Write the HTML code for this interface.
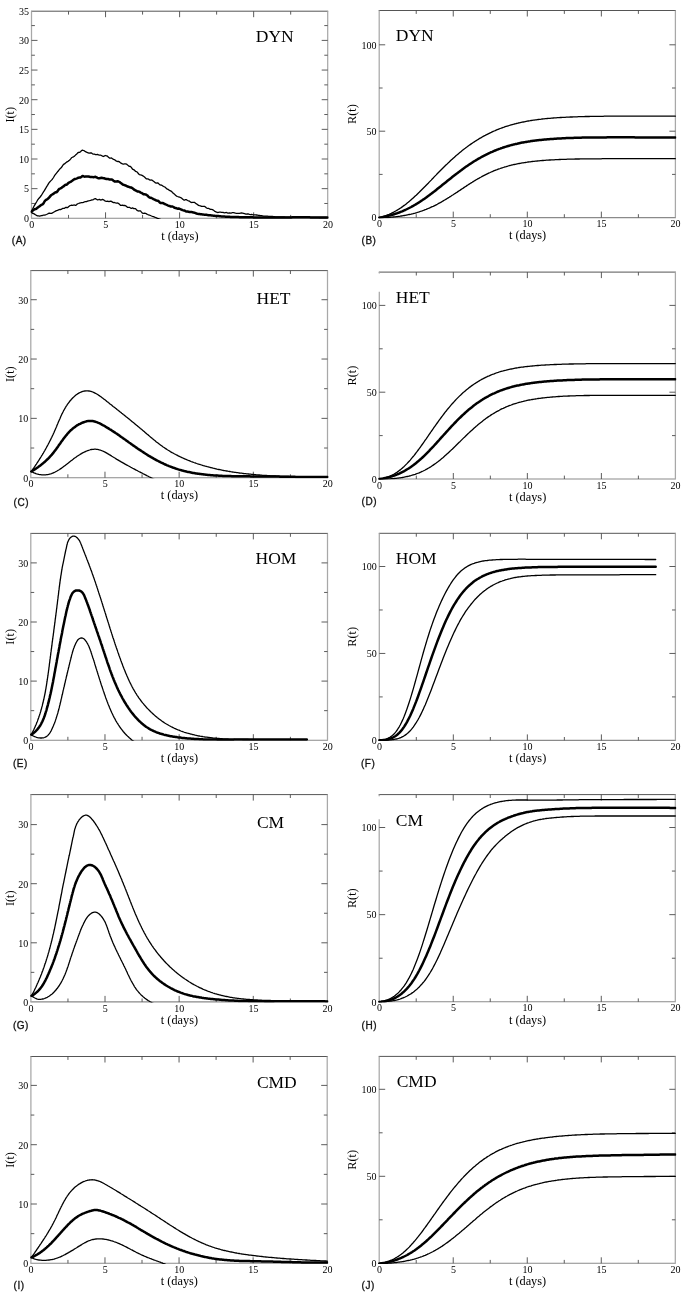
<!DOCTYPE html>
<html><head><meta charset="utf-8"><style>
html,body{margin:0;padding:0;background:#fff;}
body{width:685px;height:1302px;overflow:hidden;}
svg{display:block;will-change:transform;}
.fh{fill:none;stroke:#555;stroke-width:1;}
.fb{fill:none;stroke:#8a8a8a;stroke-width:1.1;}
.fv{fill:none;stroke:#a8a8a8;stroke-width:1.25;}
.t{fill:none;stroke:#4a4a4a;stroke-width:0.9;}
.th{fill:none;stroke:#000;stroke-width:1.3;stroke-linejoin:round;stroke-linecap:round;}
.tk{fill:none;stroke:#000;stroke-width:2.5;stroke-linejoin:round;stroke-linecap:round;}
text{font-family:"Liberation Serif",serif;fill:#000;}
.n{font-size:10px;}
.a{font-size:12.3px;}
.ti{font-size:17.5px;}
.pl{font-family:"Liberation Sans",sans-serif;font-size:10px;fill:#111;stroke:#111;stroke-width:0.3px;letter-spacing:0.5px;}
</style></head><body>
<svg width="685" height="1302" viewBox="0 0 685 1302">
<defs><clipPath id="cA"><rect x="30.50" y="10.20" width="298.20" height="208.70"/></clipPath><clipPath id="cC"><rect x="29.80" y="269.60" width="298.70" height="208.70"/></clipPath><clipPath id="cE"><rect x="29.80" y="532.40" width="298.70" height="208.40"/></clipPath><clipPath id="cG"><rect x="29.90" y="793.60" width="298.50" height="208.90"/></clipPath><clipPath id="cI"><rect x="29.90" y="1055.50" width="298.30" height="208.40"/></clipPath><clipPath id="cB"><rect x="378.20" y="9.50" width="298.20" height="208.70"/></clipPath><clipPath id="cD"><rect x="378.30" y="271.10" width="298.10" height="208.50"/></clipPath><clipPath id="cF"><rect x="378.30" y="532.30" width="298.10" height="208.70"/></clipPath><clipPath id="cH"><rect x="378.20" y="793.60" width="298.10" height="208.80"/></clipPath><clipPath id="cJ"><rect x="378.20" y="1055.40" width="298.10" height="208.50"/></clipPath></defs>
<rect width="685" height="1302" fill="#fff"/>
<g><path d="M31.00,11.20H328.20" class="fh"/><path d="M31.00,218.30H328.20" class="fb"/><path d="M31.50,11.20V218.30M327.70,11.20V218.30" class="fv"/><path d="M68.53,218.30v-3.4M68.53,11.20v3.4M105.55,218.30v-6.0M105.55,11.20v6.0M142.57,218.30v-3.4M142.57,11.20v3.4M179.60,218.30v-6.0M179.60,11.20v6.0M216.62,218.30v-3.4M216.62,11.20v3.4M253.65,218.30v-6.0M253.65,11.20v6.0M290.68,218.30v-3.4M290.68,11.20v3.4M31.50,203.48h3.4M327.70,203.48h-3.4M31.50,188.65h6.0M327.70,188.65h-6.0M31.50,173.83h3.4M327.70,173.83h-3.4M31.50,159.00h6.0M327.70,159.00h-6.0M31.50,144.18h3.4M327.70,144.18h-3.4M31.50,129.35h6.0M327.70,129.35h-6.0M31.50,114.53h3.4M327.70,114.53h-3.4M31.50,99.70h6.0M327.70,99.70h-6.0M31.50,84.88h3.4M327.70,84.88h-3.4M31.50,70.05h6.0M327.70,70.05h-6.0M31.50,55.23h3.4M327.70,55.23h-3.4M31.50,40.40h6.0M327.70,40.40h-6.0M31.50,25.58h3.4M327.70,25.58h-3.4" class="t"/><text x="31.70" y="227.90" class="n" text-anchor="middle">0</text><text x="105.75" y="227.90" class="n" text-anchor="middle">5</text><text x="179.80" y="227.90" class="n" text-anchor="middle">10</text><text x="253.85" y="227.90" class="n" text-anchor="middle">15</text><text x="327.90" y="227.90" class="n" text-anchor="middle">20</text><text x="28.90" y="222.10" class="n" text-anchor="end">0</text><text x="28.90" y="192.45" class="n" text-anchor="end">5</text><text x="28.90" y="162.80" class="n" text-anchor="end">10</text><text x="28.90" y="133.15" class="n" text-anchor="end">15</text><text x="28.90" y="103.50" class="n" text-anchor="end">20</text><text x="28.90" y="73.85" class="n" text-anchor="end">25</text><text x="28.90" y="44.20" class="n" text-anchor="end">30</text><text x="28.90" y="14.55" class="n" text-anchor="end">35</text><text x="179.90" y="240.00" class="a" text-anchor="middle">t (days)</text><text transform="translate(14.30,114.75) rotate(-90)" class="a" text-anchor="middle">I(t)</text><text x="255.80" y="42.30" class="ti">DYN</text><text x="11.80" y="243.50" class="pl">(A)</text><g clip-path="url(#cA)"><path d="M31.5,211.4 L32.5,209.2 L33.5,207.3 L34.5,205.3 L35.5,203.6 L36.5,202.0 L37.5,200.2 L38.5,198.8 L39.5,197.8 L40.5,196.5 L41.5,195.1 L42.5,193.5 L43.5,191.9 L44.5,190.4 L45.5,188.7 L46.5,186.9 L47.5,185.3 L48.5,183.6 L49.5,182.2 L50.5,181.1 L51.5,180.1 L52.5,179.0 L53.5,177.5 L54.5,175.7 L55.5,174.4 L56.5,173.1 L57.5,171.8 L58.5,170.7 L59.5,169.4 L60.5,168.3 L61.5,167.4 L62.5,165.8 L63.5,164.4 L64.5,163.9 L65.5,163.0 L66.5,162.2 L67.5,161.7 L68.5,160.9 L69.5,160.2 L70.5,159.1 L71.5,157.8 L72.5,157.2 L73.5,156.8 L74.5,156.1 L75.5,155.1 L76.5,154.3 L77.5,153.1 L78.5,152.4 L79.5,152.4 L80.5,151.7 L81.5,150.6 L82.5,150.2 L83.5,150.5 L84.5,150.9 L85.5,151.7 L86.5,152.2 L87.5,152.6 L88.5,153.0 L89.5,153.1 L90.5,152.9 L91.5,153.0 L92.5,153.8 L93.5,154.1 L94.5,154.2 L95.5,154.6 L96.5,154.6 L97.5,154.4 L98.5,154.9 L99.5,155.1 L100.5,155.1 L101.5,155.5 L102.5,156.2 L103.5,156.5 L104.5,155.9 L105.5,155.5 L106.5,155.8 L107.5,156.2 L108.5,157.2 L109.5,158.1 L110.5,158.1 L111.5,158.0 L112.5,158.7 L113.5,159.4 L114.5,159.7 L115.5,160.4 L116.5,161.2 L117.5,161.5 L118.5,161.3 L119.5,161.9 L120.5,162.8 L121.5,163.3 L122.5,163.8 L123.5,164.2 L124.5,163.9 L125.5,163.8 L126.5,164.1 L127.5,164.9 L128.5,165.9 L129.5,166.4 L130.5,166.5 L131.5,167.6 L132.5,169.2 L133.5,169.7 L134.5,170.2 L135.5,171.3 L136.5,171.7 L137.5,172.3 L138.5,173.8 L139.5,174.7 L140.5,174.9 L141.5,175.1 L142.5,175.6 L143.5,176.3 L144.5,177.0 L145.5,178.0 L146.5,178.9 L147.5,178.8 L148.5,179.1 L149.5,179.9 L150.5,180.2 L151.5,180.0 L152.5,180.4 L153.5,181.3 L154.5,182.1 L155.5,182.9 L156.5,183.2 L157.5,182.8 L158.5,183.4 L159.5,184.6 L160.5,185.0 L161.5,185.1 L162.5,185.7 L163.5,186.5 L164.5,186.8 L165.5,187.5 L166.5,188.6 L167.5,189.2 L168.5,189.7 L169.5,190.4 L170.5,190.9 L171.5,191.4 L172.5,192.5 L173.5,193.5 L174.5,194.1 L175.5,195.2 L176.5,196.1 L177.5,196.5 L178.5,196.8 L179.5,197.1 L180.5,197.5 L181.5,198.1 L182.5,198.9 L183.5,199.8 L184.5,200.2 L185.5,199.7 L186.5,199.7 L187.5,200.5 L188.5,200.8 L189.5,201.2 L190.5,202.1 L191.5,202.5 L192.5,202.4 L193.5,202.3 L194.5,202.3 L195.5,203.2 L196.5,203.9 L197.5,204.5 L198.5,205.4 L199.5,205.7 L200.5,205.8 L201.5,206.3 L202.5,206.4 L203.5,206.3 L204.5,206.4 L205.5,207.0 L206.5,208.0 L207.5,208.3 L208.5,208.3 L209.5,208.9 L210.5,209.4 L211.5,209.4 L212.5,209.6 L213.5,210.3 L214.5,211.1 L215.5,211.7 L216.5,212.2 L217.5,212.5 L218.5,212.3 L219.5,212.1 L220.5,212.2 L221.5,212.3 L222.5,212.3 L223.5,212.5 L224.5,212.8 L225.5,212.6 L226.5,212.5 L227.5,213.0 L228.5,213.1 L229.5,212.9 L230.5,213.2 L231.5,213.0 L232.5,212.7 L233.5,212.6 L234.5,212.9 L235.5,213.2 L236.5,213.4 L237.5,213.4 L238.5,213.3 L239.5,213.3 L240.5,213.1 L241.5,213.0 L242.5,213.1 L243.5,213.3 L244.5,213.6 L245.5,214.0 L246.5,214.1 L247.5,213.9 L248.5,214.0 L249.5,214.4 L250.5,214.6 L251.5,214.5 L252.5,214.7 L253.5,214.8 L254.5,214.8 L255.5,214.9 L256.5,215.0 L257.5,215.2 L258.5,215.4 L259.5,215.5 L260.5,215.6 L261.5,215.7 L262.5,215.9 L263.5,216.1 L264.5,216.1 L265.5,216.1 L266.5,216.2 L267.5,216.2 L268.5,216.3 L269.5,216.4 L270.5,216.4 L271.5,216.4 L272.5,216.5 L273.5,216.6 L274.5,216.7 L275.5,216.8 L276.5,216.8 L277.5,216.8 L278.5,216.9 L279.5,216.9 L280.5,217.0 L281.5,217.0 L282.5,217.0 L283.5,217.0 L284.5,217.0 L285.5,217.1 L286.5,217.1 L287.5,217.1 L288.5,217.2 L289.5,217.2 L290.5,217.2 L291.5,217.2 L292.5,217.3 L293.5,217.3 L294.5,217.3 L295.5,217.3 L296.5,217.3 L297.5,217.3 L298.5,217.3 L299.5,217.4 L300.5,217.4 L301.5,217.4 L302.5,217.4 L303.5,217.4 L304.5,217.4 L305.5,217.4 L306.5,217.4 L307.5,217.4 L308.5,217.4 L309.5,217.4 L310.5,217.4 L311.5,217.4 L312.5,217.4 L313.5,217.4 L314.5,217.4 L315.5,217.4 L316.5,217.4 L317.5,217.4 L318.5,217.4 L319.5,217.5 L320.5,217.5 L321.5,217.5 L322.5,217.5 L323.5,217.5 L324.5,217.5 L325.5,217.5 L326.5,217.5" class="th"/><path d="M31.5,212.5 L32.5,213.3 L33.5,213.5 L34.5,214.1 L35.5,214.8 L36.5,215.4 L37.5,215.8 L38.5,215.9 L39.5,216.1 L40.5,215.9 L41.5,215.7 L42.5,215.5 L43.5,215.2 L44.5,215.1 L45.5,214.8 L46.5,214.5 L47.5,214.0 L48.5,213.4 L49.5,213.1 L50.5,213.3 L51.5,213.3 L52.5,212.9 L53.5,212.3 L54.5,211.7 L55.5,211.1 L56.5,210.6 L57.5,210.3 L58.5,209.8 L59.5,209.5 L60.5,209.7 L61.5,209.2 L62.5,208.4 L63.5,208.4 L64.5,208.3 L65.5,207.5 L66.5,207.5 L67.5,207.7 L68.5,206.8 L69.5,205.9 L70.5,205.5 L71.5,205.2 L72.5,205.3 L73.5,205.1 L74.5,205.0 L75.5,205.3 L76.5,204.8 L77.5,203.8 L78.5,203.5 L79.5,203.1 L80.5,202.8 L81.5,202.7 L82.5,202.6 L83.5,202.4 L84.5,201.8 L85.5,201.7 L86.5,201.6 L87.5,201.1 L88.5,200.8 L89.5,200.7 L90.5,200.4 L91.5,200.0 L92.5,199.9 L93.5,199.6 L94.5,198.8 L95.5,198.6 L96.5,199.3 L97.5,199.9 L98.5,199.7 L99.5,199.4 L100.5,200.0 L101.5,199.8 L102.5,199.3 L103.5,199.8 L104.5,200.6 L105.5,201.1 L106.5,201.3 L107.5,201.2 L108.5,201.5 L109.5,201.5 L110.5,201.2 L111.5,201.4 L112.5,202.1 L113.5,202.6 L114.5,202.5 L115.5,202.9 L116.5,203.1 L117.5,203.0 L118.5,203.4 L119.5,204.3 L120.5,205.4 L121.5,205.4 L122.5,205.1 L123.5,205.5 L124.5,205.5 L125.5,205.7 L126.5,206.4 L127.5,207.3 L128.5,207.3 L129.5,207.3 L130.5,208.1 L131.5,208.3 L132.5,207.9 L133.5,208.5 L134.5,208.7 L135.5,208.6 L136.5,209.7 L137.5,210.7 L138.5,211.0 L139.5,210.8 L140.5,210.9 L141.5,212.1 L142.5,213.2 L143.5,213.4 L144.5,213.2 L145.5,213.3 L146.5,213.9 L147.5,214.5 L148.5,214.8 L149.5,215.2 L150.5,215.5 L151.5,216.0 L152.5,216.4 L153.5,216.7 L154.5,217.1 L155.5,217.5 L156.5,217.9 L157.5,218.3 L158.5,218.6 L159.5,219.0 L160.5,219.4 L161.5,219.8" class="th"/><path d="M31.5,211.7 L32.5,210.8 L33.5,210.1 L34.5,209.3 L35.5,209.0 L36.5,208.7 L37.5,207.7 L38.5,206.9 L39.5,206.4 L40.5,205.5 L41.5,204.8 L42.5,204.4 L43.5,203.3 L44.5,201.5 L45.5,200.2 L46.5,199.6 L47.5,199.1 L48.5,198.3 L49.5,197.1 L50.5,195.9 L51.5,194.8 L52.5,194.4 L53.5,193.8 L54.5,192.8 L55.5,192.3 L56.5,192.2 L57.5,191.3 L58.5,189.7 L59.5,188.8 L60.5,188.4 L61.5,187.9 L62.5,187.0 L63.5,186.4 L64.5,185.6 L65.5,184.8 L66.5,184.7 L67.5,183.9 L68.5,182.8 L69.5,182.3 L70.5,181.9 L71.5,181.2 L72.5,180.5 L73.5,179.7 L74.5,179.1 L75.5,178.9 L76.5,178.6 L77.5,178.2 L78.5,177.7 L79.5,177.5 L80.5,177.5 L81.5,176.8 L82.5,176.0 L83.5,176.3 L84.5,176.7 L85.5,176.6 L86.5,176.6 L87.5,176.6 L88.5,176.5 L89.5,176.8 L90.5,177.1 L91.5,176.9 L92.5,177.1 L93.5,177.2 L94.5,176.9 L95.5,176.8 L96.5,177.3 L97.5,177.9 L98.5,178.3 L99.5,178.3 L100.5,178.0 L101.5,177.8 L102.5,178.0 L103.5,178.2 L104.5,178.3 L105.5,178.8 L106.5,179.1 L107.5,179.0 L108.5,179.1 L109.5,179.5 L110.5,179.6 L111.5,179.4 L112.5,179.9 L113.5,180.8 L114.5,181.4 L115.5,181.6 L116.5,181.4 L117.5,181.3 L118.5,181.5 L119.5,182.0 L120.5,182.8 L121.5,183.5 L122.5,184.3 L123.5,184.8 L124.5,185.1 L125.5,185.5 L126.5,185.9 L127.5,186.6 L128.5,186.8 L129.5,187.1 L130.5,187.5 L131.5,187.6 L132.5,188.2 L133.5,189.1 L134.5,189.9 L135.5,190.4 L136.5,190.9 L137.5,191.5 L138.5,191.4 L139.5,191.8 L140.5,192.6 L141.5,192.9 L142.5,193.5 L143.5,194.3 L144.5,194.3 L145.5,194.4 L146.5,194.9 L147.5,195.6 L148.5,196.8 L149.5,197.5 L150.5,197.7 L151.5,198.0 L152.5,198.5 L153.5,199.2 L154.5,199.6 L155.5,200.0 L156.5,200.6 L157.5,200.7 L158.5,201.0 L159.5,202.2 L160.5,203.0 L161.5,202.9 L162.5,203.0 L163.5,203.3 L164.5,203.8 L165.5,204.3 L166.5,204.7 L167.5,205.3 L168.5,205.7 L169.5,205.9 L170.5,206.5 L171.5,206.6 L172.5,206.5 L173.5,207.0 L174.5,207.8 L175.5,208.0 L176.5,208.3 L177.5,208.7 L178.5,208.5 L179.5,208.7 L180.5,209.3 L181.5,209.6 L182.5,210.1 L183.5,210.4 L184.5,210.5 L185.5,211.1 L186.5,211.6 L187.5,211.6 L188.5,211.8 L189.5,212.0 L190.5,211.9 L191.5,211.9 L192.5,212.3 L193.5,212.6 L194.5,212.7 L195.5,213.1 L196.5,213.5 L197.5,213.8 L198.5,213.9 L199.5,214.0 L200.5,214.2 L201.5,214.3 L202.5,214.4 L203.5,214.6 L204.5,214.7 L205.5,214.8 L206.5,214.8 L207.5,215.1 L208.5,215.3 L209.5,215.3 L210.5,215.3 L211.5,215.4 L212.5,215.6 L213.5,215.7 L214.5,215.8 L215.5,215.9 L216.5,216.0 L217.5,216.0 L218.5,216.0 L219.5,216.2 L220.5,216.3 L221.5,216.4 L222.5,216.4 L223.5,216.5 L224.5,216.6 L225.5,216.7 L226.5,216.7 L227.5,216.7 L228.5,216.8 L229.5,216.8 L230.5,216.9 L231.5,216.9 L232.5,216.9 L233.5,217.0 L234.5,217.0 L235.5,217.1 L236.5,217.1 L237.5,217.1 L238.5,217.1 L239.5,217.2 L240.5,217.2 L241.5,217.2 L242.5,217.2 L243.5,217.2 L244.5,217.3 L245.5,217.3 L246.5,217.3 L247.5,217.3 L248.5,217.3 L249.5,217.3 L250.5,217.3 L251.5,217.3 L252.5,217.3 L253.5,217.4 L254.5,217.4 L255.5,217.4 L256.5,217.4 L257.5,217.4 L258.5,217.4 L259.5,217.4 L260.5,217.4 L261.5,217.4 L262.5,217.4 L263.5,217.4 L264.5,217.4 L265.5,217.4 L266.5,217.4 L267.5,217.4 L268.5,217.4 L269.5,217.4 L270.5,217.4 L271.5,217.4 L272.5,217.4 L273.5,217.4 L274.5,217.4 L275.5,217.4 L276.5,217.4 L277.5,217.4 L278.5,217.4 L279.5,217.4 L280.5,217.4 L281.5,217.4 L282.5,217.4 L283.5,217.4 L284.5,217.4 L285.5,217.4 L286.5,217.4 L287.5,217.4 L288.5,217.4 L289.5,217.4 L290.5,217.4 L291.5,217.4 L292.5,217.3 L293.5,217.3 L294.5,217.3 L295.5,217.3 L296.5,217.3 L297.5,217.3 L298.5,217.3 L299.5,217.3 L300.5,217.3 L301.5,217.3 L302.5,217.3 L303.5,217.3 L304.5,217.3 L305.5,217.3 L306.5,217.3 L307.5,217.3 L308.5,217.3 L309.5,217.3 L310.5,217.4 L311.5,217.4 L312.5,217.4 L313.5,217.4 L314.5,217.4 L315.5,217.4 L316.5,217.4 L317.5,217.4 L318.5,217.4 L319.5,217.4 L320.5,217.4 L321.5,217.4 L322.5,217.4 L323.5,217.4 L324.5,217.5 L325.5,217.5 L326.5,217.5 L327.5,217.5" class="tk"/></g></g>
<g><path d="M30.30,270.60H328.00" class="fh"/><path d="M30.30,477.70H328.00" class="fb"/><path d="M30.80,270.60V477.70M327.50,270.60V477.70" class="fv"/><path d="M67.89,477.70v-3.4M67.89,270.60v3.4M104.97,477.70v-6.0M104.97,270.60v6.0M142.06,477.70v-3.4M142.06,270.60v3.4M179.15,477.70v-6.0M179.15,270.60v6.0M216.24,477.70v-3.4M216.24,270.60v3.4M253.33,477.70v-6.0M253.33,270.60v6.0M290.41,477.70v-3.4M290.41,270.60v3.4M30.80,448.03h3.4M327.50,448.03h-3.4M30.80,418.37h6.0M327.50,418.37h-6.0M30.80,388.70h3.4M327.50,388.70h-3.4M30.80,359.04h6.0M327.50,359.04h-6.0M30.80,329.38h3.4M327.50,329.38h-3.4M30.80,299.71h6.0M327.50,299.71h-6.0" class="t"/><text x="31.00" y="487.30" class="n" text-anchor="middle">0</text><text x="105.17" y="487.30" class="n" text-anchor="middle">5</text><text x="179.35" y="487.30" class="n" text-anchor="middle">10</text><text x="253.53" y="487.30" class="n" text-anchor="middle">15</text><text x="327.70" y="487.30" class="n" text-anchor="middle">20</text><text x="28.20" y="481.50" class="n" text-anchor="end">0</text><text x="28.20" y="422.17" class="n" text-anchor="end">10</text><text x="28.20" y="362.84" class="n" text-anchor="end">20</text><text x="28.20" y="303.51" class="n" text-anchor="end">30</text><text x="179.45" y="499.40" class="a" text-anchor="middle">t (days)</text><text transform="translate(14.30,374.15) rotate(-90)" class="a" text-anchor="middle">I(t)</text><text x="256.50" y="303.50" class="ti">HET</text><text x="13.60" y="505.80" class="pl">(C)</text><g clip-path="url(#cC)"><path d="M31.3,471.5 L31.9,470.7 L32.4,469.9 L33.0,469.0 L33.6,468.2 L34.2,467.4 L34.7,466.6 L35.3,465.7 L35.8,464.9 L36.4,464.1 L36.9,463.2 L37.5,462.4 L38.0,461.6 L38.6,460.7 L39.1,459.9 L39.6,459.0 L40.2,458.2 L40.7,457.3 L41.2,456.5 L41.7,455.6 L42.3,454.8 L42.8,453.9 L43.3,453.1 L43.8,452.2 L44.3,451.3 L44.8,450.5 L45.3,449.6 L45.8,448.7 L46.3,447.8 L46.7,447.0 L47.2,446.1 L47.7,445.2 L48.2,444.3 L48.6,443.4 L49.1,442.6 L49.5,441.7 L50.0,440.8 L50.5,439.9 L50.9,439.0 L51.3,438.1 L51.8,437.2 L52.2,436.3 L52.6,435.4 L53.1,434.5 L53.5,433.6 L53.9,432.7 L54.3,431.7 L54.7,430.8 L55.1,429.9 L55.5,429.0 L55.9,428.1 L56.3,427.2 L56.7,426.2 L57.0,425.3 L57.4,424.4 L57.8,423.5 L58.2,422.5 L58.6,421.6 L59.0,420.7 L59.4,419.8 L59.8,418.9 L60.2,417.9 L60.6,417.0 L61.0,416.1 L61.4,415.2 L61.8,414.3 L62.3,413.4 L62.7,412.5 L63.2,411.6 L63.6,410.7 L64.1,409.9 L64.6,409.0 L65.1,408.1 L65.6,407.3 L66.1,406.4 L66.7,405.6 L67.2,404.7 L67.8,403.9 L68.4,403.1 L69.0,402.3 L69.6,401.5 L70.2,400.7 L70.9,400.0 L71.5,399.2 L72.2,398.5 L72.9,397.8 L73.6,397.1 L74.4,396.4 L75.1,395.7 L75.9,395.1 L76.7,394.5 L77.5,393.9 L78.4,393.4 L79.2,392.9 L80.1,392.5 L81.0,392.1 L82.0,391.7 L82.9,391.4 L83.9,391.2 L84.9,391.0 L85.9,390.9 L86.9,390.9 L87.9,390.9 L88.9,391.0 L89.9,391.2 L90.8,391.4 L91.8,391.7 L92.7,392.0 L93.6,392.4 L94.6,392.9 L95.4,393.3 L96.3,393.8 L97.2,394.3 L98.0,394.8 L98.9,395.4 L99.7,395.9 L100.5,396.5 L101.3,397.1 L102.1,397.7 L102.9,398.3 L103.7,398.9 L104.5,399.5 L105.3,400.1 L106.1,400.7 L106.9,401.4 L107.7,402.0 L108.4,402.6 L109.2,403.2 L110.0,403.9 L110.8,404.5 L111.6,405.1 L112.3,405.7 L113.1,406.4 L113.9,407.0 L114.7,407.6 L115.5,408.2 L116.3,408.8 L117.0,409.5 L117.8,410.1 L118.6,410.7 L119.4,411.3 L120.2,412.0 L121.0,412.6 L121.7,413.2 L122.5,413.8 L123.3,414.5 L124.1,415.1 L124.9,415.7 L125.6,416.3 L126.4,417.0 L127.2,417.6 L128.0,418.2 L128.8,418.8 L129.5,419.5 L130.3,420.1 L131.1,420.7 L131.9,421.4 L132.6,422.0 L133.4,422.6 L134.2,423.2 L135.0,423.9 L135.7,424.5 L136.5,425.2 L137.3,425.8 L138.0,426.4 L138.8,427.1 L139.6,427.7 L140.3,428.4 L141.1,429.0 L141.9,429.6 L142.6,430.3 L143.4,430.9 L144.2,431.6 L144.9,432.2 L145.7,432.9 L146.4,433.5 L147.2,434.2 L148.0,434.8 L148.7,435.5 L149.5,436.1 L150.2,436.8 L151.0,437.4 L151.8,438.1 L152.5,438.7 L153.3,439.3 L154.1,440.0 L154.9,440.6 L155.6,441.2 L156.4,441.9 L157.2,442.5 L158.0,443.1 L158.8,443.7 L159.6,444.3 L160.4,444.9 L161.2,445.5 L162.0,446.1 L162.8,446.7 L163.6,447.2 L164.5,447.8 L165.3,448.4 L166.1,448.9 L167.0,449.5 L167.8,450.0 L168.7,450.5 L169.5,451.0 L170.4,451.6 L171.2,452.1 L172.1,452.6 L173.0,453.0 L173.8,453.5 L174.7,454.0 L175.6,454.5 L176.5,454.9 L177.4,455.4 L178.3,455.9 L179.2,456.3 L180.1,456.7 L181.0,457.2 L181.9,457.6 L182.8,458.0 L183.7,458.4 L184.6,458.8 L185.5,459.2 L186.5,459.6 L187.4,460.0 L188.3,460.4 L189.2,460.7 L190.2,461.1 L191.1,461.5 L192.0,461.8 L193.0,462.2 L193.9,462.5 L194.9,462.8 L195.8,463.2 L196.7,463.5 L197.7,463.8 L198.6,464.1 L199.6,464.4 L200.5,464.7 L201.5,465.0 L202.5,465.3 L203.4,465.6 L204.4,465.9 L205.3,466.2 L206.3,466.4 L207.3,466.7 L208.2,466.9 L209.2,467.2 L210.2,467.5 L211.1,467.7 L212.1,467.9 L213.1,468.2 L214.1,468.4 L215.0,468.6 L216.0,468.8 L217.0,469.1 L218.0,469.3 L218.9,469.5 L219.9,469.7 L220.9,469.9 L221.9,470.1 L222.9,470.3 L223.8,470.5 L224.8,470.6 L225.8,470.8 L226.8,471.0 L227.8,471.2 L228.8,471.3 L229.7,471.5 L230.7,471.7 L231.7,471.8 L232.7,472.0 L233.7,472.1 L234.7,472.3 L235.7,472.4 L236.7,472.6 L237.7,472.7 L238.7,472.8 L239.6,473.0 L240.6,473.1 L241.6,473.2 L242.6,473.3 L243.6,473.5 L244.6,473.6 L245.6,473.7 L246.6,473.8 L247.6,473.9 L248.6,474.0 L249.6,474.1 L250.6,474.2 L251.6,474.3 L252.6,474.4 L253.6,474.5 L254.6,474.6 L255.5,474.7 L256.5,474.8 L257.5,474.9 L258.5,475.0 L259.5,475.0 L260.5,475.1 L261.5,475.2 L262.5,475.3 L263.5,475.3 L264.5,475.4 L265.5,475.5 L266.5,475.5 L267.5,475.6 L268.5,475.7 L269.5,475.7 L270.5,475.8 L271.5,475.8 L272.5,475.9 L273.5,475.9 L274.5,476.0 L275.5,476.0 L276.5,476.1 L277.5,476.1 L278.5,476.2 L279.5,476.2 L280.5,476.3 L281.5,476.3 L282.5,476.3 L283.5,476.4 L284.5,476.4 L285.5,476.5 L286.5,476.5 L287.5,476.5 L288.5,476.5 L289.5,476.6 L290.5,476.6 L291.5,476.6 L292.5,476.7 L293.5,476.7 L294.5,476.7 L295.5,476.7 L296.5,476.7 L297.5,476.8 L298.5,476.8 L299.5,476.8 L300.5,476.8 L301.5,476.8 L302.5,476.8 L303.5,476.9 L304.5,476.9 L305.5,476.9 L306.5,476.9 L307.5,476.9 L308.5,476.9 L309.5,476.9 L310.5,476.9 L311.5,476.9 L312.5,476.9 L313.5,476.9 L314.5,477.0 L315.5,477.0 L316.5,477.0 L317.5,477.0 L318.5,477.0 L319.5,477.0 L320.5,477.0 L321.5,477.0 L322.5,477.0 L323.5,477.0 L324.5,477.0 L325.5,477.0 L326.5,477.0 L327.5,477.0 L327.5,477.0" class="th"/><path d="M31.3,471.5 L32.2,472.0 L33.1,472.4 L34.0,472.9 L34.9,473.2 L35.8,473.6 L36.8,473.9 L37.8,474.1 L38.7,474.4 L39.7,474.6 L40.7,474.7 L41.7,474.8 L42.7,474.9 L43.7,474.9 L44.7,474.9 L45.7,474.8 L46.7,474.7 L47.7,474.6 L48.6,474.4 L49.6,474.1 L50.6,473.9 L51.5,473.6 L52.5,473.2 L53.4,472.8 L54.3,472.4 L55.2,472.0 L56.1,471.5 L57.0,471.0 L57.8,470.5 L58.7,470.0 L59.5,469.5 L60.4,468.9 L61.2,468.4 L62.0,467.8 L62.8,467.2 L63.6,466.6 L64.4,466.0 L65.2,465.4 L66.0,464.8 L66.8,464.2 L67.6,463.6 L68.4,463.0 L69.2,462.3 L69.9,461.7 L70.7,461.1 L71.5,460.5 L72.3,459.9 L73.1,459.3 L73.9,458.6 L74.7,458.0 L75.5,457.5 L76.3,456.9 L77.1,456.3 L78.0,455.7 L78.8,455.2 L79.6,454.7 L80.5,454.1 L81.4,453.6 L82.2,453.1 L83.1,452.7 L84.0,452.2 L84.9,451.8 L85.8,451.4 L86.7,451.0 L87.7,450.6 L88.6,450.3 L89.6,450.0 L90.5,449.7 L91.5,449.5 L92.5,449.4 L93.5,449.3 L94.5,449.2 L95.5,449.2 L96.5,449.3 L97.5,449.4 L98.5,449.6 L99.4,449.9 L100.4,450.2 L101.3,450.5 L102.3,450.9 L103.2,451.2 L104.1,451.7 L105.0,452.1 L105.9,452.6 L106.8,453.1 L107.6,453.6 L108.5,454.1 L109.3,454.6 L110.2,455.1 L111.0,455.6 L111.9,456.2 L112.7,456.7 L113.6,457.2 L114.4,457.8 L115.3,458.3 L116.1,458.9 L116.9,459.4 L117.8,459.9 L118.7,460.4 L119.5,460.9 L120.4,461.4 L121.2,461.9 L122.1,462.4 L123.0,462.9 L123.9,463.4 L124.7,463.9 L125.6,464.4 L126.5,464.9 L127.4,465.3 L128.2,465.8 L129.1,466.3 L130.0,466.8 L130.9,467.3 L131.8,467.7 L132.6,468.2 L133.5,468.7 L134.4,469.1 L135.3,469.6 L136.2,470.1 L137.1,470.5 L137.9,471.0 L138.8,471.5 L139.7,471.9 L140.6,472.4 L141.5,472.8 L142.4,473.3 L143.3,473.8 L144.2,474.2 L145.0,474.7 L145.9,475.1 L146.8,475.6 L147.7,476.0 L148.6,476.5 L149.5,477.0 L150.4,477.4 L151.3,477.9 L152.2,478.3 L153.1,478.8 L153.9,479.2 L154.8,479.7 L155.7,480.2 L156.6,480.7 L157.4,481.2 L158.3,481.8 L159.1,482.3 L159.9,482.9 L160.0,483.0" class="th"/><path d="M31.3,471.5 L32.2,471.0 L33.0,470.5 L33.9,469.9 L34.7,469.4 L35.5,468.9 L36.4,468.3 L37.2,467.7 L38.0,467.2 L38.8,466.6 L39.6,466.0 L40.4,465.4 L41.2,464.8 L42.0,464.1 L42.8,463.5 L43.5,462.9 L44.3,462.2 L45.1,461.5 L45.8,460.9 L46.5,460.2 L47.2,459.5 L48.0,458.8 L48.7,458.1 L49.4,457.4 L50.0,456.6 L50.7,455.9 L51.4,455.2 L52.0,454.4 L52.7,453.6 L53.3,452.9 L53.9,452.1 L54.5,451.3 L55.1,450.5 L55.7,449.7 L56.3,448.9 L56.9,448.1 L57.5,447.2 L58.1,446.4 L58.6,445.6 L59.2,444.8 L59.8,444.0 L60.4,443.2 L60.9,442.3 L61.5,441.5 L62.1,440.7 L62.7,439.9 L63.3,439.1 L63.9,438.3 L64.5,437.5 L65.1,436.7 L65.7,435.9 L66.4,435.2 L67.0,434.4 L67.6,433.6 L68.3,432.9 L69.0,432.1 L69.7,431.4 L70.4,430.7 L71.1,430.0 L71.9,429.4 L72.6,428.7 L73.4,428.1 L74.2,427.5 L75.0,426.9 L75.8,426.3 L76.6,425.7 L77.5,425.2 L78.3,424.7 L79.2,424.2 L80.1,423.8 L81.0,423.3 L81.9,422.9 L82.9,422.5 L83.8,422.2 L84.7,421.9 L85.7,421.6 L86.7,421.3 L87.6,421.1 L88.6,421.0 L89.6,420.9 L90.6,420.9 L91.6,421.0 L92.6,421.1 L93.6,421.3 L94.6,421.5 L95.5,421.8 L96.5,422.1 L97.4,422.4 L98.3,422.8 L99.3,423.2 L100.2,423.7 L101.1,424.1 L101.9,424.6 L102.8,425.1 L103.7,425.5 L104.6,426.0 L105.4,426.6 L106.3,427.1 L107.1,427.6 L108.0,428.1 L108.8,428.6 L109.7,429.2 L110.5,429.7 L111.4,430.2 L112.2,430.8 L113.1,431.3 L113.9,431.9 L114.7,432.4 L115.6,433.0 L116.4,433.5 L117.2,434.1 L118.0,434.7 L118.9,435.2 L119.7,435.8 L120.5,436.4 L121.3,437.0 L122.1,437.5 L122.9,438.1 L123.8,438.7 L124.6,439.3 L125.4,439.8 L126.2,440.4 L127.0,441.0 L127.8,441.6 L128.6,442.2 L129.5,442.8 L130.3,443.3 L131.1,443.9 L131.9,444.5 L132.7,445.1 L133.5,445.6 L134.4,446.2 L135.2,446.8 L136.0,447.4 L136.8,447.9 L137.6,448.5 L138.5,449.1 L139.3,449.6 L140.1,450.2 L141.0,450.7 L141.8,451.3 L142.6,451.8 L143.5,452.4 L144.3,452.9 L145.2,453.5 L146.0,454.0 L146.8,454.5 L147.7,455.1 L148.5,455.6 L149.4,456.1 L150.3,456.6 L151.1,457.1 L152.0,457.6 L152.9,458.1 L153.7,458.6 L154.6,459.1 L155.5,459.6 L156.3,460.1 L157.2,460.5 L158.1,461.0 L159.0,461.5 L159.9,461.9 L160.8,462.4 L161.7,462.8 L162.6,463.2 L163.5,463.7 L164.4,464.1 L165.3,464.5 L166.2,464.9 L167.1,465.3 L168.1,465.7 L169.0,466.1 L169.9,466.4 L170.9,466.8 L171.8,467.1 L172.7,467.5 L173.7,467.8 L174.6,468.1 L175.6,468.5 L176.5,468.8 L177.5,469.1 L178.4,469.4 L179.4,469.7 L180.3,469.9 L181.3,470.2 L182.3,470.5 L183.2,470.7 L184.2,471.0 L185.2,471.2 L186.2,471.4 L187.1,471.7 L188.1,471.9 L189.1,472.1 L190.1,472.3 L191.0,472.5 L192.0,472.7 L193.0,472.9 L194.0,473.0 L195.0,473.2 L196.0,473.4 L196.9,473.5 L197.9,473.7 L198.9,473.8 L199.9,474.0 L200.9,474.1 L201.9,474.2 L202.9,474.3 L203.9,474.5 L204.9,474.6 L205.9,474.7 L206.9,474.8 L207.9,474.9 L208.9,475.0 L209.9,475.1 L210.8,475.2 L211.8,475.2 L212.8,475.3 L213.8,475.4 L214.8,475.5 L215.8,475.5 L216.8,475.6 L217.8,475.6 L218.8,475.7 L219.8,475.8 L220.8,475.8 L221.8,475.8 L222.8,475.9 L223.8,475.9 L224.8,476.0 L225.8,476.0 L226.8,476.0 L227.8,476.1 L228.8,476.1 L229.8,476.1 L230.8,476.1 L231.8,476.2 L232.8,476.2 L233.8,476.2 L234.8,476.2 L235.8,476.2 L236.8,476.2 L237.8,476.3 L238.8,476.3 L239.8,476.3 L240.8,476.3 L241.8,476.3 L242.8,476.3 L243.8,476.3 L244.8,476.3 L245.8,476.3 L246.8,476.3 L247.8,476.3 L248.8,476.3 L249.8,476.3 L250.8,476.4 L251.8,476.4 L252.8,476.4 L253.8,476.4 L254.8,476.4 L255.8,476.4 L256.8,476.4 L257.8,476.4 L258.8,476.4 L259.8,476.4 L260.8,476.4 L261.8,476.4 L262.8,476.5 L263.8,476.5 L264.8,476.5 L265.8,476.5 L266.8,476.5 L267.8,476.5 L268.8,476.5 L269.8,476.5 L270.8,476.5 L271.8,476.6 L272.8,476.6 L273.8,476.6 L274.8,476.6 L275.8,476.6 L276.8,476.6 L277.8,476.6 L278.8,476.6 L279.8,476.7 L280.8,476.7 L281.8,476.7 L282.8,476.7 L283.8,476.7 L284.8,476.7 L285.8,476.7 L286.8,476.7 L287.8,476.8 L288.8,476.8 L289.8,476.8 L290.8,476.8 L291.8,476.8 L292.8,476.8 L293.8,476.8 L294.8,476.8 L295.8,476.9 L296.8,476.9 L297.8,476.9 L298.8,476.9 L299.8,476.9 L300.8,476.9 L301.8,476.9 L302.8,476.9 L303.8,476.9 L304.8,476.9 L305.8,476.9 L306.8,477.0 L307.8,477.0 L308.8,477.0 L309.8,477.0 L310.8,477.0 L311.8,477.0 L312.8,477.0 L313.8,477.0 L314.8,477.0 L315.8,477.0 L316.8,477.0 L317.8,477.0 L318.8,477.0 L319.8,477.0 L320.8,477.0 L321.8,477.0 L322.8,477.0 L323.8,477.0 L324.8,477.0 L325.8,477.0 L326.8,477.0 L327.5,477.0" class="tk"/></g></g>
<g><path d="M30.30,533.40H328.00" class="fh"/><path d="M30.30,740.20H328.00" class="fb"/><path d="M30.80,533.40V740.20M327.50,533.40V740.20" class="fv"/><path d="M67.89,740.20v-3.4M67.89,533.40v3.4M104.97,740.20v-6.0M104.97,533.40v6.0M142.06,740.20v-3.4M142.06,533.40v3.4M179.15,740.20v-6.0M179.15,533.40v6.0M216.24,740.20v-3.4M216.24,533.40v3.4M253.33,740.20v-6.0M253.33,533.40v6.0M290.41,740.20v-3.4M290.41,533.40v3.4M30.80,710.65h3.4M327.50,710.65h-3.4M30.80,681.10h6.0M327.50,681.10h-6.0M30.80,651.55h3.4M327.50,651.55h-3.4M30.80,622.00h6.0M327.50,622.00h-6.0M30.80,592.45h3.4M327.50,592.45h-3.4M30.80,562.90h6.0M327.50,562.90h-6.0" class="t"/><text x="31.00" y="749.80" class="n" text-anchor="middle">0</text><text x="105.17" y="749.80" class="n" text-anchor="middle">5</text><text x="179.35" y="749.80" class="n" text-anchor="middle">10</text><text x="253.53" y="749.80" class="n" text-anchor="middle">15</text><text x="327.70" y="749.80" class="n" text-anchor="middle">20</text><text x="28.20" y="744.00" class="n" text-anchor="end">0</text><text x="28.20" y="684.90" class="n" text-anchor="end">10</text><text x="28.20" y="625.80" class="n" text-anchor="end">20</text><text x="28.20" y="566.70" class="n" text-anchor="end">30</text><text x="179.45" y="761.90" class="a" text-anchor="middle">t (days)</text><text transform="translate(14.30,636.80) rotate(-90)" class="a" text-anchor="middle">I(t)</text><text x="255.60" y="564.40" class="ti">HOM</text><text x="13.00" y="766.70" class="pl">(E)</text><g clip-path="url(#cE)"><path d="M31.3,734.6 L31.8,733.7 L32.2,732.8 L32.7,731.9 L33.1,731.0 L33.6,730.1 L34.0,729.2 L34.4,728.3 L34.8,727.4 L35.2,726.5 L35.6,725.6 L36.0,724.7 L36.4,723.7 L36.7,722.8 L37.1,721.9 L37.5,720.9 L37.8,720.0 L38.2,719.1 L38.5,718.1 L38.8,717.2 L39.1,716.2 L39.5,715.3 L39.8,714.3 L40.1,713.4 L40.4,712.4 L40.7,711.5 L40.9,710.5 L41.2,709.5 L41.5,708.6 L41.7,707.6 L42.0,706.6 L42.3,705.7 L42.5,704.7 L42.7,703.7 L43.0,702.8 L43.2,701.8 L43.4,700.8 L43.7,699.8 L43.9,698.9 L44.1,697.9 L44.3,696.9 L44.5,695.9 L44.7,695.0 L44.9,694.0 L45.1,693.0 L45.3,692.0 L45.5,691.0 L45.6,690.0 L45.8,689.1 L46.0,688.1 L46.1,687.1 L46.3,686.1 L46.5,685.1 L46.6,684.1 L46.8,683.1 L46.9,682.2 L47.1,681.2 L47.2,680.2 L47.4,679.2 L47.5,678.2 L47.7,677.2 L47.8,676.2 L48.0,675.2 L48.1,674.2 L48.2,673.2 L48.4,672.3 L48.5,671.3 L48.6,670.3 L48.8,669.3 L48.9,668.3 L49.0,667.3 L49.2,666.3 L49.3,665.3 L49.4,664.3 L49.5,663.3 L49.7,662.3 L49.8,661.3 L49.9,660.4 L50.0,659.4 L50.2,658.4 L50.3,657.4 L50.4,656.4 L50.6,655.4 L50.7,654.4 L50.8,653.4 L50.9,652.4 L51.1,651.4 L51.2,650.4 L51.3,649.4 L51.5,648.5 L51.6,647.5 L51.7,646.5 L51.9,645.5 L52.0,644.5 L52.1,643.5 L52.2,642.5 L52.4,641.5 L52.5,640.5 L52.6,639.5 L52.8,638.5 L52.9,637.5 L53.0,636.6 L53.2,635.6 L53.3,634.6 L53.4,633.6 L53.6,632.6 L53.7,631.6 L53.8,630.6 L53.9,629.6 L54.1,628.6 L54.2,627.6 L54.3,626.6 L54.5,625.7 L54.6,624.7 L54.7,623.7 L54.9,622.7 L55.0,621.7 L55.1,620.7 L55.2,619.7 L55.4,618.7 L55.5,617.7 L55.6,616.7 L55.8,615.7 L55.9,614.7 L56.0,613.8 L56.1,612.8 L56.3,611.8 L56.4,610.8 L56.5,609.8 L56.6,608.8 L56.8,607.8 L56.9,606.8 L57.0,605.8 L57.1,604.8 L57.3,603.8 L57.4,602.8 L57.5,601.8 L57.6,600.9 L57.7,599.9 L57.9,598.9 L58.0,597.9 L58.1,596.9 L58.2,595.9 L58.4,594.9 L58.5,593.9 L58.6,592.9 L58.7,591.9 L58.8,590.9 L59.0,589.9 L59.1,588.9 L59.2,588.0 L59.3,587.0 L59.5,586.0 L59.6,585.0 L59.7,584.0 L59.9,583.0 L60.0,582.0 L60.1,581.0 L60.3,580.0 L60.4,579.0 L60.6,578.0 L60.7,577.1 L60.8,576.1 L61.0,575.1 L61.2,574.1 L61.3,573.1 L61.5,572.1 L61.6,571.1 L61.8,570.1 L62.0,569.2 L62.1,568.2 L62.3,567.2 L62.5,566.2 L62.7,565.2 L62.9,564.2 L63.1,563.3 L63.3,562.3 L63.5,561.3 L63.7,560.3 L63.9,559.3 L64.1,558.4 L64.3,557.4 L64.5,556.4 L64.7,555.4 L64.9,554.4 L65.1,553.5 L65.3,552.5 L65.5,551.5 L65.7,550.5 L65.9,549.6 L66.2,548.6 L66.4,547.6 L66.6,546.6 L66.8,545.6 L67.0,544.7 L67.3,543.7 L67.5,542.7 L67.9,541.8 L68.3,540.9 L68.7,540.0 L69.2,539.1 L69.8,538.3 L70.5,537.6 L71.3,537.0 L72.1,536.4 L73.1,536.1 L74.1,536.1 L75.0,536.3 L75.9,536.8 L76.7,537.4 L77.5,538.1 L78.1,538.8 L78.7,539.6 L79.3,540.4 L79.8,541.3 L80.2,542.2 L80.7,543.1 L81.0,544.0 L81.4,544.9 L81.8,545.9 L82.1,546.8 L82.5,547.8 L82.8,548.7 L83.2,549.6 L83.5,550.6 L83.9,551.5 L84.3,552.4 L84.6,553.3 L85.0,554.3 L85.4,555.2 L85.7,556.1 L86.1,557.1 L86.5,558.0 L86.8,558.9 L87.2,559.9 L87.6,560.8 L87.9,561.7 L88.3,562.7 L88.6,563.6 L89.0,564.5 L89.3,565.5 L89.7,566.4 L90.0,567.3 L90.4,568.3 L90.7,569.2 L91.1,570.2 L91.4,571.1 L91.8,572.0 L92.1,573.0 L92.4,573.9 L92.8,574.9 L93.1,575.8 L93.4,576.7 L93.8,577.7 L94.1,578.6 L94.4,579.6 L94.7,580.5 L95.1,581.5 L95.4,582.4 L95.7,583.4 L96.0,584.3 L96.3,585.3 L96.7,586.2 L97.0,587.2 L97.3,588.1 L97.6,589.1 L97.9,590.0 L98.2,591.0 L98.5,591.9 L98.8,592.9 L99.1,593.8 L99.4,594.8 L99.8,595.7 L100.1,596.7 L100.4,597.6 L100.7,598.6 L101.0,599.5 L101.3,600.5 L101.6,601.4 L101.9,602.4 L102.2,603.3 L102.5,604.3 L102.8,605.3 L103.1,606.2 L103.4,607.2 L103.7,608.1 L104.0,609.1 L104.3,610.0 L104.6,611.0 L104.9,611.9 L105.2,612.9 L105.5,613.8 L105.8,614.8 L106.1,615.8 L106.4,616.7 L106.7,617.7 L107.0,618.6 L107.3,619.6 L107.6,620.5 L107.9,621.5 L108.2,622.4 L108.5,623.4 L108.8,624.3 L109.1,625.3 L109.4,626.2 L109.7,627.2 L110.0,628.2 L110.3,629.1 L110.6,630.1 L110.9,631.0 L111.2,632.0 L111.5,632.9 L111.8,633.9 L112.1,634.8 L112.4,635.8 L112.7,636.7 L113.0,637.7 L113.3,638.6 L113.7,639.6 L114.0,640.5 L114.3,641.5 L114.6,642.4 L114.9,643.4 L115.2,644.3 L115.5,645.3 L115.9,646.2 L116.2,647.2 L116.5,648.1 L116.8,649.1 L117.2,650.0 L117.5,650.9 L117.8,651.9 L118.1,652.8 L118.5,653.8 L118.8,654.7 L119.1,655.7 L119.5,656.6 L119.8,657.5 L120.2,658.5 L120.5,659.4 L120.8,660.4 L121.2,661.3 L121.5,662.2 L121.9,663.2 L122.2,664.1 L122.6,665.0 L122.9,666.0 L123.3,666.9 L123.7,667.9 L124.0,668.8 L124.4,669.7 L124.8,670.6 L125.1,671.6 L125.5,672.5 L125.9,673.4 L126.3,674.3 L126.7,675.3 L127.1,676.2 L127.5,677.1 L127.9,678.0 L128.3,678.9 L128.7,679.8 L129.1,680.7 L129.5,681.6 L130.0,682.5 L130.4,683.4 L130.9,684.3 L131.3,685.2 L131.8,686.1 L132.2,687.0 L132.7,687.9 L133.2,688.8 L133.7,689.6 L134.2,690.5 L134.7,691.4 L135.2,692.2 L135.7,693.1 L136.3,693.9 L136.8,694.8 L137.3,695.6 L137.9,696.4 L138.5,697.3 L139.0,698.1 L139.6,698.9 L140.2,699.7 L140.8,700.5 L141.4,701.3 L142.0,702.1 L142.6,702.9 L143.3,703.6 L143.9,704.4 L144.6,705.2 L145.2,705.9 L145.9,706.7 L146.5,707.4 L147.2,708.2 L147.9,708.9 L148.6,709.6 L149.3,710.3 L150.0,711.0 L150.7,711.7 L151.4,712.4 L152.2,713.1 L152.9,713.8 L153.6,714.5 L154.4,715.1 L155.1,715.8 L155.9,716.4 L156.7,717.1 L157.4,717.7 L158.2,718.3 L159.0,718.9 L159.8,719.5 L160.6,720.1 L161.4,720.7 L162.2,721.3 L163.1,721.9 L163.9,722.4 L164.7,723.0 L165.6,723.5 L166.4,724.0 L167.3,724.5 L168.2,725.0 L169.0,725.5 L169.9,726.0 L170.8,726.5 L171.7,726.9 L172.6,727.4 L173.5,727.8 L174.4,728.3 L175.3,728.7 L176.2,729.1 L177.1,729.5 L178.0,729.9 L179.0,730.2 L179.9,730.6 L180.8,731.0 L181.8,731.3 L182.7,731.6 L183.7,732.0 L184.6,732.3 L185.6,732.6 L186.5,732.9 L187.5,733.2 L188.4,733.4 L189.4,733.7 L190.4,734.0 L191.3,734.2 L192.3,734.5 L193.3,734.7 L194.2,734.9 L195.2,735.2 L196.2,735.4 L197.2,735.6 L198.2,735.8 L199.1,736.0 L200.1,736.2 L201.1,736.3 L202.1,736.5 L203.1,736.7 L204.1,736.8 L205.1,737.0 L206.0,737.1 L207.0,737.2 L208.0,737.4 L209.0,737.5 L210.0,737.6 L211.0,737.7 L212.0,737.8 L213.0,738.0 L214.0,738.1 L215.0,738.1 L216.0,738.2 L217.0,738.3 L218.0,738.4 L219.0,738.5 L220.0,738.6 L221.0,738.6 L222.0,738.7 L223.0,738.8 L224.0,738.8 L225.0,738.9 L226.0,738.9 L227.0,739.0 L228.0,739.0 L229.0,739.1 L230.0,739.1 L231.0,739.1 L232.0,739.2 L232.9,739.2 L233.9,739.2 L234.9,739.3 L235.9,739.3 L236.9,739.3 L237.9,739.4 L238.9,739.4 L239.9,739.4 L240.9,739.4 L241.9,739.4 L242.9,739.5 L243.9,739.5 L244.9,739.5 L245.9,739.5 L246.9,739.5 L247.9,739.5 L248.9,739.6 L249.9,739.6 L250.9,739.6 L251.9,739.6 L252.9,739.6 L253.9,739.6 L254.9,739.6 L255.9,739.6 L256.9,739.6 L257.9,739.6 L258.9,739.6 L259.9,739.6 L260.9,739.6 L261.9,739.6 L262.9,739.6 L263.9,739.6 L264.9,739.6 L265.9,739.6 L266.9,739.6 L267.9,739.6 L268.9,739.6 L269.9,739.6 L270.9,739.6 L271.9,739.6 L272.9,739.6 L273.9,739.6 L274.9,739.6 L275.9,739.6 L276.9,739.6 L277.9,739.6 L278.9,739.6 L279.9,739.6 L280.9,739.6 L281.9,739.6 L282.9,739.6 L283.9,739.6 L284.9,739.6 L285.9,739.6 L286.9,739.6 L287.9,739.6 L288.9,739.6 L289.9,739.6 L290.9,739.6 L291.9,739.6 L292.9,739.6 L293.9,739.6 L294.9,739.6 L295.9,739.6 L296.9,739.6 L297.9,739.6 L298.9,739.6 L299.9,739.6 L300.9,739.6 L301.9,739.6 L302.9,739.6 L303.9,739.6 L304.9,739.6 L305.9,739.6 L306.8,739.6" class="th"/><path d="M31.3,734.6 L32.1,735.2 L32.9,735.8 L33.8,736.2 L34.7,736.7 L35.7,737.0 L36.6,737.3 L37.6,737.6 L38.6,737.8 L39.5,737.9 L40.5,738.0 L41.5,738.0 L42.5,737.9 L43.5,737.8 L44.5,737.5 L45.4,737.1 L46.3,736.7 L47.1,736.1 L47.9,735.4 L48.5,734.7 L49.2,733.9 L49.7,733.1 L50.3,732.3 L50.8,731.4 L51.3,730.5 L51.7,729.6 L52.1,728.7 L52.5,727.8 L52.9,726.9 L53.3,726.0 L53.7,725.0 L54.1,724.1 L54.5,723.2 L54.8,722.2 L55.2,721.3 L55.5,720.4 L55.8,719.4 L56.1,718.5 L56.4,717.5 L56.7,716.6 L57.0,715.6 L57.3,714.6 L57.6,713.7 L57.9,712.7 L58.1,711.8 L58.4,710.8 L58.7,709.8 L58.9,708.9 L59.2,707.9 L59.4,706.9 L59.6,705.9 L59.9,705.0 L60.1,704.0 L60.3,703.0 L60.6,702.1 L60.8,701.1 L61.0,700.1 L61.2,699.1 L61.5,698.2 L61.7,697.2 L61.9,696.2 L62.1,695.2 L62.4,694.3 L62.6,693.3 L62.8,692.3 L63.0,691.3 L63.2,690.4 L63.5,689.4 L63.7,688.4 L63.9,687.4 L64.2,686.5 L64.4,685.5 L64.6,684.5 L64.8,683.5 L65.1,682.6 L65.3,681.6 L65.5,680.6 L65.7,679.6 L66.0,678.7 L66.2,677.7 L66.4,676.7 L66.7,675.8 L66.9,674.8 L67.1,673.8 L67.4,672.8 L67.6,671.9 L67.8,670.9 L68.1,669.9 L68.3,668.9 L68.5,668.0 L68.8,667.0 L69.0,666.0 L69.2,665.1 L69.5,664.1 L69.7,663.1 L69.9,662.1 L70.2,661.2 L70.4,660.2 L70.7,659.2 L70.9,658.3 L71.2,657.3 L71.4,656.3 L71.6,655.4 L71.9,654.4 L72.2,653.4 L72.4,652.5 L72.7,651.5 L73.0,650.5 L73.3,649.6 L73.6,648.6 L74.0,647.7 L74.3,646.8 L74.7,645.8 L75.1,644.9 L75.5,644.0 L75.9,643.1 L76.4,642.2 L76.9,641.3 L77.4,640.5 L78.0,639.7 L78.8,639.0 L79.6,638.5 L80.5,638.1 L81.5,637.9 L82.5,638.1 L83.4,638.5 L84.2,639.1 L84.9,639.8 L85.5,640.6 L86.1,641.4 L86.7,642.2 L87.2,643.1 L87.7,643.9 L88.1,644.8 L88.6,645.7 L89.0,646.6 L89.3,647.6 L89.7,648.5 L90.1,649.4 L90.4,650.4 L90.8,651.3 L91.1,652.3 L91.4,653.2 L91.7,654.2 L92.0,655.1 L92.3,656.1 L92.6,657.0 L92.9,658.0 L93.3,658.9 L93.6,659.9 L93.9,660.8 L94.2,661.8 L94.5,662.7 L94.7,663.7 L95.0,664.6 L95.3,665.6 L95.6,666.5 L95.9,667.5 L96.2,668.5 L96.5,669.4 L96.8,670.4 L97.1,671.3 L97.4,672.3 L97.7,673.2 L98.0,674.2 L98.3,675.1 L98.6,676.1 L98.9,677.1 L99.2,678.0 L99.5,679.0 L99.8,679.9 L100.1,680.9 L100.4,681.8 L100.7,682.8 L101.0,683.7 L101.3,684.7 L101.6,685.6 L101.9,686.6 L102.3,687.5 L102.6,688.5 L102.9,689.4 L103.2,690.4 L103.5,691.3 L103.9,692.3 L104.2,693.2 L104.5,694.2 L104.8,695.1 L105.2,696.0 L105.5,697.0 L105.8,697.9 L106.2,698.9 L106.5,699.8 L106.9,700.7 L107.2,701.7 L107.6,702.6 L107.9,703.5 L108.3,704.5 L108.7,705.4 L109.1,706.3 L109.4,707.3 L109.8,708.2 L110.2,709.1 L110.6,710.0 L111.0,710.9 L111.4,711.8 L111.8,712.8 L112.3,713.7 L112.7,714.6 L113.1,715.5 L113.6,716.4 L114.0,717.3 L114.5,718.1 L115.0,719.0 L115.4,719.9 L115.9,720.8 L116.4,721.6 L116.9,722.5 L117.5,723.4 L118.0,724.2 L118.5,725.0 L119.1,725.9 L119.6,726.7 L120.2,727.5 L120.8,728.3 L121.4,729.1 L122.0,729.9 L122.6,730.7 L123.2,731.5 L123.9,732.3 L124.5,733.0 L125.2,733.8 L125.9,734.5 L126.6,735.2 L127.3,735.9 L128.0,736.6 L128.8,737.3 L129.5,738.0 L130.3,738.6 L131.0,739.2 L131.8,739.9 L132.6,740.5 L133.4,741.1 L134.2,741.6 L135.1,742.2 L135.9,742.7 L136.8,743.2 L137.6,743.7 L138.5,744.2 L139.4,744.7 L140.0,745.0" class="th"/><path d="M31.3,734.6 L32.1,734.1 L33.0,733.5 L33.8,732.9 L34.5,732.3 L35.3,731.6 L36.0,730.9 L36.7,730.2 L37.4,729.4 L38.0,728.6 L38.6,727.9 L39.2,727.0 L39.7,726.2 L40.3,725.4 L40.8,724.5 L41.3,723.6 L41.7,722.7 L42.2,721.8 L42.6,720.9 L43.0,720.0 L43.4,719.1 L43.8,718.2 L44.1,717.2 L44.5,716.3 L44.8,715.4 L45.1,714.4 L45.4,713.5 L45.7,712.5 L46.0,711.5 L46.3,710.6 L46.6,709.6 L46.8,708.7 L47.1,707.7 L47.4,706.7 L47.6,705.8 L47.9,704.8 L48.1,703.8 L48.4,702.9 L48.6,701.9 L48.9,700.9 L49.1,700.0 L49.3,699.0 L49.6,698.0 L49.8,697.0 L50.0,696.1 L50.2,695.1 L50.5,694.1 L50.7,693.1 L50.9,692.2 L51.1,691.2 L51.3,690.2 L51.5,689.2 L51.7,688.2 L51.9,687.3 L52.1,686.3 L52.3,685.3 L52.5,684.3 L52.7,683.3 L52.9,682.4 L53.1,681.4 L53.2,680.4 L53.4,679.4 L53.6,678.4 L53.8,677.4 L54.0,676.5 L54.2,675.5 L54.3,674.5 L54.5,673.5 L54.7,672.5 L54.9,671.5 L55.1,670.6 L55.2,669.6 L55.4,668.6 L55.6,667.6 L55.8,666.6 L56.0,665.6 L56.1,664.7 L56.3,663.7 L56.5,662.7 L56.7,661.7 L56.8,660.7 L57.0,659.7 L57.2,658.8 L57.4,657.8 L57.6,656.8 L57.7,655.8 L57.9,654.8 L58.1,653.8 L58.3,652.8 L58.5,651.9 L58.6,650.9 L58.8,649.9 L59.0,648.9 L59.2,647.9 L59.4,646.9 L59.5,646.0 L59.7,645.0 L59.9,644.0 L60.1,643.0 L60.3,642.0 L60.5,641.0 L60.6,640.1 L60.8,639.1 L61.0,638.1 L61.2,637.1 L61.4,636.1 L61.6,635.2 L61.8,634.2 L62.0,633.2 L62.2,632.2 L62.3,631.2 L62.5,630.2 L62.7,629.3 L62.9,628.3 L63.1,627.3 L63.3,626.3 L63.5,625.3 L63.7,624.4 L63.9,623.4 L64.1,622.4 L64.3,621.4 L64.5,620.4 L64.7,619.5 L64.9,618.5 L65.1,617.5 L65.3,616.5 L65.6,615.6 L65.8,614.6 L66.0,613.6 L66.2,612.6 L66.4,611.6 L66.6,610.7 L66.9,609.7 L67.1,608.7 L67.3,607.8 L67.6,606.8 L67.8,605.8 L68.1,604.9 L68.4,603.9 L68.6,602.9 L68.9,602.0 L69.2,601.0 L69.5,600.1 L69.9,599.1 L70.2,598.2 L70.5,597.2 L70.9,596.3 L71.3,595.4 L71.7,594.5 L72.2,593.6 L72.8,592.8 L73.5,592.0 L74.2,591.4 L75.1,590.9 L76.0,590.5 L77.0,590.4 L78.0,590.4 L79.0,590.5 L79.9,590.8 L80.8,591.2 L81.6,591.8 L82.3,592.5 L83.0,593.3 L83.5,594.2 L84.0,595.0 L84.4,595.9 L84.8,596.9 L85.1,597.8 L85.5,598.7 L85.9,599.6 L86.3,600.6 L86.6,601.5 L87.0,602.4 L87.3,603.4 L87.7,604.3 L88.0,605.3 L88.4,606.2 L88.7,607.1 L89.0,608.1 L89.4,609.0 L89.7,610.0 L90.0,610.9 L90.3,611.9 L90.7,612.8 L91.0,613.8 L91.3,614.7 L91.6,615.6 L92.0,616.6 L92.3,617.5 L92.6,618.5 L92.9,619.4 L93.2,620.4 L93.6,621.3 L93.9,622.3 L94.2,623.2 L94.5,624.2 L94.9,625.1 L95.2,626.1 L95.5,627.0 L95.8,628.0 L96.2,628.9 L96.5,629.8 L96.8,630.8 L97.1,631.7 L97.5,632.7 L97.8,633.6 L98.1,634.6 L98.4,635.5 L98.8,636.5 L99.1,637.4 L99.4,638.4 L99.7,639.3 L100.1,640.2 L100.4,641.2 L100.7,642.1 L101.0,643.1 L101.3,644.0 L101.7,645.0 L102.0,645.9 L102.3,646.9 L102.6,647.8 L102.9,648.8 L103.2,649.7 L103.5,650.7 L103.9,651.6 L104.2,652.6 L104.5,653.5 L104.8,654.5 L105.1,655.4 L105.4,656.4 L105.7,657.3 L106.1,658.3 L106.4,659.2 L106.7,660.2 L107.0,661.1 L107.3,662.1 L107.6,663.0 L108.0,664.0 L108.3,664.9 L108.6,665.8 L109.0,666.8 L109.3,667.7 L109.6,668.7 L109.9,669.6 L110.3,670.6 L110.6,671.5 L111.0,672.4 L111.3,673.4 L111.7,674.3 L112.0,675.3 L112.4,676.2 L112.7,677.1 L113.1,678.1 L113.5,679.0 L113.8,679.9 L114.2,680.8 L114.6,681.8 L115.0,682.7 L115.4,683.6 L115.8,684.5 L116.2,685.4 L116.6,686.4 L117.0,687.3 L117.4,688.2 L117.8,689.1 L118.2,690.0 L118.7,690.9 L119.1,691.8 L119.6,692.7 L120.0,693.6 L120.5,694.5 L120.9,695.4 L121.4,696.2 L121.9,697.1 L122.3,698.0 L122.8,698.9 L123.3,699.7 L123.8,700.6 L124.3,701.5 L124.8,702.3 L125.4,703.2 L125.9,704.0 L126.4,704.9 L127.0,705.7 L127.5,706.6 L128.1,707.4 L128.6,708.2 L129.2,709.0 L129.8,709.9 L130.4,710.7 L130.9,711.5 L131.5,712.3 L132.2,713.1 L132.8,713.9 L133.4,714.6 L134.0,715.4 L134.7,716.2 L135.3,716.9 L136.0,717.7 L136.7,718.4 L137.4,719.1 L138.1,719.9 L138.8,720.6 L139.5,721.3 L140.2,721.9 L141.0,722.6 L141.7,723.3 L142.5,723.9 L143.2,724.6 L144.0,725.2 L144.8,725.8 L145.6,726.4 L146.4,727.0 L147.3,727.5 L148.1,728.0 L149.0,728.6 L149.8,729.1 L150.7,729.6 L151.6,730.0 L152.5,730.5 L153.4,730.9 L154.3,731.3 L155.2,731.7 L156.1,732.1 L157.1,732.5 L158.0,732.8 L159.0,733.1 L159.9,733.5 L160.9,733.8 L161.8,734.1 L162.8,734.3 L163.7,734.6 L164.7,734.9 L165.7,735.1 L166.6,735.3 L167.6,735.6 L168.6,735.8 L169.6,736.0 L170.6,736.2 L171.5,736.3 L172.5,736.5 L173.5,736.7 L174.5,736.8 L175.5,737.0 L176.5,737.1 L177.5,737.3 L178.5,737.4 L179.4,737.5 L180.4,737.6 L181.4,737.8 L182.4,737.9 L183.4,738.0 L184.4,738.1 L185.4,738.2 L186.4,738.3 L187.4,738.4 L188.4,738.5 L189.4,738.5 L190.4,738.6 L191.4,738.7 L192.4,738.8 L193.4,738.8 L194.4,738.9 L195.4,739.0 L196.4,739.0 L197.4,739.1 L198.4,739.1 L199.4,739.2 L200.4,739.2 L201.4,739.3 L202.4,739.3 L203.4,739.4 L204.4,739.4 L205.4,739.4 L206.4,739.5 L207.4,739.5 L208.4,739.5 L209.4,739.5 L210.4,739.6 L211.4,739.6 L212.4,739.6 L213.4,739.6 L214.4,739.6 L215.4,739.6 L216.4,739.6 L217.4,739.7 L218.4,739.7 L219.4,739.7 L220.4,739.7 L221.4,739.7 L222.4,739.7 L223.4,739.7 L224.4,739.7 L225.4,739.7 L226.4,739.7 L227.4,739.7 L228.4,739.7 L229.4,739.7 L230.4,739.7 L231.4,739.7 L232.4,739.7 L233.4,739.7 L234.4,739.6 L235.4,739.6 L236.4,739.6 L237.4,739.6 L238.4,739.6 L239.4,739.6 L240.4,739.6 L241.4,739.6 L242.4,739.6 L243.4,739.6 L244.4,739.6 L245.4,739.6 L246.4,739.6 L247.4,739.6 L248.4,739.6 L249.4,739.6 L250.4,739.6 L251.4,739.6 L252.4,739.6 L253.4,739.6 L254.4,739.6 L255.4,739.6 L256.4,739.6 L257.4,739.6 L258.4,739.6 L259.4,739.6 L260.4,739.6 L261.4,739.6 L262.4,739.6 L263.4,739.6 L264.4,739.6 L265.4,739.6 L266.4,739.6 L267.4,739.6 L268.4,739.6 L269.4,739.6 L270.4,739.6 L271.4,739.6 L272.4,739.6 L273.4,739.6 L274.4,739.6 L275.4,739.6 L276.4,739.6 L277.4,739.6 L278.4,739.6 L279.4,739.6 L280.4,739.6 L281.4,739.6 L282.4,739.6 L283.4,739.6 L284.4,739.6 L285.4,739.6 L286.4,739.6 L287.4,739.6 L288.4,739.6 L289.4,739.6 L290.4,739.6 L291.4,739.6 L292.4,739.6 L293.4,739.6 L294.4,739.6 L295.4,739.6 L296.4,739.6 L297.4,739.6 L298.4,739.6 L299.4,739.6 L300.4,739.6 L301.4,739.6 L302.4,739.6 L303.4,739.6 L304.4,739.6 L305.4,739.6 L306.4,739.6 L306.8,739.6" class="tk"/></g></g>
<g><path d="M30.40,794.60H327.90" class="fh"/><path d="M30.40,1001.90H327.90" class="fb"/><path d="M30.90,794.60V1001.90M327.40,794.60V1001.90" class="fv"/><path d="M67.96,1001.90v-3.4M67.96,794.60v3.4M105.03,1001.90v-6.0M105.03,794.60v6.0M142.09,1001.90v-3.4M142.09,794.60v3.4M179.15,1001.90v-6.0M179.15,794.60v6.0M216.21,1001.90v-3.4M216.21,794.60v3.4M253.28,1001.90v-6.0M253.28,794.60v6.0M290.34,1001.90v-3.4M290.34,794.60v3.4M30.90,972.35h3.4M327.40,972.35h-3.4M30.90,942.80h6.0M327.40,942.80h-6.0M30.90,913.25h3.4M327.40,913.25h-3.4M30.90,883.70h6.0M327.40,883.70h-6.0M30.90,854.15h3.4M327.40,854.15h-3.4M30.90,824.60h6.0M327.40,824.60h-6.0" class="t"/><text x="31.10" y="1011.50" class="n" text-anchor="middle">0</text><text x="105.23" y="1011.50" class="n" text-anchor="middle">5</text><text x="179.35" y="1011.50" class="n" text-anchor="middle">10</text><text x="253.47" y="1011.50" class="n" text-anchor="middle">15</text><text x="327.60" y="1011.50" class="n" text-anchor="middle">20</text><text x="28.30" y="1005.70" class="n" text-anchor="end">0</text><text x="28.30" y="946.60" class="n" text-anchor="end">10</text><text x="28.30" y="887.50" class="n" text-anchor="end">20</text><text x="28.30" y="828.40" class="n" text-anchor="end">30</text><text x="179.45" y="1023.60" class="a" text-anchor="middle">t (days)</text><text transform="translate(14.30,898.25) rotate(-90)" class="a" text-anchor="middle">I(t)</text><text x="256.90" y="827.90" class="ti">CM</text><text x="13.00" y="1028.50" class="pl">(G)</text><g clip-path="url(#cG)"><path d="M31.5,995.8 L32.0,994.9 L32.4,994.0 L32.9,993.1 L33.4,992.3 L33.8,991.4 L34.3,990.5 L34.7,989.6 L35.1,988.7 L35.6,987.8 L36.0,986.9 L36.4,986.0 L36.8,985.1 L37.2,984.1 L37.6,983.2 L38.1,982.3 L38.4,981.4 L38.8,980.5 L39.2,979.6 L39.6,978.6 L40.0,977.7 L40.4,976.8 L40.7,975.8 L41.1,974.9 L41.5,974.0 L41.8,973.1 L42.2,972.1 L42.5,971.2 L42.9,970.2 L43.2,969.3 L43.5,968.4 L43.9,967.4 L44.2,966.5 L44.5,965.5 L44.8,964.6 L45.2,963.6 L45.5,962.7 L45.8,961.7 L46.1,960.8 L46.4,959.8 L46.7,958.9 L47.0,957.9 L47.3,957.0 L47.6,956.0 L47.9,955.0 L48.1,954.1 L48.4,953.1 L48.7,952.2 L49.0,951.2 L49.2,950.2 L49.5,949.3 L49.8,948.3 L50.0,947.3 L50.3,946.4 L50.5,945.4 L50.8,944.4 L51.0,943.5 L51.3,942.5 L51.5,941.5 L51.8,940.6 L52.0,939.6 L52.2,938.6 L52.5,937.6 L52.7,936.7 L52.9,935.7 L53.1,934.7 L53.4,933.7 L53.6,932.8 L53.8,931.8 L54.0,930.8 L54.3,929.8 L54.5,928.9 L54.7,927.9 L54.9,926.9 L55.1,925.9 L55.3,925.0 L55.5,924.0 L55.7,923.0 L55.9,922.0 L56.1,921.0 L56.3,920.1 L56.5,919.1 L56.7,918.1 L56.9,917.1 L57.1,916.1 L57.3,915.2 L57.5,914.2 L57.7,913.2 L57.9,912.2 L58.1,911.2 L58.3,910.3 L58.5,909.3 L58.7,908.3 L58.9,907.3 L59.0,906.3 L59.2,905.3 L59.4,904.4 L59.6,903.4 L59.8,902.4 L60.0,901.4 L60.2,900.4 L60.4,899.5 L60.5,898.5 L60.7,897.5 L60.9,896.5 L61.1,895.5 L61.3,894.5 L61.5,893.6 L61.7,892.6 L61.9,891.6 L62.0,890.6 L62.2,889.6 L62.4,888.6 L62.6,887.7 L62.8,886.7 L63.0,885.7 L63.2,884.7 L63.4,883.7 L63.6,882.8 L63.8,881.8 L64.0,880.8 L64.2,879.8 L64.4,878.8 L64.6,877.9 L64.8,876.9 L65.0,875.9 L65.2,874.9 L65.4,873.9 L65.6,873.0 L65.8,872.0 L66.0,871.0 L66.2,870.0 L66.4,869.0 L66.6,868.1 L66.8,867.1 L67.0,866.1 L67.2,865.1 L67.4,864.1 L67.6,863.2 L67.8,862.2 L68.0,861.2 L68.2,860.2 L68.4,859.3 L68.6,858.3 L68.8,857.3 L69.0,856.3 L69.3,855.3 L69.5,854.4 L69.7,853.4 L69.9,852.4 L70.1,851.4 L70.3,850.5 L70.5,849.5 L70.7,848.5 L70.9,847.5 L71.1,846.5 L71.3,845.6 L71.5,844.6 L71.7,843.6 L71.9,842.6 L72.1,841.6 L72.3,840.7 L72.5,839.7 L72.7,838.7 L72.9,837.7 L73.2,836.7 L73.4,835.8 L73.6,834.8 L73.8,833.8 L74.0,832.8 L74.2,831.9 L74.4,830.9 L74.6,829.9 L74.9,828.9 L75.2,828.0 L75.5,827.0 L75.8,826.1 L76.2,825.2 L76.6,824.2 L77.0,823.3 L77.5,822.5 L78.0,821.6 L78.6,820.8 L79.1,819.9 L79.8,819.2 L80.4,818.4 L81.1,817.7 L81.8,817.0 L82.6,816.4 L83.5,815.9 L84.4,815.5 L85.4,815.2 L86.4,815.2 L87.3,815.4 L88.2,815.8 L89.1,816.4 L89.9,817.0 L90.6,817.7 L91.3,818.4 L91.9,819.2 L92.6,820.0 L93.2,820.7 L93.8,821.5 L94.4,822.3 L95.0,823.1 L95.5,824.0 L96.1,824.8 L96.6,825.6 L97.2,826.5 L97.7,827.3 L98.2,828.2 L98.7,829.1 L99.2,829.9 L99.7,830.8 L100.2,831.7 L100.6,832.6 L101.1,833.5 L101.5,834.4 L102.0,835.3 L102.4,836.2 L102.8,837.1 L103.3,838.0 L103.7,838.9 L104.1,839.8 L104.5,840.7 L104.9,841.6 L105.3,842.5 L105.8,843.4 L106.2,844.3 L106.6,845.2 L107.0,846.1 L107.4,847.1 L107.8,848.0 L108.2,848.9 L108.6,849.8 L109.1,850.7 L109.5,851.6 L109.9,852.5 L110.3,853.4 L110.7,854.4 L111.1,855.3 L111.5,856.2 L111.9,857.1 L112.3,858.0 L112.7,858.9 L113.1,859.8 L113.5,860.7 L114.0,861.7 L114.4,862.6 L114.8,863.5 L115.2,864.4 L115.6,865.3 L116.0,866.2 L116.4,867.2 L116.8,868.1 L117.2,869.0 L117.6,869.9 L118.0,870.8 L118.4,871.7 L118.8,872.7 L119.1,873.6 L119.5,874.5 L119.9,875.4 L120.3,876.3 L120.7,877.3 L121.1,878.2 L121.5,879.1 L121.9,880.0 L122.2,881.0 L122.6,881.9 L123.0,882.8 L123.4,883.7 L123.7,884.7 L124.1,885.6 L124.5,886.5 L124.9,887.4 L125.2,888.4 L125.6,889.3 L126.0,890.2 L126.3,891.2 L126.7,892.1 L127.1,893.0 L127.4,894.0 L127.8,894.9 L128.2,895.8 L128.5,896.8 L128.9,897.7 L129.2,898.6 L129.6,899.5 L130.0,900.5 L130.3,901.4 L130.7,902.3 L131.1,903.3 L131.4,904.2 L131.8,905.1 L132.2,906.1 L132.6,907.0 L132.9,907.9 L133.3,908.8 L133.7,909.8 L134.1,910.7 L134.4,911.6 L134.8,912.5 L135.2,913.5 L135.6,914.4 L136.0,915.3 L136.4,916.2 L136.8,917.1 L137.2,918.1 L137.6,919.0 L138.0,919.9 L138.4,920.8 L138.8,921.7 L139.2,922.6 L139.7,923.5 L140.1,924.4 L140.5,925.3 L141.0,926.2 L141.4,927.1 L141.8,928.0 L142.3,928.9 L142.7,929.8 L143.2,930.7 L143.7,931.6 L144.1,932.5 L144.6,933.4 L145.1,934.2 L145.6,935.1 L146.0,936.0 L146.5,936.8 L147.0,937.7 L147.5,938.6 L148.1,939.4 L148.6,940.3 L149.1,941.1 L149.6,942.0 L150.2,942.8 L150.7,943.7 L151.3,944.5 L151.8,945.3 L152.4,946.2 L153.0,947.0 L153.5,947.8 L154.1,948.6 L154.7,949.4 L155.3,950.2 L155.9,951.0 L156.5,951.8 L157.1,952.6 L157.7,953.4 L158.4,954.2 L159.0,955.0 L159.6,955.7 L160.3,956.5 L160.9,957.3 L161.6,958.0 L162.2,958.8 L162.9,959.5 L163.6,960.3 L164.2,961.0 L164.9,961.7 L165.6,962.5 L166.3,963.2 L167.0,963.9 L167.7,964.6 L168.4,965.3 L169.1,966.0 L169.8,966.7 L170.6,967.4 L171.3,968.1 L172.0,968.7 L172.8,969.4 L173.5,970.1 L174.3,970.7 L175.0,971.4 L175.8,972.0 L176.6,972.7 L177.3,973.3 L178.1,973.9 L178.9,974.6 L179.7,975.2 L180.5,975.8 L181.3,976.4 L182.1,977.0 L182.9,977.6 L183.7,978.1 L184.5,978.7 L185.4,979.3 L186.2,979.8 L187.0,980.4 L187.9,980.9 L188.7,981.5 L189.5,982.0 L190.4,982.5 L191.3,983.1 L192.1,983.6 L193.0,984.1 L193.9,984.6 L194.7,985.0 L195.6,985.5 L196.5,986.0 L197.4,986.5 L198.3,986.9 L199.2,987.4 L200.1,987.8 L201.0,988.2 L201.9,988.6 L202.8,989.1 L203.7,989.5 L204.6,989.9 L205.5,990.2 L206.5,990.6 L207.4,991.0 L208.3,991.4 L209.3,991.7 L210.2,992.0 L211.1,992.4 L212.1,992.7 L213.0,993.0 L214.0,993.3 L214.9,993.6 L215.9,993.9 L216.9,994.2 L217.8,994.5 L218.8,994.7 L219.8,995.0 L220.7,995.2 L221.7,995.5 L222.7,995.7 L223.6,995.9 L224.6,996.1 L225.6,996.3 L226.6,996.5 L227.6,996.7 L228.5,996.9 L229.5,997.1 L230.5,997.3 L231.5,997.4 L232.5,997.6 L233.5,997.8 L234.5,997.9 L235.4,998.1 L236.4,998.2 L237.4,998.3 L238.4,998.4 L239.4,998.6 L240.4,998.7 L241.4,998.8 L242.4,998.9 L243.4,999.0 L244.4,999.1 L245.4,999.2 L246.4,999.3 L247.4,999.4 L248.4,999.5 L249.4,999.5 L250.4,999.6 L251.4,999.7 L252.4,999.7 L253.4,999.8 L254.4,999.9 L255.4,999.9 L256.3,1000.0 L257.3,1000.0 L258.3,1000.1 L259.3,1000.1 L260.3,1000.2 L261.3,1000.2 L262.3,1000.3 L263.3,1000.3 L264.3,1000.3 L265.3,1000.4 L266.3,1000.4 L267.3,1000.5 L268.3,1000.5 L269.3,1000.5 L270.3,1000.5 L271.3,1000.6 L272.3,1000.6 L273.3,1000.6 L274.3,1000.7 L275.3,1000.7 L276.3,1000.7 L277.3,1000.8 L278.3,1000.8 L279.3,1000.8 L280.3,1000.8 L281.3,1000.9 L282.3,1000.9 L283.3,1000.9 L284.3,1000.9 L285.3,1001.0 L286.3,1001.0 L287.3,1001.0 L288.3,1001.0 L289.3,1001.0 L290.3,1001.1 L291.3,1001.1 L292.3,1001.1 L293.3,1001.1 L294.3,1001.1 L295.3,1001.2 L296.3,1001.2 L297.3,1001.2 L298.3,1001.2 L299.3,1001.2 L300.3,1001.2 L301.3,1001.3 L302.3,1001.3 L303.3,1001.3 L304.3,1001.3 L305.3,1001.3 L306.3,1001.3 L307.3,1001.3 L308.3,1001.3 L309.3,1001.3 L310.3,1001.3 L311.3,1001.3 L312.3,1001.3 L313.3,1001.3 L314.3,1001.3 L315.3,1001.4 L316.3,1001.4 L317.3,1001.4 L318.3,1001.4 L319.3,1001.3 L320.3,1001.3 L321.3,1001.3 L322.3,1001.3 L323.3,1001.3 L324.3,1001.3 L325.3,1001.3 L326.3,1001.3 L327.3,1001.3 L327.5,1001.3" class="th"/><path d="M31.5,995.8 L32.3,996.4 L33.1,996.9 L34.0,997.5 L34.9,998.0 L35.8,998.4 L36.7,998.8 L37.6,999.1 L38.6,999.3 L39.6,999.4 L40.6,999.3 L41.6,999.2 L42.6,999.0 L43.6,998.8 L44.5,998.5 L45.4,998.1 L46.4,997.7 L47.3,997.3 L48.1,996.8 L49.0,996.3 L49.8,995.7 L50.6,995.1 L51.4,994.5 L52.2,993.9 L52.9,993.2 L53.6,992.5 L54.3,991.8 L55.0,991.0 L55.7,990.3 L56.3,989.5 L56.9,988.7 L57.6,988.0 L58.1,987.1 L58.7,986.3 L59.3,985.5 L59.8,984.7 L60.3,983.8 L60.9,982.9 L61.3,982.1 L61.8,981.2 L62.3,980.3 L62.7,979.4 L63.2,978.5 L63.6,977.6 L64.0,976.7 L64.4,975.8 L64.8,974.9 L65.2,973.9 L65.6,973.0 L65.9,972.1 L66.3,971.2 L66.6,970.2 L67.0,969.3 L67.3,968.3 L67.6,967.4 L68.0,966.4 L68.3,965.5 L68.6,964.5 L68.9,963.6 L69.2,962.6 L69.5,961.7 L69.8,960.7 L70.1,959.8 L70.4,958.8 L70.7,957.9 L71.0,956.9 L71.4,956.0 L71.7,955.0 L72.0,954.1 L72.3,953.1 L72.6,952.2 L73.0,951.2 L73.3,950.3 L73.6,949.4 L73.9,948.4 L74.3,947.5 L74.6,946.5 L75.0,945.6 L75.3,944.6 L75.6,943.7 L76.0,942.8 L76.3,941.8 L76.7,940.9 L77.0,939.9 L77.4,939.0 L77.7,938.1 L78.0,937.1 L78.4,936.2 L78.7,935.3 L79.1,934.3 L79.4,933.4 L79.8,932.4 L80.1,931.5 L80.5,930.6 L80.9,929.6 L81.2,928.7 L81.6,927.8 L82.0,926.9 L82.4,926.0 L82.9,925.1 L83.3,924.2 L83.7,923.3 L84.2,922.4 L84.6,921.5 L85.1,920.6 L85.6,919.7 L86.1,918.9 L86.7,918.0 L87.3,917.2 L87.9,916.4 L88.5,915.7 L89.2,915.0 L90.0,914.3 L90.8,913.7 L91.6,913.1 L92.5,912.7 L93.4,912.3 L94.4,912.1 L95.4,912.1 L96.3,912.3 L97.3,912.7 L98.1,913.2 L98.9,913.8 L99.7,914.5 L100.4,915.2 L101.0,915.9 L101.7,916.7 L102.3,917.5 L102.9,918.3 L103.4,919.1 L103.9,920.0 L104.4,920.9 L104.9,921.7 L105.3,922.6 L105.7,923.6 L106.1,924.5 L106.5,925.4 L106.8,926.3 L107.2,927.3 L107.5,928.2 L107.8,929.2 L108.2,930.1 L108.5,931.1 L108.8,932.0 L109.1,933.0 L109.5,933.9 L109.8,934.8 L110.1,935.8 L110.5,936.7 L110.9,937.6 L111.2,938.6 L111.6,939.5 L112.0,940.4 L112.4,941.4 L112.7,942.3 L113.1,943.2 L113.5,944.1 L113.9,945.0 L114.3,945.9 L114.8,946.8 L115.2,947.8 L115.6,948.7 L116.0,949.6 L116.5,950.5 L116.9,951.4 L117.3,952.3 L117.8,953.2 L118.2,954.1 L118.6,955.0 L119.1,955.9 L119.5,956.8 L120.0,957.7 L120.4,958.6 L120.8,959.5 L121.3,960.4 L121.7,961.2 L122.2,962.1 L122.6,963.0 L123.1,963.9 L123.5,964.8 L123.9,965.7 L124.4,966.6 L124.8,967.5 L125.3,968.4 L125.7,969.3 L126.1,970.2 L126.5,971.1 L127.0,972.0 L127.4,972.9 L127.8,973.9 L128.2,974.8 L128.7,975.7 L129.1,976.6 L129.5,977.5 L130.0,978.4 L130.4,979.3 L130.9,980.2 L131.3,981.0 L131.8,981.9 L132.3,982.8 L132.8,983.7 L133.3,984.5 L133.8,985.4 L134.3,986.3 L134.8,987.1 L135.4,987.9 L136.0,988.8 L136.5,989.6 L137.1,990.4 L137.8,991.1 L138.4,991.9 L139.1,992.7 L139.7,993.4 L140.4,994.1 L141.1,994.9 L141.8,995.5 L142.6,996.2 L143.3,996.9 L144.1,997.5 L144.9,998.2 L145.7,998.8 L146.5,999.4 L147.3,999.9 L148.1,1000.5 L149.0,1001.0 L149.8,1001.5 L150.7,1002.0 L151.6,1002.5 L152.4,1003.0 L153.3,1003.4 L154.2,1003.9 L155.2,1004.3 L156.1,1004.6 L157.0,1005.0 L158.0,1005.3 L158.9,1005.7 L159.9,1006.0 L160.0,1006.0" class="th"/><path d="M31.5,995.8 L32.4,995.3 L33.2,994.8 L34.1,994.3 L34.9,993.7 L35.7,993.1 L36.5,992.4 L37.2,991.8 L37.9,991.1 L38.6,990.4 L39.3,989.6 L39.9,988.9 L40.6,988.1 L41.2,987.3 L41.8,986.5 L42.3,985.7 L42.9,984.8 L43.4,984.0 L43.9,983.1 L44.4,982.2 L44.9,981.4 L45.3,980.5 L45.8,979.6 L46.2,978.7 L46.7,977.8 L47.1,976.9 L47.5,976.0 L47.9,975.1 L48.3,974.2 L48.7,973.2 L49.2,972.3 L49.5,971.4 L49.9,970.5 L50.3,969.6 L50.7,968.6 L51.1,967.7 L51.5,966.8 L51.8,965.9 L52.2,964.9 L52.6,964.0 L52.9,963.1 L53.3,962.1 L53.6,961.2 L54.0,960.3 L54.3,959.3 L54.7,958.4 L55.0,957.4 L55.3,956.5 L55.6,955.5 L56.0,954.6 L56.3,953.6 L56.6,952.7 L56.9,951.7 L57.2,950.8 L57.5,949.8 L57.8,948.9 L58.1,947.9 L58.4,947.0 L58.7,946.0 L59.0,945.1 L59.3,944.1 L59.6,943.2 L59.9,942.2 L60.2,941.2 L60.5,940.3 L60.7,939.3 L61.0,938.4 L61.3,937.4 L61.5,936.4 L61.8,935.5 L62.1,934.5 L62.3,933.5 L62.6,932.6 L62.9,931.6 L63.1,930.6 L63.4,929.7 L63.6,928.7 L63.9,927.7 L64.1,926.8 L64.4,925.8 L64.6,924.8 L64.9,923.9 L65.1,922.9 L65.4,921.9 L65.6,921.0 L65.9,920.0 L66.1,919.0 L66.3,918.0 L66.6,917.1 L66.8,916.1 L67.1,915.1 L67.3,914.2 L67.5,913.2 L67.8,912.2 L68.0,911.3 L68.3,910.3 L68.5,909.3 L68.7,908.3 L69.0,907.4 L69.2,906.4 L69.5,905.4 L69.7,904.5 L69.9,903.5 L70.2,902.5 L70.4,901.5 L70.7,900.6 L70.9,899.6 L71.2,898.6 L71.4,897.7 L71.6,896.7 L71.9,895.7 L72.1,894.8 L72.4,893.8 L72.6,892.8 L72.9,891.9 L73.2,890.9 L73.4,889.9 L73.7,889.0 L74.0,888.0 L74.3,887.1 L74.6,886.1 L74.9,885.2 L75.2,884.2 L75.6,883.3 L75.9,882.3 L76.3,881.4 L76.7,880.5 L77.1,879.6 L77.5,878.6 L77.9,877.7 L78.3,876.8 L78.8,875.9 L79.3,875.1 L79.7,874.2 L80.3,873.3 L80.8,872.5 L81.3,871.6 L81.9,870.8 L82.5,870.0 L83.1,869.2 L83.7,868.4 L84.4,867.7 L85.1,867.0 L85.9,866.4 L86.7,865.8 L87.6,865.4 L88.6,865.1 L89.6,865.0 L90.6,865.0 L91.6,865.2 L92.5,865.5 L93.4,866.0 L94.2,866.5 L95.0,867.1 L95.8,867.8 L96.5,868.5 L97.2,869.2 L97.8,870.0 L98.4,870.8 L99.0,871.6 L99.5,872.4 L100.0,873.3 L100.5,874.2 L101.0,875.1 L101.4,876.0 L101.8,876.9 L102.2,877.8 L102.6,878.7 L102.9,879.7 L103.3,880.6 L103.7,881.5 L104.1,882.4 L104.5,883.4 L104.9,884.3 L105.3,885.2 L105.7,886.1 L106.1,887.0 L106.6,887.9 L107.0,888.8 L107.4,889.7 L107.8,890.6 L108.2,891.6 L108.6,892.5 L109.0,893.4 L109.4,894.3 L109.9,895.2 L110.3,896.1 L110.6,897.0 L111.0,898.0 L111.4,898.9 L111.8,899.8 L112.2,900.7 L112.6,901.7 L113.0,902.6 L113.3,903.5 L113.7,904.4 L114.1,905.4 L114.5,906.3 L114.8,907.2 L115.2,908.1 L115.6,909.1 L116.0,910.0 L116.3,910.9 L116.7,911.8 L117.1,912.8 L117.5,913.7 L117.9,914.6 L118.2,915.5 L118.6,916.5 L119.0,917.4 L119.4,918.3 L119.8,919.2 L120.2,920.1 L120.6,921.0 L121.1,922.0 L121.5,922.9 L121.9,923.8 L122.3,924.7 L122.8,925.6 L123.2,926.5 L123.6,927.4 L124.1,928.3 L124.5,929.2 L125.0,930.0 L125.5,930.9 L125.9,931.8 L126.4,932.7 L126.8,933.6 L127.3,934.5 L127.8,935.4 L128.3,936.2 L128.7,937.1 L129.2,938.0 L129.7,938.9 L130.2,939.7 L130.7,940.6 L131.2,941.5 L131.6,942.4 L132.1,943.2 L132.6,944.1 L133.1,945.0 L133.6,945.9 L134.1,946.7 L134.6,947.6 L135.1,948.5 L135.6,949.3 L136.1,950.2 L136.6,951.1 L137.1,951.9 L137.5,952.8 L138.0,953.7 L138.5,954.5 L139.0,955.4 L139.5,956.3 L140.1,957.1 L140.6,958.0 L141.1,958.9 L141.6,959.7 L142.1,960.6 L142.7,961.4 L143.2,962.2 L143.7,963.1 L144.3,963.9 L144.9,964.7 L145.4,965.6 L146.0,966.4 L146.6,967.2 L147.2,968.0 L147.8,968.8 L148.4,969.6 L149.0,970.4 L149.7,971.1 L150.3,971.9 L151.0,972.6 L151.6,973.4 L152.3,974.1 L153.0,974.8 L153.7,975.6 L154.4,976.3 L155.2,977.0 L155.9,977.6 L156.6,978.3 L157.4,979.0 L158.1,979.6 L158.9,980.2 L159.7,980.9 L160.5,981.5 L161.3,982.1 L162.1,982.7 L162.9,983.3 L163.7,983.8 L164.5,984.4 L165.4,984.9 L166.2,985.5 L167.1,986.0 L167.9,986.5 L168.8,987.0 L169.7,987.5 L170.5,988.0 L171.4,988.5 L172.3,988.9 L173.2,989.4 L174.1,989.8 L175.0,990.3 L175.9,990.7 L176.8,991.1 L177.7,991.5 L178.7,991.8 L179.6,992.2 L180.5,992.6 L181.5,992.9 L182.4,993.2 L183.4,993.6 L184.3,993.9 L185.3,994.2 L186.2,994.4 L187.2,994.7 L188.2,995.0 L189.1,995.2 L190.1,995.5 L191.1,995.7 L192.0,995.9 L193.0,996.2 L194.0,996.4 L195.0,996.6 L196.0,996.8 L196.9,997.0 L197.9,997.1 L198.9,997.3 L199.9,997.5 L200.9,997.6 L201.9,997.8 L202.9,997.9 L203.9,998.1 L204.8,998.2 L205.8,998.3 L206.8,998.4 L207.8,998.6 L208.8,998.7 L209.8,998.8 L210.8,998.9 L211.8,999.0 L212.8,999.1 L213.8,999.2 L214.8,999.3 L215.8,999.4 L216.8,999.5 L217.8,999.6 L218.8,999.6 L219.8,999.7 L220.8,999.8 L221.8,999.9 L222.8,1000.0 L223.8,1000.0 L224.7,1000.1 L225.7,1000.2 L226.7,1000.2 L227.7,1000.3 L228.7,1000.4 L229.7,1000.4 L230.7,1000.5 L231.7,1000.5 L232.7,1000.6 L233.7,1000.6 L234.7,1000.7 L235.7,1000.7 L236.7,1000.8 L237.7,1000.8 L238.7,1000.9 L239.7,1000.9 L240.7,1000.9 L241.7,1001.0 L242.7,1001.0 L243.7,1001.0 L244.7,1001.1 L245.7,1001.1 L246.7,1001.1 L247.7,1001.1 L248.7,1001.2 L249.7,1001.2 L250.7,1001.2 L251.7,1001.2 L252.7,1001.2 L253.7,1001.2 L254.7,1001.3 L255.7,1001.3 L256.7,1001.3 L257.7,1001.3 L258.7,1001.3 L259.7,1001.3 L260.7,1001.3 L261.7,1001.3 L262.7,1001.3 L263.7,1001.3 L264.7,1001.4 L265.7,1001.4 L266.7,1001.4 L267.7,1001.4 L268.7,1001.4 L269.7,1001.4 L270.7,1001.4 L271.7,1001.4 L272.7,1001.4 L273.7,1001.4 L274.7,1001.3 L275.7,1001.3 L276.7,1001.3 L277.7,1001.3 L278.7,1001.3 L279.7,1001.3 L280.7,1001.3 L281.7,1001.3 L282.7,1001.3 L283.7,1001.3 L284.7,1001.3 L285.7,1001.3 L286.7,1001.3 L287.7,1001.3 L288.7,1001.3 L289.7,1001.3 L290.7,1001.3 L291.7,1001.3 L292.7,1001.2 L293.7,1001.2 L294.7,1001.2 L295.7,1001.2 L296.7,1001.2 L297.7,1001.2 L298.7,1001.2 L299.7,1001.2 L300.7,1001.2 L301.7,1001.2 L302.7,1001.2 L303.7,1001.2 L304.7,1001.2 L305.7,1001.2 L306.7,1001.2 L307.7,1001.2 L308.7,1001.2 L309.7,1001.2 L310.7,1001.2 L311.7,1001.2 L312.7,1001.2 L313.7,1001.2 L314.7,1001.2 L315.7,1001.2 L316.7,1001.2 L317.7,1001.2 L318.7,1001.3 L319.7,1001.3 L320.7,1001.3 L321.7,1001.3 L322.7,1001.3 L323.7,1001.3 L324.7,1001.3 L325.7,1001.4 L326.7,1001.4 L327.5,1001.4" class="tk"/></g></g>
<g><path d="M30.40,1056.50H327.70" class="fh"/><path d="M30.40,1263.30H327.70" class="fb"/><path d="M30.90,1056.50V1263.30M327.20,1056.50V1263.30" class="fv"/><path d="M67.94,1263.30v-3.4M67.94,1056.50v3.4M104.97,1263.30v-6.0M104.97,1056.50v6.0M142.01,1263.30v-3.4M142.01,1056.50v3.4M179.05,1263.30v-6.0M179.05,1056.50v6.0M216.09,1263.30v-3.4M216.09,1056.50v3.4M253.12,1263.30v-6.0M253.12,1056.50v6.0M290.16,1263.30v-3.4M290.16,1056.50v3.4M30.90,1233.65h3.4M327.20,1233.65h-3.4M30.90,1204.00h6.0M327.20,1204.00h-6.0M30.90,1174.35h3.4M327.20,1174.35h-3.4M30.90,1144.70h6.0M327.20,1144.70h-6.0M30.90,1115.05h3.4M327.20,1115.05h-3.4M30.90,1085.40h6.0M327.20,1085.40h-6.0" class="t"/><text x="31.10" y="1272.90" class="n" text-anchor="middle">0</text><text x="105.17" y="1272.90" class="n" text-anchor="middle">5</text><text x="179.25" y="1272.90" class="n" text-anchor="middle">10</text><text x="253.32" y="1272.90" class="n" text-anchor="middle">15</text><text x="327.40" y="1272.90" class="n" text-anchor="middle">20</text><text x="28.30" y="1267.10" class="n" text-anchor="end">0</text><text x="28.30" y="1207.80" class="n" text-anchor="end">10</text><text x="28.30" y="1148.50" class="n" text-anchor="end">20</text><text x="28.30" y="1089.20" class="n" text-anchor="end">30</text><text x="179.35" y="1285.00" class="a" text-anchor="middle">t (days)</text><text transform="translate(14.30,1159.90) rotate(-90)" class="a" text-anchor="middle">I(t)</text><text x="256.90" y="1087.70" class="ti">CMD</text><text x="13.60" y="1289.20" class="pl">(I)</text><g clip-path="url(#cI)"><path d="M31.5,1257.4 L32.1,1256.6 L32.6,1255.7 L33.2,1254.9 L33.7,1254.1 L34.3,1253.3 L34.9,1252.4 L35.4,1251.6 L36.0,1250.8 L36.6,1250.0 L37.1,1249.1 L37.7,1248.3 L38.3,1247.5 L38.8,1246.7 L39.4,1245.8 L39.9,1245.0 L40.5,1244.2 L41.1,1243.3 L41.6,1242.5 L42.2,1241.7 L42.7,1240.8 L43.3,1240.0 L43.8,1239.2 L44.4,1238.3 L44.9,1237.5 L45.4,1236.6 L46.0,1235.8 L46.5,1235.0 L47.0,1234.1 L47.6,1233.3 L48.1,1232.4 L48.6,1231.5 L49.1,1230.7 L49.6,1229.8 L50.1,1229.0 L50.6,1228.1 L51.1,1227.2 L51.6,1226.3 L52.1,1225.5 L52.5,1224.6 L53.0,1223.7 L53.5,1222.8 L53.9,1221.9 L54.4,1221.0 L54.8,1220.2 L55.3,1219.3 L55.7,1218.4 L56.2,1217.5 L56.6,1216.6 L57.0,1215.6 L57.4,1214.7 L57.9,1213.8 L58.3,1212.9 L58.7,1212.0 L59.1,1211.1 L59.6,1210.2 L60.0,1209.3 L60.4,1208.4 L60.9,1207.5 L61.3,1206.6 L61.8,1205.7 L62.2,1204.8 L62.7,1203.9 L63.1,1203.1 L63.6,1202.2 L64.1,1201.3 L64.6,1200.4 L65.1,1199.6 L65.6,1198.7 L66.1,1197.9 L66.7,1197.0 L67.2,1196.2 L67.8,1195.4 L68.4,1194.5 L69.0,1193.7 L69.6,1192.9 L70.2,1192.2 L70.8,1191.4 L71.5,1190.7 L72.2,1189.9 L72.9,1189.2 L73.6,1188.5 L74.3,1187.8 L75.1,1187.1 L75.8,1186.5 L76.6,1185.9 L77.4,1185.3 L78.2,1184.7 L79.0,1184.1 L79.9,1183.6 L80.7,1183.1 L81.6,1182.6 L82.5,1182.1 L83.4,1181.7 L84.3,1181.3 L85.3,1181.0 L86.2,1180.6 L87.2,1180.4 L88.1,1180.1 L89.1,1180.0 L90.1,1179.8 L91.1,1179.8 L92.1,1179.7 L93.1,1179.8 L94.1,1179.9 L95.1,1180.0 L96.1,1180.3 L97.0,1180.5 L98.0,1180.8 L98.9,1181.1 L99.9,1181.5 L100.8,1181.9 L101.7,1182.3 L102.6,1182.8 L103.5,1183.2 L104.4,1183.7 L105.2,1184.2 L106.1,1184.7 L107.0,1185.2 L107.8,1185.7 L108.7,1186.2 L109.6,1186.7 L110.4,1187.2 L111.3,1187.7 L112.1,1188.2 L113.0,1188.8 L113.8,1189.3 L114.7,1189.8 L115.5,1190.3 L116.4,1190.8 L117.2,1191.4 L118.1,1191.9 L119.0,1192.4 L119.8,1192.9 L120.7,1193.5 L121.5,1194.0 L122.4,1194.5 L123.2,1195.0 L124.1,1195.6 L124.9,1196.1 L125.8,1196.6 L126.6,1197.1 L127.5,1197.7 L128.3,1198.2 L129.2,1198.7 L130.0,1199.2 L130.9,1199.8 L131.7,1200.3 L132.6,1200.8 L133.4,1201.4 L134.3,1201.9 L135.1,1202.4 L135.9,1203.0 L136.8,1203.5 L137.6,1204.0 L138.5,1204.6 L139.3,1205.1 L140.2,1205.6 L141.0,1206.2 L141.9,1206.7 L142.7,1207.2 L143.6,1207.8 L144.4,1208.3 L145.2,1208.8 L146.1,1209.4 L146.9,1209.9 L147.8,1210.5 L148.6,1211.0 L149.5,1211.5 L150.3,1212.1 L151.1,1212.6 L152.0,1213.2 L152.8,1213.7 L153.6,1214.3 L154.5,1214.8 L155.3,1215.3 L156.2,1215.9 L157.0,1216.4 L157.8,1217.0 L158.7,1217.5 L159.5,1218.1 L160.3,1218.6 L161.2,1219.2 L162.0,1219.7 L162.9,1220.3 L163.7,1220.8 L164.5,1221.4 L165.4,1221.9 L166.2,1222.5 L167.0,1223.0 L167.9,1223.6 L168.7,1224.1 L169.5,1224.7 L170.4,1225.2 L171.2,1225.7 L172.1,1226.3 L172.9,1226.8 L173.8,1227.4 L174.6,1227.9 L175.4,1228.4 L176.3,1229.0 L177.1,1229.5 L178.0,1230.0 L178.8,1230.5 L179.7,1231.1 L180.6,1231.6 L181.4,1232.1 L182.3,1232.6 L183.1,1233.1 L184.0,1233.6 L184.9,1234.1 L185.7,1234.6 L186.6,1235.1 L187.5,1235.6 L188.3,1236.1 L189.2,1236.6 L190.1,1237.1 L191.0,1237.5 L191.8,1238.0 L192.7,1238.5 L193.6,1238.9 L194.5,1239.4 L195.4,1239.8 L196.3,1240.3 L197.2,1240.7 L198.1,1241.2 L199.0,1241.6 L199.9,1242.0 L200.8,1242.4 L201.7,1242.8 L202.6,1243.2 L203.6,1243.6 L204.5,1244.0 L205.4,1244.4 L206.3,1244.8 L207.3,1245.1 L208.2,1245.5 L209.1,1245.9 L210.1,1246.2 L211.0,1246.5 L212.0,1246.9 L212.9,1247.2 L213.9,1247.5 L214.8,1247.8 L215.8,1248.1 L216.7,1248.4 L217.7,1248.7 L218.6,1249.0 L219.6,1249.2 L220.6,1249.5 L221.5,1249.8 L222.5,1250.0 L223.5,1250.3 L224.4,1250.5 L225.4,1250.7 L226.4,1251.0 L227.4,1251.2 L228.3,1251.4 L229.3,1251.6 L230.3,1251.8 L231.3,1252.0 L232.2,1252.2 L233.2,1252.4 L234.2,1252.6 L235.2,1252.8 L236.2,1253.0 L237.2,1253.2 L238.1,1253.3 L239.1,1253.5 L240.1,1253.7 L241.1,1253.8 L242.1,1254.0 L243.1,1254.1 L244.1,1254.3 L245.1,1254.4 L246.0,1254.6 L247.0,1254.7 L248.0,1254.8 L249.0,1255.0 L250.0,1255.1 L251.0,1255.2 L252.0,1255.4 L253.0,1255.5 L254.0,1255.6 L255.0,1255.7 L256.0,1255.9 L257.0,1256.0 L257.9,1256.1 L258.9,1256.2 L259.9,1256.3 L260.9,1256.4 L261.9,1256.5 L262.9,1256.6 L263.9,1256.8 L264.9,1256.9 L265.9,1257.0 L266.9,1257.1 L267.9,1257.2 L268.9,1257.3 L269.9,1257.4 L270.9,1257.4 L271.9,1257.5 L272.9,1257.6 L273.9,1257.7 L274.9,1257.8 L275.9,1257.9 L276.9,1258.0 L277.9,1258.1 L278.8,1258.1 L279.8,1258.2 L280.8,1258.3 L281.8,1258.4 L282.8,1258.5 L283.8,1258.5 L284.8,1258.6 L285.8,1258.7 L286.8,1258.8 L287.8,1258.8 L288.8,1258.9 L289.8,1259.0 L290.8,1259.0 L291.8,1259.1 L292.8,1259.2 L293.8,1259.2 L294.8,1259.3 L295.8,1259.4 L296.8,1259.4 L297.8,1259.5 L298.8,1259.6 L299.8,1259.6 L300.8,1259.7 L301.8,1259.7 L302.8,1259.8 L303.8,1259.9 L304.8,1259.9 L305.8,1260.0 L306.8,1260.0 L307.8,1260.1 L308.8,1260.1 L309.8,1260.2 L310.8,1260.3 L311.8,1260.3 L312.8,1260.4 L313.8,1260.4 L314.8,1260.5 L315.8,1260.5 L316.8,1260.6 L317.8,1260.6 L318.8,1260.7 L319.8,1260.7 L320.8,1260.8 L321.8,1260.8 L322.8,1260.9 L323.8,1260.9 L324.8,1261.0 L325.8,1261.0 L326.8,1261.1 L327.3,1261.1" class="th"/><path d="M31.5,1257.4 L32.4,1257.9 L33.3,1258.4 L34.2,1258.8 L35.1,1259.1 L36.1,1259.4 L37.0,1259.6 L38.0,1259.9 L39.0,1260.0 L40.0,1260.1 L41.0,1260.2 L42.0,1260.3 L43.0,1260.3 L44.0,1260.3 L45.0,1260.3 L46.0,1260.3 L47.0,1260.2 L48.0,1260.1 L49.0,1260.0 L50.0,1259.9 L51.0,1259.7 L51.9,1259.6 L52.9,1259.3 L53.9,1259.1 L54.8,1258.8 L55.8,1258.5 L56.8,1258.2 L57.7,1257.9 L58.6,1257.5 L59.6,1257.2 L60.5,1256.8 L61.4,1256.4 L62.3,1255.9 L63.2,1255.5 L64.1,1255.0 L65.0,1254.6 L65.8,1254.1 L66.7,1253.6 L67.6,1253.1 L68.5,1252.6 L69.3,1252.1 L70.2,1251.6 L71.0,1251.1 L71.9,1250.6 L72.8,1250.1 L73.6,1249.6 L74.5,1249.0 L75.3,1248.5 L76.2,1248.0 L77.0,1247.5 L77.9,1246.9 L78.7,1246.4 L79.6,1245.9 L80.4,1245.4 L81.3,1244.9 L82.1,1244.3 L83.0,1243.8 L83.9,1243.3 L84.7,1242.8 L85.6,1242.4 L86.5,1241.9 L87.4,1241.4 L88.3,1241.0 L89.2,1240.6 L90.2,1240.3 L91.1,1240.0 L92.1,1239.7 L93.1,1239.5 L94.0,1239.3 L95.0,1239.1 L96.0,1239.0 L97.0,1238.9 L98.0,1238.9 L99.0,1238.8 L100.0,1238.8 L101.0,1238.9 L102.0,1238.9 L103.0,1239.0 L104.0,1239.1 L105.0,1239.3 L106.0,1239.4 L107.0,1239.6 L107.9,1239.8 L108.9,1240.0 L109.9,1240.3 L110.8,1240.6 L111.8,1240.8 L112.8,1241.1 L113.7,1241.5 L114.6,1241.8 L115.6,1242.1 L116.5,1242.5 L117.4,1242.9 L118.4,1243.3 L119.3,1243.7 L120.2,1244.1 L121.1,1244.5 L122.0,1244.9 L122.9,1245.3 L123.8,1245.8 L124.7,1246.2 L125.6,1246.7 L126.5,1247.1 L127.4,1247.6 L128.3,1248.1 L129.1,1248.5 L130.0,1249.0 L130.9,1249.5 L131.8,1249.9 L132.7,1250.4 L133.6,1250.9 L134.4,1251.3 L135.3,1251.8 L136.2,1252.3 L137.1,1252.7 L138.0,1253.2 L138.9,1253.6 L139.8,1254.0 L140.7,1254.5 L141.6,1254.9 L142.5,1255.3 L143.4,1255.7 L144.3,1256.1 L145.3,1256.5 L146.2,1256.9 L147.1,1257.3 L148.0,1257.7 L149.0,1258.0 L149.9,1258.4 L150.8,1258.7 L151.8,1259.1 L152.7,1259.4 L153.6,1259.8 L154.6,1260.1 L155.5,1260.5 L156.5,1260.8 L157.4,1261.2 L158.3,1261.5 L159.3,1261.9 L160.2,1262.2 L161.2,1262.6 L162.1,1262.9 L163.0,1263.3 L164.0,1263.6 L164.9,1264.0 L165.8,1264.4 L166.7,1264.7 L167.7,1265.1 L168.6,1265.5 L169.5,1265.9 L170.4,1266.3 L171.3,1266.7 L172.0,1267.0" class="th"/><path d="M31.5,1257.4 L32.4,1257.0 L33.3,1256.6 L34.2,1256.1 L35.1,1255.7 L36.0,1255.2 L36.9,1254.7 L37.7,1254.2 L38.6,1253.7 L39.4,1253.1 L40.2,1252.6 L41.0,1252.0 L41.9,1251.4 L42.6,1250.8 L43.4,1250.2 L44.2,1249.5 L45.0,1248.9 L45.7,1248.3 L46.5,1247.6 L47.2,1246.9 L48.0,1246.2 L48.7,1245.6 L49.4,1244.9 L50.1,1244.2 L50.9,1243.5 L51.6,1242.8 L52.2,1242.0 L52.9,1241.3 L53.6,1240.6 L54.3,1239.9 L55.0,1239.1 L55.7,1238.4 L56.3,1237.6 L57.0,1236.9 L57.7,1236.2 L58.3,1235.4 L59.0,1234.7 L59.7,1233.9 L60.3,1233.2 L61.0,1232.4 L61.7,1231.7 L62.3,1230.9 L63.0,1230.2 L63.7,1229.4 L64.3,1228.7 L65.0,1228.0 L65.7,1227.2 L66.4,1226.5 L67.1,1225.8 L67.7,1225.0 L68.4,1224.3 L69.2,1223.6 L69.9,1222.9 L70.6,1222.2 L71.3,1221.5 L72.1,1220.9 L72.8,1220.2 L73.6,1219.6 L74.4,1218.9 L75.1,1218.3 L75.9,1217.7 L76.8,1217.1 L77.6,1216.6 L78.4,1216.0 L79.3,1215.5 L80.2,1215.0 L81.0,1214.6 L81.9,1214.1 L82.8,1213.7 L83.8,1213.3 L84.7,1212.9 L85.6,1212.6 L86.6,1212.2 L87.5,1211.9 L88.4,1211.6 L89.4,1211.3 L90.3,1210.9 L91.3,1210.7 L92.3,1210.4 L93.3,1210.2 L94.2,1210.1 L95.2,1210.0 L96.2,1210.0 L97.2,1210.1 L98.2,1210.2 L99.2,1210.4 L100.2,1210.6 L101.1,1210.9 L102.1,1211.2 L103.1,1211.5 L104.0,1211.8 L105.0,1212.1 L105.9,1212.5 L106.8,1212.8 L107.8,1213.1 L108.7,1213.5 L109.6,1213.9 L110.6,1214.2 L111.5,1214.6 L112.4,1215.0 L113.4,1215.3 L114.3,1215.7 L115.2,1216.1 L116.1,1216.5 L117.0,1216.9 L117.9,1217.3 L118.8,1217.8 L119.8,1218.2 L120.7,1218.6 L121.6,1219.0 L122.5,1219.5 L123.4,1219.9 L124.2,1220.4 L125.1,1220.8 L126.0,1221.3 L126.9,1221.8 L127.8,1222.3 L128.7,1222.7 L129.5,1223.2 L130.4,1223.7 L131.3,1224.2 L132.1,1224.7 L133.0,1225.2 L133.9,1225.7 L134.7,1226.2 L135.6,1226.7 L136.5,1227.2 L137.3,1227.7 L138.2,1228.3 L139.0,1228.8 L139.9,1229.3 L140.7,1229.8 L141.6,1230.3 L142.5,1230.8 L143.3,1231.3 L144.2,1231.8 L145.0,1232.3 L145.9,1232.9 L146.8,1233.4 L147.6,1233.9 L148.5,1234.4 L149.4,1234.9 L150.2,1235.4 L151.1,1235.9 L152.0,1236.4 L152.8,1236.8 L153.7,1237.3 L154.6,1237.8 L155.5,1238.3 L156.3,1238.8 L157.2,1239.2 L158.1,1239.7 L159.0,1240.2 L159.9,1240.6 L160.8,1241.1 L161.7,1241.6 L162.5,1242.0 L163.4,1242.5 L164.3,1242.9 L165.2,1243.3 L166.1,1243.8 L167.0,1244.2 L167.9,1244.6 L168.9,1245.0 L169.8,1245.5 L170.7,1245.9 L171.6,1246.3 L172.5,1246.7 L173.4,1247.1 L174.4,1247.4 L175.3,1247.8 L176.2,1248.2 L177.1,1248.6 L178.1,1248.9 L179.0,1249.3 L179.9,1249.7 L180.9,1250.0 L181.8,1250.3 L182.8,1250.7 L183.7,1251.0 L184.6,1251.3 L185.6,1251.7 L186.5,1252.0 L187.5,1252.3 L188.4,1252.6 L189.4,1252.9 L190.3,1253.2 L191.3,1253.5 L192.3,1253.8 L193.2,1254.0 L194.2,1254.3 L195.2,1254.6 L196.1,1254.8 L197.1,1255.1 L198.1,1255.3 L199.0,1255.6 L200.0,1255.8 L201.0,1256.1 L201.9,1256.3 L202.9,1256.5 L203.9,1256.7 L204.9,1256.9 L205.8,1257.1 L206.8,1257.3 L207.8,1257.5 L208.8,1257.7 L209.8,1257.9 L210.8,1258.1 L211.7,1258.3 L212.7,1258.4 L213.7,1258.6 L214.7,1258.7 L215.7,1258.9 L216.7,1259.0 L217.7,1259.2 L218.7,1259.3 L219.7,1259.4 L220.7,1259.5 L221.6,1259.6 L222.6,1259.7 L223.6,1259.8 L224.6,1259.9 L225.6,1260.0 L226.6,1260.1 L227.6,1260.2 L228.6,1260.3 L229.6,1260.3 L230.6,1260.4 L231.6,1260.5 L232.6,1260.5 L233.6,1260.6 L234.6,1260.7 L235.6,1260.7 L236.6,1260.7 L237.6,1260.8 L238.6,1260.8 L239.6,1260.9 L240.6,1260.9 L241.6,1260.9 L242.6,1261.0 L243.6,1261.0 L244.6,1261.0 L245.6,1261.1 L246.6,1261.1 L247.6,1261.1 L248.6,1261.1 L249.6,1261.1 L250.6,1261.2 L251.6,1261.2 L252.6,1261.2 L253.6,1261.2 L254.6,1261.2 L255.6,1261.3 L256.6,1261.3 L257.6,1261.3 L258.6,1261.3 L259.6,1261.3 L260.6,1261.3 L261.6,1261.4 L262.6,1261.4 L263.6,1261.4 L264.6,1261.4 L265.6,1261.5 L266.6,1261.5 L267.6,1261.5 L268.6,1261.5 L269.6,1261.6 L270.6,1261.6 L271.6,1261.6 L272.6,1261.6 L273.6,1261.7 L274.6,1261.7 L275.6,1261.7 L276.6,1261.7 L277.6,1261.8 L278.6,1261.8 L279.6,1261.8 L280.6,1261.8 L281.6,1261.9 L282.6,1261.9 L283.6,1261.9 L284.6,1262.0 L285.6,1262.0 L286.6,1262.0 L287.6,1262.0 L288.6,1262.1 L289.6,1262.1 L290.6,1262.1 L291.6,1262.1 L292.6,1262.2 L293.6,1262.2 L294.6,1262.2 L295.6,1262.2 L296.6,1262.3 L297.6,1262.3 L298.6,1262.3 L299.6,1262.3 L300.6,1262.3 L301.6,1262.4 L302.6,1262.4 L303.6,1262.4 L304.6,1262.4 L305.6,1262.4 L306.6,1262.4 L307.6,1262.5 L308.6,1262.5 L309.6,1262.5 L310.6,1262.5 L311.6,1262.5 L312.6,1262.5 L313.6,1262.5 L314.6,1262.5 L315.6,1262.5 L316.6,1262.5 L317.6,1262.5 L318.6,1262.5 L319.6,1262.5 L320.6,1262.5 L321.6,1262.5 L322.6,1262.5 L323.6,1262.5 L324.6,1262.4 L325.6,1262.4 L326.6,1262.4 L327.3,1262.4" class="tk"/></g></g>
<g><path d="M378.70,10.50H675.90" class="fh"/><path d="M378.70,217.60H675.90" class="fb"/><path d="M379.20,10.50V217.60M675.40,10.50V217.60" class="fv"/><path d="M416.22,217.60v-3.4M416.22,10.50v3.4M453.25,217.60v-6.0M453.25,10.50v6.0M490.27,217.60v-3.4M490.27,10.50v3.4M527.30,217.60v-6.0M527.30,10.50v6.0M564.33,217.60v-3.4M564.33,10.50v3.4M601.35,217.60v-6.0M601.35,10.50v6.0M638.38,217.60v-3.4M638.38,10.50v3.4M379.20,174.40h3.4M675.40,174.40h-3.4M379.20,131.20h6.0M675.40,131.20h-6.0M379.20,88.00h3.4M675.40,88.00h-3.4M379.20,44.80h6.0M675.40,44.80h-6.0" class="t"/><text x="379.40" y="227.20" class="n" text-anchor="middle">0</text><text x="453.45" y="227.20" class="n" text-anchor="middle">5</text><text x="527.50" y="227.20" class="n" text-anchor="middle">10</text><text x="601.55" y="227.20" class="n" text-anchor="middle">15</text><text x="675.60" y="227.20" class="n" text-anchor="middle">20</text><text x="376.60" y="221.40" class="n" text-anchor="end">0</text><text x="376.60" y="135.00" class="n" text-anchor="end">50</text><text x="376.60" y="48.60" class="n" text-anchor="end">100</text><text x="527.60" y="239.30" class="a" text-anchor="middle">t (days)</text><text transform="translate(355.90,114.05) rotate(-90)" class="a" text-anchor="middle">R(t)</text><text x="395.80" y="41.40" class="ti">DYN</text><text x="361.60" y="243.50" class="pl">(B)</text><g clip-path="url(#cB)"><path d="M379.2,217.7 L380.2,217.4 L381.2,217.1 L382.2,216.8 L383.2,216.5 L384.2,216.2 L385.2,215.9 L386.2,215.5 L387.2,215.1 L388.2,214.7 L389.2,214.3 L390.2,213.8 L391.2,213.4 L392.2,212.9 L393.2,212.4 L394.2,211.9 L395.2,211.3 L396.2,210.7 L397.2,210.1 L398.2,209.5 L399.2,208.9 L400.2,208.2 L401.2,207.6 L402.2,206.9 L403.2,206.1 L404.2,205.4 L405.2,204.7 L406.2,203.9 L407.2,203.1 L408.2,202.3 L409.2,201.4 L410.2,200.6 L411.2,199.7 L412.2,198.8 L413.2,197.9 L414.2,197.0 L415.2,196.1 L416.2,195.2 L417.2,194.2 L418.2,193.2 L419.2,192.3 L420.2,191.3 L421.2,190.3 L422.2,189.3 L423.2,188.3 L424.2,187.3 L425.2,186.3 L426.2,185.2 L427.2,184.2 L428.2,183.2 L429.2,182.1 L430.2,181.1 L431.2,180.1 L432.2,179.0 L433.2,178.0 L434.2,176.9 L435.2,175.9 L436.2,174.9 L437.2,173.8 L438.2,172.8 L439.2,171.8 L440.2,170.8 L441.2,169.8 L442.2,168.8 L443.2,167.8 L444.2,166.8 L445.2,165.8 L446.2,164.8 L447.2,163.9 L448.2,162.9 L449.2,162.0 L450.2,161.0 L451.2,160.1 L452.2,159.2 L453.2,158.3 L454.2,157.4 L455.2,156.5 L456.2,155.6 L457.2,154.8 L458.2,153.9 L459.2,153.1 L460.2,152.2 L461.2,151.4 L462.2,150.6 L463.2,149.8 L464.2,149.0 L465.2,148.3 L466.2,147.5 L467.2,146.8 L468.2,146.0 L469.2,145.3 L470.2,144.6 L471.2,143.9 L472.2,143.2 L473.2,142.5 L474.2,141.9 L475.2,141.2 L476.2,140.6 L477.2,140.0 L478.2,139.4 L479.2,138.7 L480.2,138.2 L481.2,137.6 L482.2,137.0 L483.2,136.4 L484.2,135.9 L485.2,135.4 L486.2,134.8 L487.2,134.3 L488.2,133.8 L489.2,133.3 L490.2,132.8 L491.2,132.4 L492.2,131.9 L493.2,131.4 L494.2,131.0 L495.2,130.6 L496.2,130.1 L497.2,129.7 L498.2,129.3 L499.2,128.9 L500.2,128.5 L501.2,128.2 L502.2,127.8 L503.2,127.4 L504.2,127.1 L505.2,126.7 L506.2,126.4 L507.2,126.1 L508.2,125.8 L509.2,125.5 L510.2,125.2 L511.2,124.9 L512.2,124.6 L513.2,124.3 L514.2,124.0 L515.2,123.8 L516.2,123.5 L517.2,123.3 L518.2,123.0 L519.2,122.8 L520.2,122.6 L521.2,122.4 L522.2,122.2 L523.2,122.0 L524.2,121.8 L525.2,121.6 L526.2,121.4 L527.2,121.2 L528.2,121.0 L529.2,120.8 L530.2,120.7 L531.2,120.5 L532.2,120.4 L533.2,120.2 L534.2,120.1 L535.2,119.9 L536.2,119.8 L537.2,119.6 L538.2,119.5 L539.2,119.4 L540.2,119.3 L541.2,119.2 L542.2,119.0 L543.2,118.9 L544.2,118.8 L545.2,118.7 L546.2,118.6 L547.2,118.5 L548.2,118.4 L549.2,118.3 L550.2,118.3 L551.2,118.2 L552.2,118.1 L553.2,118.0 L554.2,117.9 L555.2,117.9 L556.2,117.8 L557.2,117.7 L558.2,117.7 L559.2,117.6 L560.2,117.5 L561.2,117.5 L562.2,117.4 L563.2,117.4 L564.2,117.3 L565.2,117.3 L566.2,117.2 L567.2,117.2 L568.2,117.1 L569.2,117.1 L570.2,117.0 L571.2,117.0 L572.2,117.0 L573.2,116.9 L574.2,116.9 L575.2,116.8 L576.2,116.8 L577.2,116.8 L578.2,116.7 L579.2,116.7 L580.2,116.7 L581.2,116.6 L582.2,116.6 L583.2,116.6 L584.2,116.6 L585.2,116.5 L586.2,116.5 L587.2,116.5 L588.2,116.5 L589.2,116.5 L590.2,116.4 L591.2,116.4 L592.2,116.4 L593.2,116.4 L594.2,116.4 L595.2,116.4 L596.2,116.3 L597.2,116.3 L598.2,116.3 L599.2,116.3 L600.2,116.3 L601.2,116.3 L602.2,116.3 L603.2,116.3 L604.2,116.2 L605.2,116.2 L606.2,116.2 L607.2,116.2 L608.2,116.2 L609.2,116.2 L610.2,116.2 L611.2,116.2 L612.2,116.2 L613.2,116.2 L614.2,116.2 L615.2,116.2 L616.2,116.2 L617.2,116.2 L618.2,116.2 L619.2,116.2 L620.2,116.2 L621.2,116.1 L622.2,116.1 L623.2,116.1 L624.2,116.1 L625.2,116.1 L626.2,116.1 L627.2,116.1 L628.2,116.1 L629.2,116.1 L630.2,116.1 L631.2,116.1 L632.2,116.1 L633.2,116.1 L634.2,116.1 L635.2,116.1 L636.2,116.1 L637.2,116.1 L638.2,116.1 L639.2,116.1 L640.2,116.1 L641.2,116.1 L642.2,116.1 L643.2,116.1 L644.2,116.1 L645.2,116.1 L646.2,116.1 L647.2,116.1 L648.2,116.1 L649.2,116.1 L650.2,116.1 L651.2,116.1 L652.2,116.1 L653.2,116.1 L654.2,116.1 L655.2,116.1 L656.2,116.1 L657.2,116.1 L658.2,116.1 L659.2,116.2 L660.2,116.2 L661.2,116.2 L662.2,116.2 L663.2,116.2 L664.2,116.2 L665.2,116.2 L666.2,116.2 L667.2,116.2 L668.2,116.2 L669.2,116.2 L670.2,116.2 L671.2,116.2 L672.2,116.2 L673.2,116.2 L674.2,116.2 L675.2,116.2 L675.3,116.2" class="th"/><path d="M379.2,218.0 L380.2,218.0 L381.2,217.9 L382.2,217.9 L383.2,217.8 L384.2,217.7 L385.2,217.7 L386.2,217.6 L387.2,217.5 L388.2,217.5 L389.2,217.4 L390.2,217.3 L391.2,217.2 L392.2,217.1 L393.2,217.0 L394.2,216.9 L395.2,216.8 L396.2,216.7 L397.2,216.6 L398.2,216.4 L399.2,216.3 L400.2,216.2 L401.2,216.0 L402.2,215.9 L403.2,215.7 L404.2,215.5 L405.2,215.3 L406.2,215.1 L407.2,215.0 L408.2,214.7 L409.2,214.5 L410.2,214.3 L411.2,214.1 L412.2,213.8 L413.2,213.6 L414.2,213.3 L415.2,213.1 L416.2,212.8 L417.2,212.5 L418.2,212.2 L419.2,211.9 L420.2,211.5 L421.2,211.2 L422.2,210.9 L423.2,210.5 L424.2,210.1 L425.2,209.7 L426.2,209.4 L427.2,208.9 L428.2,208.5 L429.2,208.1 L430.2,207.7 L431.2,207.2 L432.2,206.7 L433.2,206.3 L434.2,205.8 L435.2,205.3 L436.2,204.8 L437.2,204.3 L438.2,203.7 L439.2,203.2 L440.2,202.6 L441.2,202.1 L442.2,201.5 L443.2,200.9 L444.2,200.3 L445.2,199.7 L446.2,199.1 L447.2,198.5 L448.2,197.9 L449.2,197.3 L450.2,196.6 L451.2,196.0 L452.2,195.3 L453.2,194.7 L454.2,194.0 L455.2,193.4 L456.2,192.7 L457.2,192.1 L458.2,191.4 L459.2,190.7 L460.2,190.1 L461.2,189.4 L462.2,188.7 L463.2,188.1 L464.2,187.4 L465.2,186.7 L466.2,186.1 L467.2,185.4 L468.2,184.8 L469.2,184.1 L470.2,183.5 L471.2,182.9 L472.2,182.3 L473.2,181.6 L474.2,181.0 L475.2,180.4 L476.2,179.8 L477.2,179.2 L478.2,178.7 L479.2,178.1 L480.2,177.5 L481.2,177.0 L482.2,176.4 L483.2,175.9 L484.2,175.4 L485.2,174.9 L486.2,174.4 L487.2,173.9 L488.2,173.4 L489.2,172.9 L490.2,172.5 L491.2,172.0 L492.2,171.6 L493.2,171.2 L494.2,170.7 L495.2,170.3 L496.2,169.9 L497.2,169.6 L498.2,169.2 L499.2,168.8 L500.2,168.5 L501.2,168.1 L502.2,167.8 L503.2,167.5 L504.2,167.2 L505.2,166.8 L506.2,166.6 L507.2,166.3 L508.2,166.0 L509.2,165.7 L510.2,165.5 L511.2,165.2 L512.2,165.0 L513.2,164.7 L514.2,164.5 L515.2,164.3 L516.2,164.1 L517.2,163.9 L518.2,163.7 L519.2,163.5 L520.2,163.3 L521.2,163.1 L522.2,162.9 L523.2,162.8 L524.2,162.6 L525.2,162.5 L526.2,162.3 L527.2,162.2 L528.2,162.0 L529.2,161.9 L530.2,161.8 L531.2,161.6 L532.2,161.5 L533.2,161.4 L534.2,161.3 L535.2,161.2 L536.2,161.1 L537.2,161.0 L538.2,160.9 L539.2,160.8 L540.2,160.7 L541.2,160.6 L542.2,160.5 L543.2,160.5 L544.2,160.4 L545.2,160.3 L546.2,160.2 L547.2,160.2 L548.2,160.1 L549.2,160.0 L550.2,160.0 L551.2,159.9 L552.2,159.9 L553.2,159.8 L554.2,159.8 L555.2,159.7 L556.2,159.7 L557.2,159.6 L558.2,159.6 L559.2,159.5 L560.2,159.5 L561.2,159.4 L562.2,159.4 L563.2,159.4 L564.2,159.3 L565.2,159.3 L566.2,159.3 L567.2,159.2 L568.2,159.2 L569.2,159.2 L570.2,159.2 L571.2,159.1 L572.2,159.1 L573.2,159.1 L574.2,159.1 L575.2,159.0 L576.2,159.0 L577.2,159.0 L578.2,159.0 L579.2,159.0 L580.2,158.9 L581.2,158.9 L582.2,158.9 L583.2,158.9 L584.2,158.9 L585.2,158.9 L586.2,158.9 L587.2,158.9 L588.2,158.8 L589.2,158.8 L590.2,158.8 L591.2,158.8 L592.2,158.8 L593.2,158.8 L594.2,158.8 L595.2,158.8 L596.2,158.8 L597.2,158.8 L598.2,158.8 L599.2,158.8 L600.2,158.8 L601.2,158.8 L602.2,158.7 L603.2,158.7 L604.2,158.7 L605.2,158.7 L606.2,158.7 L607.2,158.7 L608.2,158.7 L609.2,158.7 L610.2,158.7 L611.2,158.7 L612.2,158.7 L613.2,158.7 L614.2,158.7 L615.2,158.7 L616.2,158.7 L617.2,158.7 L618.2,158.7 L619.2,158.7 L620.2,158.7 L621.2,158.7 L622.2,158.7 L623.2,158.7 L624.2,158.7 L625.2,158.7 L626.2,158.7 L627.2,158.7 L628.2,158.7 L629.2,158.7 L630.2,158.7 L631.2,158.7 L632.2,158.7 L633.2,158.7 L634.2,158.7 L635.2,158.7 L636.2,158.7 L637.2,158.7 L638.2,158.7 L639.2,158.7 L640.2,158.7 L641.2,158.7 L642.2,158.7 L643.2,158.7 L644.2,158.7 L645.2,158.7 L646.2,158.7 L647.2,158.7 L648.2,158.7 L649.2,158.7 L650.2,158.7 L651.2,158.7 L652.2,158.7 L653.2,158.7 L654.2,158.7 L655.2,158.7 L656.2,158.7 L657.2,158.7 L658.2,158.7 L659.2,158.7 L660.2,158.7 L661.2,158.7 L662.2,158.7 L663.2,158.7 L664.2,158.7 L665.2,158.7 L666.2,158.7 L667.2,158.7 L668.2,158.7 L669.2,158.7 L670.2,158.7 L671.2,158.7 L672.2,158.7 L673.2,158.7 L674.2,158.7 L675.2,158.7 L675.3,158.7" class="th"/><path d="M379.2,217.7 L380.2,217.5 L381.2,217.4 L382.2,217.2 L383.2,217.0 L384.2,216.8 L385.2,216.6 L386.2,216.3 L387.2,216.1 L388.2,215.9 L389.2,215.6 L390.2,215.4 L391.2,215.1 L392.2,214.8 L393.2,214.5 L394.2,214.2 L395.2,213.9 L396.2,213.5 L397.2,213.2 L398.2,212.8 L399.2,212.5 L400.2,212.1 L401.2,211.7 L402.2,211.3 L403.2,210.8 L404.2,210.4 L405.2,210.0 L406.2,209.5 L407.2,209.0 L408.2,208.5 L409.2,208.0 L410.2,207.5 L411.2,207.0 L412.2,206.4 L413.2,205.9 L414.2,205.3 L415.2,204.7 L416.2,204.1 L417.2,203.5 L418.2,202.9 L419.2,202.2 L420.2,201.6 L421.2,200.9 L422.2,200.3 L423.2,199.6 L424.2,198.9 L425.2,198.2 L426.2,197.5 L427.2,196.7 L428.2,196.0 L429.2,195.3 L430.2,194.5 L431.2,193.8 L432.2,193.0 L433.2,192.2 L434.2,191.5 L435.2,190.7 L436.2,189.9 L437.2,189.1 L438.2,188.3 L439.2,187.5 L440.2,186.7 L441.2,185.9 L442.2,185.1 L443.2,184.3 L444.2,183.5 L445.2,182.7 L446.2,181.9 L447.2,181.1 L448.2,180.3 L449.2,179.5 L450.2,178.7 L451.2,177.9 L452.2,177.1 L453.2,176.3 L454.2,175.5 L455.2,174.7 L456.2,173.9 L457.2,173.2 L458.2,172.4 L459.2,171.7 L460.2,170.9 L461.2,170.2 L462.2,169.4 L463.2,168.7 L464.2,168.0 L465.2,167.3 L466.2,166.6 L467.2,165.9 L468.2,165.2 L469.2,164.5 L470.2,163.9 L471.2,163.2 L472.2,162.6 L473.2,161.9 L474.2,161.3 L475.2,160.7 L476.2,160.1 L477.2,159.5 L478.2,158.9 L479.2,158.3 L480.2,157.8 L481.2,157.2 L482.2,156.7 L483.2,156.1 L484.2,155.6 L485.2,155.1 L486.2,154.6 L487.2,154.1 L488.2,153.6 L489.2,153.1 L490.2,152.7 L491.2,152.2 L492.2,151.8 L493.2,151.3 L494.2,150.9 L495.2,150.5 L496.2,150.1 L497.2,149.7 L498.2,149.3 L499.2,148.9 L500.2,148.6 L501.2,148.2 L502.2,147.9 L503.2,147.5 L504.2,147.2 L505.2,146.9 L506.2,146.6 L507.2,146.3 L508.2,146.0 L509.2,145.7 L510.2,145.4 L511.2,145.1 L512.2,144.9 L513.2,144.6 L514.2,144.4 L515.2,144.1 L516.2,143.9 L517.2,143.7 L518.2,143.4 L519.2,143.2 L520.2,143.0 L521.2,142.8 L522.2,142.6 L523.2,142.4 L524.2,142.2 L525.2,142.1 L526.2,141.9 L527.2,141.7 L528.2,141.6 L529.2,141.4 L530.2,141.3 L531.2,141.1 L532.2,141.0 L533.2,140.8 L534.2,140.7 L535.2,140.6 L536.2,140.5 L537.2,140.3 L538.2,140.2 L539.2,140.1 L540.2,140.0 L541.2,139.9 L542.2,139.8 L543.2,139.7 L544.2,139.6 L545.2,139.5 L546.2,139.4 L547.2,139.3 L548.2,139.2 L549.2,139.2 L550.2,139.1 L551.2,139.0 L552.2,138.9 L553.2,138.9 L554.2,138.8 L555.2,138.7 L556.2,138.7 L557.2,138.6 L558.2,138.5 L559.2,138.5 L560.2,138.4 L561.2,138.4 L562.2,138.3 L563.2,138.3 L564.2,138.2 L565.2,138.2 L566.2,138.1 L567.2,138.1 L568.2,138.1 L569.2,138.0 L570.2,138.0 L571.2,137.9 L572.2,137.9 L573.2,137.9 L574.2,137.8 L575.2,137.8 L576.2,137.8 L577.2,137.8 L578.2,137.7 L579.2,137.7 L580.2,137.7 L581.2,137.7 L582.2,137.6 L583.2,137.6 L584.2,137.6 L585.2,137.6 L586.2,137.6 L587.2,137.5 L588.2,137.5 L589.2,137.5 L590.2,137.5 L591.2,137.5 L592.2,137.5 L593.2,137.5 L594.2,137.4 L595.2,137.4 L596.2,137.4 L597.2,137.4 L598.2,137.4 L599.2,137.4 L600.2,137.4 L601.2,137.4 L602.2,137.4 L603.2,137.4 L604.2,137.4 L605.2,137.4 L606.2,137.4 L607.2,137.3 L608.2,137.3 L609.2,137.3 L610.2,137.3 L611.2,137.3 L612.2,137.3 L613.2,137.3 L614.2,137.3 L615.2,137.3 L616.2,137.3 L617.2,137.3 L618.2,137.3 L619.2,137.3 L620.2,137.3 L621.2,137.3 L622.2,137.3 L623.2,137.3 L624.2,137.3 L625.2,137.3 L626.2,137.3 L627.2,137.3 L628.2,137.3 L629.2,137.3 L630.2,137.3 L631.2,137.3 L632.2,137.3 L633.2,137.3 L634.2,137.3 L635.2,137.4 L636.2,137.4 L637.2,137.4 L638.2,137.4 L639.2,137.4 L640.2,137.4 L641.2,137.4 L642.2,137.4 L643.2,137.4 L644.2,137.4 L645.2,137.4 L646.2,137.4 L647.2,137.4 L648.2,137.4 L649.2,137.4 L650.2,137.4 L651.2,137.4 L652.2,137.4 L653.2,137.4 L654.2,137.4 L655.2,137.4 L656.2,137.4 L657.2,137.4 L658.2,137.4 L659.2,137.4 L660.2,137.4 L661.2,137.4 L662.2,137.4 L663.2,137.4 L664.2,137.4 L665.2,137.4 L666.2,137.4 L667.2,137.4 L668.2,137.4 L669.2,137.4 L670.2,137.4 L671.2,137.4 L672.2,137.4 L673.2,137.4 L674.2,137.4 L675.2,137.4 L675.3,137.4" class="tk"/></g></g>
<g><path d="M378.80,272.10H675.90" class="fh"/><path d="M378.80,479.00H675.90" class="fb"/><path d="M379.30,272.10V273.50M379.30,291.80V479.00M675.40,272.10V479.00" class="fv"/><path d="M416.31,479.00v-3.4M416.31,272.10v3.4M453.32,479.00v-6.0M453.32,272.10v6.0M490.34,479.00v-3.4M490.34,272.10v3.4M527.35,479.00v-6.0M527.35,272.10v6.0M564.36,479.00v-3.4M564.36,272.10v3.4M601.38,479.00v-6.0M601.38,272.10v6.0M638.39,479.00v-3.4M638.39,272.10v3.4M379.30,435.60h3.4M675.40,435.60h-3.4M379.30,392.20h6.0M675.40,392.20h-6.0M379.30,348.80h3.4M675.40,348.80h-3.4M379.30,305.40h6.0M675.40,305.40h-6.0" class="t"/><text x="379.50" y="488.60" class="n" text-anchor="middle">0</text><text x="453.52" y="488.60" class="n" text-anchor="middle">5</text><text x="527.55" y="488.60" class="n" text-anchor="middle">10</text><text x="601.58" y="488.60" class="n" text-anchor="middle">15</text><text x="675.60" y="488.60" class="n" text-anchor="middle">20</text><text x="376.70" y="482.80" class="n" text-anchor="end">0</text><text x="376.70" y="396.00" class="n" text-anchor="end">50</text><text x="376.70" y="309.20" class="n" text-anchor="end">100</text><text x="527.65" y="500.70" class="a" text-anchor="middle">t (days)</text><text transform="translate(355.90,375.55) rotate(-90)" class="a" text-anchor="middle">R(t)</text><text x="395.80" y="303.10" class="ti">HET</text><text x="361.60" y="504.80" class="pl">(D)</text><g clip-path="url(#cD)"><path d="M379.2,479.2 L380.2,479.0 L381.2,478.8 L382.2,478.6 L383.2,478.4 L384.2,478.1 L385.2,477.8 L386.2,477.5 L387.2,477.2 L388.2,476.8 L389.2,476.4 L390.2,476.0 L391.2,475.5 L392.2,475.0 L393.2,474.5 L394.2,474.0 L395.2,473.4 L396.2,472.7 L397.2,472.1 L398.2,471.4 L399.2,470.6 L400.2,469.9 L401.2,469.1 L402.2,468.2 L403.2,467.3 L404.2,466.4 L405.2,465.4 L406.2,464.4 L407.2,463.4 L408.2,462.3 L409.2,461.2 L410.2,460.1 L411.2,458.9 L412.2,457.7 L413.2,456.5 L414.2,455.3 L415.2,454.0 L416.2,452.7 L417.2,451.4 L418.2,450.0 L419.2,448.7 L420.2,447.3 L421.2,445.9 L422.2,444.5 L423.2,443.1 L424.2,441.7 L425.2,440.2 L426.2,438.8 L427.2,437.3 L428.2,435.9 L429.2,434.4 L430.2,433.0 L431.2,431.5 L432.2,430.1 L433.2,428.7 L434.2,427.2 L435.2,425.8 L436.2,424.4 L437.2,423.0 L438.2,421.6 L439.2,420.2 L440.2,418.8 L441.2,417.5 L442.2,416.2 L443.2,414.8 L444.2,413.5 L445.2,412.2 L446.2,411.0 L447.2,409.7 L448.2,408.5 L449.2,407.3 L450.2,406.1 L451.2,404.9 L452.2,403.8 L453.2,402.7 L454.2,401.6 L455.2,400.5 L456.2,399.4 L457.2,398.4 L458.2,397.4 L459.2,396.4 L460.2,395.4 L461.2,394.5 L462.2,393.5 L463.2,392.6 L464.2,391.8 L465.2,390.9 L466.2,390.0 L467.2,389.2 L468.2,388.4 L469.2,387.6 L470.2,386.9 L471.2,386.1 L472.2,385.4 L473.2,384.7 L474.2,384.0 L475.2,383.4 L476.2,382.7 L477.2,382.1 L478.2,381.5 L479.2,380.9 L480.2,380.3 L481.2,379.7 L482.2,379.2 L483.2,378.6 L484.2,378.1 L485.2,377.6 L486.2,377.1 L487.2,376.7 L488.2,376.2 L489.2,375.8 L490.2,375.3 L491.2,374.9 L492.2,374.5 L493.2,374.1 L494.2,373.8 L495.2,373.4 L496.2,373.0 L497.2,372.7 L498.2,372.4 L499.2,372.0 L500.2,371.7 L501.2,371.4 L502.2,371.1 L503.2,370.9 L504.2,370.6 L505.2,370.3 L506.2,370.1 L507.2,369.8 L508.2,369.6 L509.2,369.4 L510.2,369.2 L511.2,369.0 L512.2,368.8 L513.2,368.6 L514.2,368.4 L515.2,368.2 L516.2,368.0 L517.2,367.8 L518.2,367.7 L519.2,367.5 L520.2,367.4 L521.2,367.2 L522.2,367.1 L523.2,367.0 L524.2,366.8 L525.2,366.7 L526.2,366.6 L527.2,366.5 L528.2,366.4 L529.2,366.3 L530.2,366.2 L531.2,366.1 L532.2,366.0 L533.2,365.9 L534.2,365.8 L535.2,365.7 L536.2,365.6 L537.2,365.5 L538.2,365.5 L539.2,365.4 L540.2,365.3 L541.2,365.2 L542.2,365.2 L543.2,365.1 L544.2,365.1 L545.2,365.0 L546.2,364.9 L547.2,364.9 L548.2,364.8 L549.2,364.8 L550.2,364.7 L551.2,364.7 L552.2,364.6 L553.2,364.6 L554.2,364.5 L555.2,364.5 L556.2,364.5 L557.2,364.4 L558.2,364.4 L559.2,364.4 L560.2,364.3 L561.2,364.3 L562.2,364.2 L563.2,364.2 L564.2,364.2 L565.2,364.2 L566.2,364.1 L567.2,364.1 L568.2,364.1 L569.2,364.0 L570.2,364.0 L571.2,364.0 L572.2,364.0 L573.2,364.0 L574.2,363.9 L575.2,363.9 L576.2,363.9 L577.2,363.9 L578.2,363.9 L579.2,363.8 L580.2,363.8 L581.2,363.8 L582.2,363.8 L583.2,363.8 L584.2,363.8 L585.2,363.8 L586.2,363.7 L587.2,363.7 L588.2,363.7 L589.2,363.7 L590.2,363.7 L591.2,363.7 L592.2,363.7 L593.2,363.7 L594.2,363.7 L595.2,363.6 L596.2,363.6 L597.2,363.6 L598.2,363.6 L599.2,363.6 L600.2,363.6 L601.2,363.6 L602.2,363.6 L603.2,363.6 L604.2,363.6 L605.2,363.6 L606.2,363.6 L607.2,363.6 L608.2,363.6 L609.2,363.6 L610.2,363.6 L611.2,363.6 L612.2,363.6 L613.2,363.6 L614.2,363.6 L615.2,363.6 L616.2,363.6 L617.2,363.6 L618.2,363.6 L619.2,363.6 L620.2,363.6 L621.2,363.6 L622.2,363.6 L623.2,363.6 L624.2,363.6 L625.2,363.6 L626.2,363.6 L627.2,363.6 L628.2,363.6 L629.2,363.6 L630.2,363.6 L631.2,363.6 L632.2,363.6 L633.2,363.6 L634.2,363.6 L635.2,363.6 L636.2,363.6 L637.2,363.6 L638.2,363.6 L639.2,363.6 L640.2,363.6 L641.2,363.6 L642.2,363.6 L643.2,363.6 L644.2,363.6 L645.2,363.6 L646.2,363.6 L647.2,363.6 L648.2,363.6 L649.2,363.6 L650.2,363.6 L651.2,363.6 L652.2,363.6 L653.2,363.6 L654.2,363.6 L655.2,363.6 L656.2,363.6 L657.2,363.6 L658.2,363.6 L659.2,363.6 L660.2,363.6 L661.2,363.6 L662.2,363.6 L663.2,363.6 L664.2,363.6 L665.2,363.6 L666.2,363.6 L667.2,363.6 L668.2,363.6 L669.2,363.6 L670.2,363.6 L671.2,363.6 L672.2,363.6 L673.2,363.6 L674.2,363.6 L675.2,363.6 L675.3,363.6" class="th"/><path d="M379.2,479.3 L380.2,479.3 L381.2,479.2 L382.2,479.2 L383.2,479.2 L384.2,479.1 L385.2,479.1 L386.2,479.0 L387.2,479.0 L388.2,478.9 L389.2,478.9 L390.2,478.8 L391.2,478.7 L392.2,478.7 L393.2,478.6 L394.2,478.5 L395.2,478.4 L396.2,478.3 L397.2,478.2 L398.2,478.1 L399.2,477.9 L400.2,477.8 L401.2,477.6 L402.2,477.5 L403.2,477.3 L404.2,477.1 L405.2,476.9 L406.2,476.7 L407.2,476.5 L408.2,476.3 L409.2,476.0 L410.2,475.8 L411.2,475.5 L412.2,475.2 L413.2,474.9 L414.2,474.6 L415.2,474.3 L416.2,473.9 L417.2,473.5 L418.2,473.2 L419.2,472.8 L420.2,472.3 L421.2,471.9 L422.2,471.4 L423.2,471.0 L424.2,470.5 L425.2,470.0 L426.2,469.4 L427.2,468.9 L428.2,468.3 L429.2,467.7 L430.2,467.1 L431.2,466.5 L432.2,465.8 L433.2,465.1 L434.2,464.4 L435.2,463.7 L436.2,463.0 L437.2,462.2 L438.2,461.5 L439.2,460.7 L440.2,459.9 L441.2,459.1 L442.2,458.2 L443.2,457.4 L444.2,456.5 L445.2,455.6 L446.2,454.7 L447.2,453.8 L448.2,452.9 L449.2,452.0 L450.2,451.1 L451.2,450.1 L452.2,449.2 L453.2,448.2 L454.2,447.2 L455.2,446.3 L456.2,445.3 L457.2,444.3 L458.2,443.3 L459.2,442.3 L460.2,441.4 L461.2,440.4 L462.2,439.4 L463.2,438.4 L464.2,437.4 L465.2,436.5 L466.2,435.5 L467.2,434.5 L468.2,433.6 L469.2,432.6 L470.2,431.7 L471.2,430.8 L472.2,429.9 L473.2,429.0 L474.2,428.1 L475.2,427.2 L476.2,426.3 L477.2,425.5 L478.2,424.6 L479.2,423.8 L480.2,423.0 L481.2,422.2 L482.2,421.4 L483.2,420.6 L484.2,419.8 L485.2,419.1 L486.2,418.3 L487.2,417.6 L488.2,416.9 L489.2,416.2 L490.2,415.6 L491.2,414.9 L492.2,414.3 L493.2,413.7 L494.2,413.1 L495.2,412.5 L496.2,411.9 L497.2,411.3 L498.2,410.8 L499.2,410.3 L500.2,409.7 L501.2,409.2 L502.2,408.7 L503.2,408.3 L504.2,407.8 L505.2,407.4 L506.2,406.9 L507.2,406.5 L508.2,406.1 L509.2,405.7 L510.2,405.3 L511.2,405.0 L512.2,404.6 L513.2,404.2 L514.2,403.9 L515.2,403.6 L516.2,403.3 L517.2,403.0 L518.2,402.7 L519.2,402.4 L520.2,402.1 L521.2,401.9 L522.2,401.6 L523.2,401.4 L524.2,401.1 L525.2,400.9 L526.2,400.7 L527.2,400.4 L528.2,400.2 L529.2,400.0 L530.2,399.8 L531.2,399.7 L532.2,399.5 L533.2,399.3 L534.2,399.1 L535.2,399.0 L536.2,398.8 L537.2,398.7 L538.2,398.5 L539.2,398.4 L540.2,398.3 L541.2,398.1 L542.2,398.0 L543.2,397.9 L544.2,397.8 L545.2,397.7 L546.2,397.6 L547.2,397.4 L548.2,397.3 L549.2,397.3 L550.2,397.2 L551.2,397.1 L552.2,397.0 L553.2,396.9 L554.2,396.8 L555.2,396.8 L556.2,396.7 L557.2,396.6 L558.2,396.5 L559.2,396.5 L560.2,396.4 L561.2,396.4 L562.2,396.3 L563.2,396.2 L564.2,396.2 L565.2,396.1 L566.2,396.1 L567.2,396.1 L568.2,396.0 L569.2,396.0 L570.2,395.9 L571.2,395.9 L572.2,395.9 L573.2,395.8 L574.2,395.8 L575.2,395.8 L576.2,395.7 L577.2,395.7 L578.2,395.7 L579.2,395.6 L580.2,395.6 L581.2,395.6 L582.2,395.6 L583.2,395.6 L584.2,395.5 L585.2,395.5 L586.2,395.5 L587.2,395.5 L588.2,395.5 L589.2,395.5 L590.2,395.4 L591.2,395.4 L592.2,395.4 L593.2,395.4 L594.2,395.4 L595.2,395.4 L596.2,395.4 L597.2,395.4 L598.2,395.4 L599.2,395.4 L600.2,395.3 L601.2,395.3 L602.2,395.3 L603.2,395.3 L604.2,395.3 L605.2,395.3 L606.2,395.3 L607.2,395.3 L608.2,395.3 L609.2,395.3 L610.2,395.3 L611.2,395.3 L612.2,395.3 L613.2,395.3 L614.2,395.3 L615.2,395.3 L616.2,395.3 L617.2,395.3 L618.2,395.3 L619.2,395.3 L620.2,395.3 L621.2,395.3 L622.2,395.3 L623.2,395.3 L624.2,395.3 L625.2,395.3 L626.2,395.3 L627.2,395.3 L628.2,395.3 L629.2,395.3 L630.2,395.3 L631.2,395.3 L632.2,395.3 L633.2,395.3 L634.2,395.3 L635.2,395.3 L636.2,395.3 L637.2,395.3 L638.2,395.3 L639.2,395.3 L640.2,395.3 L641.2,395.3 L642.2,395.3 L643.2,395.3 L644.2,395.3 L645.2,395.3 L646.2,395.3 L647.2,395.3 L648.2,395.3 L649.2,395.3 L650.2,395.3 L651.2,395.3 L652.2,395.3 L653.2,395.3 L654.2,395.3 L655.2,395.3 L656.2,395.3 L657.2,395.3 L658.2,395.3 L659.2,395.3 L660.2,395.3 L661.2,395.3 L662.2,395.3 L663.2,395.3 L664.2,395.3 L665.2,395.3 L666.2,395.3 L667.2,395.3 L668.2,395.3 L669.2,395.3 L670.2,395.3 L671.2,395.3 L672.2,395.3 L673.2,395.3 L674.2,395.3 L675.2,395.3 L675.3,395.3" class="th"/><path d="M379.2,479.1 L380.2,479.0 L381.2,478.8 L382.2,478.7 L383.2,478.5 L384.2,478.3 L385.2,478.1 L386.2,477.8 L387.2,477.6 L388.2,477.4 L389.2,477.1 L390.2,476.8 L391.2,476.5 L392.2,476.2 L393.2,475.9 L394.2,475.5 L395.2,475.2 L396.2,474.8 L397.2,474.4 L398.2,474.0 L399.2,473.6 L400.2,473.1 L401.2,472.6 L402.2,472.1 L403.2,471.6 L404.2,471.1 L405.2,470.5 L406.2,469.9 L407.2,469.3 L408.2,468.7 L409.2,468.1 L410.2,467.4 L411.2,466.7 L412.2,466.0 L413.2,465.3 L414.2,464.5 L415.2,463.7 L416.2,462.9 L417.2,462.1 L418.2,461.3 L419.2,460.4 L420.2,459.5 L421.2,458.6 L422.2,457.7 L423.2,456.8 L424.2,455.8 L425.2,454.8 L426.2,453.8 L427.2,452.8 L428.2,451.8 L429.2,450.8 L430.2,449.7 L431.2,448.7 L432.2,447.6 L433.2,446.6 L434.2,445.5 L435.2,444.4 L436.2,443.3 L437.2,442.2 L438.2,441.1 L439.2,440.0 L440.2,438.8 L441.2,437.7 L442.2,436.6 L443.2,435.5 L444.2,434.4 L445.2,433.3 L446.2,432.2 L447.2,431.1 L448.2,430.0 L449.2,428.9 L450.2,427.8 L451.2,426.7 L452.2,425.6 L453.2,424.6 L454.2,423.5 L455.2,422.5 L456.2,421.5 L457.2,420.4 L458.2,419.4 L459.2,418.4 L460.2,417.5 L461.2,416.5 L462.2,415.5 L463.2,414.6 L464.2,413.7 L465.2,412.8 L466.2,411.9 L467.2,411.0 L468.2,410.1 L469.2,409.3 L470.2,408.5 L471.2,407.7 L472.2,406.9 L473.2,406.1 L474.2,405.3 L475.2,404.6 L476.2,403.8 L477.2,403.1 L478.2,402.4 L479.2,401.7 L480.2,401.1 L481.2,400.4 L482.2,399.8 L483.2,399.1 L484.2,398.5 L485.2,397.9 L486.2,397.4 L487.2,396.8 L488.2,396.3 L489.2,395.7 L490.2,395.2 L491.2,394.7 L492.2,394.2 L493.2,393.7 L494.2,393.3 L495.2,392.8 L496.2,392.4 L497.2,391.9 L498.2,391.5 L499.2,391.1 L500.2,390.7 L501.2,390.3 L502.2,390.0 L503.2,389.6 L504.2,389.3 L505.2,388.9 L506.2,388.6 L507.2,388.3 L508.2,388.0 L509.2,387.7 L510.2,387.4 L511.2,387.1 L512.2,386.8 L513.2,386.6 L514.2,386.3 L515.2,386.1 L516.2,385.8 L517.2,385.6 L518.2,385.4 L519.2,385.2 L520.2,384.9 L521.2,384.7 L522.2,384.6 L523.2,384.4 L524.2,384.2 L525.2,384.0 L526.2,383.8 L527.2,383.7 L528.2,383.5 L529.2,383.4 L530.2,383.2 L531.2,383.1 L532.2,382.9 L533.2,382.8 L534.2,382.7 L535.2,382.5 L536.2,382.4 L537.2,382.3 L538.2,382.2 L539.2,382.1 L540.2,382.0 L541.2,381.9 L542.2,381.8 L543.2,381.7 L544.2,381.6 L545.2,381.5 L546.2,381.4 L547.2,381.3 L548.2,381.3 L549.2,381.2 L550.2,381.1 L551.2,381.0 L552.2,381.0 L553.2,380.9 L554.2,380.8 L555.2,380.8 L556.2,380.7 L557.2,380.6 L558.2,380.6 L559.2,380.5 L560.2,380.5 L561.2,380.4 L562.2,380.4 L563.2,380.3 L564.2,380.3 L565.2,380.2 L566.2,380.2 L567.2,380.1 L568.2,380.1 L569.2,380.1 L570.2,380.0 L571.2,380.0 L572.2,379.9 L573.2,379.9 L574.2,379.9 L575.2,379.8 L576.2,379.8 L577.2,379.8 L578.2,379.7 L579.2,379.7 L580.2,379.7 L581.2,379.7 L582.2,379.6 L583.2,379.6 L584.2,379.6 L585.2,379.6 L586.2,379.6 L587.2,379.5 L588.2,379.5 L589.2,379.5 L590.2,379.5 L591.2,379.5 L592.2,379.4 L593.2,379.4 L594.2,379.4 L595.2,379.4 L596.2,379.4 L597.2,379.4 L598.2,379.4 L599.2,379.4 L600.2,379.3 L601.2,379.3 L602.2,379.3 L603.2,379.3 L604.2,379.3 L605.2,379.3 L606.2,379.3 L607.2,379.3 L608.2,379.3 L609.2,379.3 L610.2,379.3 L611.2,379.3 L612.2,379.3 L613.2,379.3 L614.2,379.3 L615.2,379.3 L616.2,379.3 L617.2,379.3 L618.2,379.2 L619.2,379.2 L620.2,379.2 L621.2,379.2 L622.2,379.2 L623.2,379.2 L624.2,379.2 L625.2,379.2 L626.2,379.2 L627.2,379.2 L628.2,379.2 L629.2,379.2 L630.2,379.2 L631.2,379.2 L632.2,379.2 L633.2,379.2 L634.2,379.2 L635.2,379.2 L636.2,379.2 L637.2,379.2 L638.2,379.2 L639.2,379.2 L640.2,379.2 L641.2,379.3 L642.2,379.3 L643.2,379.3 L644.2,379.3 L645.2,379.3 L646.2,379.3 L647.2,379.3 L648.2,379.3 L649.2,379.3 L650.2,379.3 L651.2,379.3 L652.2,379.3 L653.2,379.3 L654.2,379.3 L655.2,379.3 L656.2,379.3 L657.2,379.3 L658.2,379.3 L659.2,379.3 L660.2,379.3 L661.2,379.3 L662.2,379.3 L663.2,379.3 L664.2,379.3 L665.2,379.3 L666.2,379.3 L667.2,379.3 L668.2,379.3 L669.2,379.3 L670.2,379.3 L671.2,379.3 L672.2,379.3 L673.2,379.3 L674.2,379.3 L675.2,379.3 L675.3,379.3" class="tk"/></g></g>
<g><path d="M378.80,533.30H675.90" class="fh"/><path d="M378.80,740.40H675.90" class="fb"/><path d="M379.30,533.30V740.40M675.40,533.30V740.40" class="fv"/><path d="M416.31,740.40v-3.4M416.31,533.30v3.4M453.32,740.40v-6.0M453.32,533.30v6.0M490.34,740.40v-3.4M490.34,533.30v3.4M527.35,740.40v-6.0M527.35,533.30v6.0M564.36,740.40v-3.4M564.36,533.30v3.4M601.38,740.40v-6.0M601.38,533.30v6.0M638.39,740.40v-3.4M638.39,533.30v3.4M379.30,696.92h3.4M675.40,696.92h-3.4M379.30,653.45h6.0M675.40,653.45h-6.0M379.30,609.97h3.4M675.40,609.97h-3.4M379.30,566.50h6.0M675.40,566.50h-6.0" class="t"/><text x="379.50" y="750.00" class="n" text-anchor="middle">0</text><text x="453.52" y="750.00" class="n" text-anchor="middle">5</text><text x="527.55" y="750.00" class="n" text-anchor="middle">10</text><text x="601.58" y="750.00" class="n" text-anchor="middle">15</text><text x="675.60" y="750.00" class="n" text-anchor="middle">20</text><text x="376.70" y="744.20" class="n" text-anchor="end">0</text><text x="376.70" y="657.25" class="n" text-anchor="end">50</text><text x="376.70" y="570.30" class="n" text-anchor="end">100</text><text x="527.65" y="762.10" class="a" text-anchor="middle">t (days)</text><text transform="translate(355.90,636.85) rotate(-90)" class="a" text-anchor="middle">R(t)</text><text x="395.80" y="564.40" class="ti">HOM</text><text x="361.00" y="766.70" class="pl">(F)</text><g clip-path="url(#cF)"><path d="M379.2,740.3 L380.2,740.2 L381.2,740.1 L382.2,740.0 L383.2,739.8 L384.2,739.6 L385.2,739.3 L386.2,739.0 L387.2,738.6 L388.2,738.2 L389.2,737.7 L390.2,737.1 L391.2,736.4 L392.2,735.6 L393.2,734.7 L394.2,733.7 L395.2,732.6 L396.2,731.4 L397.2,730.0 L398.2,728.4 L399.2,726.8 L400.2,725.0 L401.2,723.0 L402.2,720.9 L403.2,718.7 L404.2,716.3 L405.2,713.7 L406.2,711.1 L407.2,708.3 L408.2,705.3 L409.2,702.3 L410.2,699.1 L411.2,695.9 L412.2,692.5 L413.2,689.1 L414.2,685.6 L415.2,682.0 L416.2,678.4 L417.2,674.8 L418.2,671.1 L419.2,667.5 L420.2,663.8 L421.2,660.2 L422.2,656.6 L423.2,653.0 L424.2,649.5 L425.2,646.1 L426.2,642.7 L427.2,639.4 L428.2,636.2 L429.2,633.0 L430.2,629.9 L431.2,627.0 L432.2,624.1 L433.2,621.2 L434.2,618.5 L435.2,615.9 L436.2,613.3 L437.2,610.8 L438.2,608.4 L439.2,606.0 L440.2,603.7 L441.2,601.5 L442.2,599.4 L443.2,597.3 L444.2,595.3 L445.2,593.3 L446.2,591.4 L447.2,589.6 L448.2,587.8 L449.2,586.1 L450.2,584.5 L451.2,582.9 L452.2,581.4 L453.2,579.9 L454.2,578.6 L455.2,577.3 L456.2,576.0 L457.2,574.8 L458.2,573.7 L459.2,572.7 L460.2,571.7 L461.2,570.8 L462.2,570.0 L463.2,569.2 L464.2,568.4 L465.2,567.7 L466.2,567.1 L467.2,566.5 L468.2,565.9 L469.2,565.4 L470.2,564.9 L471.2,564.4 L472.2,564.0 L473.2,563.6 L474.2,563.3 L475.2,562.9 L476.2,562.6 L477.2,562.3 L478.2,562.1 L479.2,561.8 L480.2,561.6 L481.2,561.4 L482.2,561.2 L483.2,561.0 L484.2,560.9 L485.2,560.7 L486.2,560.6 L487.2,560.5 L488.2,560.3 L489.2,560.2 L490.2,560.1 L491.2,560.1 L492.2,560.0 L493.2,559.9 L494.2,559.8 L495.2,559.8 L496.2,559.7 L497.2,559.7 L498.2,559.6 L499.2,559.6 L500.2,559.5 L501.2,559.5 L502.2,559.5 L503.2,559.4 L504.2,559.4 L505.2,559.4 L506.2,559.4 L507.2,559.4 L508.2,559.3 L509.2,559.3 L510.2,559.3 L511.2,559.3 L512.2,559.3 L513.2,559.3 L514.2,559.3 L515.2,559.3 L516.2,559.3 L517.2,559.3 L518.2,559.2 L519.2,559.2 L520.2,559.2 L521.2,559.2 L522.2,559.2 L523.2,559.2 L524.2,559.2 L525.2,559.2 L526.2,559.3 L527.2,559.3 L528.2,559.3 L529.2,559.3 L530.2,559.3 L531.2,559.3 L532.2,559.3 L533.2,559.3 L534.2,559.3 L535.2,559.3 L536.2,559.3 L537.2,559.3 L538.2,559.3 L539.2,559.3 L540.2,559.3 L541.2,559.3 L542.2,559.3 L543.2,559.3 L544.2,559.3 L545.2,559.3 L546.2,559.3 L547.2,559.3 L548.2,559.3 L549.2,559.3 L550.2,559.3 L551.2,559.3 L552.2,559.3 L553.2,559.3 L554.2,559.3 L555.2,559.3 L556.2,559.3 L557.2,559.3 L558.2,559.3 L559.2,559.3 L560.2,559.3 L561.2,559.3 L562.2,559.3 L563.2,559.3 L564.2,559.3 L565.2,559.3 L566.2,559.3 L567.2,559.3 L568.2,559.3 L569.2,559.3 L570.2,559.3 L571.2,559.3 L572.2,559.3 L573.2,559.3 L574.2,559.3 L575.2,559.3 L576.2,559.3 L577.2,559.3 L578.2,559.3 L579.2,559.3 L580.2,559.3 L581.2,559.3 L582.2,559.3 L583.2,559.3 L584.2,559.3 L585.2,559.3 L586.2,559.3 L587.2,559.3 L588.2,559.3 L589.2,559.3 L590.2,559.3 L591.2,559.3 L592.2,559.3 L593.2,559.3 L594.2,559.3 L595.2,559.3 L596.2,559.3 L597.2,559.3 L598.2,559.3 L599.2,559.3 L600.2,559.3 L601.2,559.3 L602.2,559.3 L603.2,559.3 L604.2,559.3 L605.2,559.3 L606.2,559.3 L607.2,559.3 L608.2,559.3 L609.2,559.3 L610.2,559.3 L611.2,559.3 L612.2,559.3 L613.2,559.3 L614.2,559.3 L615.2,559.3 L616.2,559.3 L617.2,559.3 L618.2,559.3 L619.2,559.4 L620.2,559.4 L621.2,559.4 L622.2,559.4 L623.2,559.4 L624.2,559.4 L625.2,559.4 L626.2,559.4 L627.2,559.4 L628.2,559.4 L629.2,559.4 L630.2,559.4 L631.2,559.4 L632.2,559.4 L633.2,559.4 L634.2,559.4 L635.2,559.4 L636.2,559.4 L637.2,559.4 L638.2,559.4 L639.2,559.4 L640.2,559.4 L641.2,559.4 L642.2,559.4 L643.2,559.4 L644.2,559.4 L645.2,559.5 L646.2,559.5 L647.2,559.5 L648.2,559.5 L649.2,559.5 L650.2,559.5 L651.2,559.5 L652.2,559.5 L653.2,559.5 L654.2,559.5 L655.2,559.5 L655.7,559.5 L655.7,559.5" class="th"/><path d="M379.2,740.1 L380.2,740.1 L381.2,740.1 L382.2,740.1 L383.2,740.1 L384.2,740.1 L385.2,740.0 L386.2,740.0 L387.2,740.0 L388.2,740.0 L389.2,739.9 L390.2,739.9 L391.2,739.8 L392.2,739.7 L393.2,739.6 L394.2,739.4 L395.2,739.2 L396.2,739.0 L397.2,738.8 L398.2,738.5 L399.2,738.2 L400.2,737.8 L401.2,737.4 L402.2,736.9 L403.2,736.4 L404.2,735.8 L405.2,735.1 L406.2,734.4 L407.2,733.6 L408.2,732.7 L409.2,731.7 L410.2,730.7 L411.2,729.6 L412.2,728.4 L413.2,727.1 L414.2,725.7 L415.2,724.2 L416.2,722.7 L417.2,721.0 L418.2,719.3 L419.2,717.5 L420.2,715.6 L421.2,713.6 L422.2,711.5 L423.2,709.4 L424.2,707.1 L425.2,704.9 L426.2,702.5 L427.2,700.1 L428.2,697.6 L429.2,695.1 L430.2,692.5 L431.2,689.9 L432.2,687.3 L433.2,684.6 L434.2,682.0 L435.2,679.3 L436.2,676.6 L437.2,673.9 L438.2,671.2 L439.2,668.5 L440.2,665.9 L441.2,663.3 L442.2,660.7 L443.2,658.1 L444.2,655.5 L445.2,653.0 L446.2,650.5 L447.2,648.1 L448.2,645.7 L449.2,643.3 L450.2,641.0 L451.2,638.7 L452.2,636.5 L453.2,634.3 L454.2,632.1 L455.2,630.1 L456.2,628.0 L457.2,626.0 L458.2,624.1 L459.2,622.3 L460.2,620.4 L461.2,618.7 L462.2,617.0 L463.2,615.4 L464.2,613.8 L465.2,612.2 L466.2,610.7 L467.2,609.3 L468.2,607.9 L469.2,606.6 L470.2,605.3 L471.2,604.0 L472.2,602.8 L473.2,601.6 L474.2,600.4 L475.2,599.3 L476.2,598.3 L477.2,597.2 L478.2,596.2 L479.2,595.3 L480.2,594.3 L481.2,593.4 L482.2,592.6 L483.2,591.7 L484.2,590.9 L485.2,590.2 L486.2,589.4 L487.2,588.7 L488.2,588.0 L489.2,587.4 L490.2,586.8 L491.2,586.1 L492.2,585.6 L493.2,585.0 L494.2,584.5 L495.2,584.0 L496.2,583.5 L497.2,583.0 L498.2,582.6 L499.2,582.1 L500.2,581.7 L501.2,581.3 L502.2,581.0 L503.2,580.6 L504.2,580.3 L505.2,579.9 L506.2,579.6 L507.2,579.4 L508.2,579.1 L509.2,578.8 L510.2,578.6 L511.2,578.3 L512.2,578.1 L513.2,577.9 L514.2,577.7 L515.2,577.5 L516.2,577.4 L517.2,577.2 L518.2,577.0 L519.2,576.9 L520.2,576.8 L521.2,576.6 L522.2,576.5 L523.2,576.4 L524.2,576.3 L525.2,576.2 L526.2,576.1 L527.2,576.0 L528.2,575.9 L529.2,575.9 L530.2,575.8 L531.2,575.7 L532.2,575.7 L533.2,575.6 L534.2,575.6 L535.2,575.5 L536.2,575.5 L537.2,575.4 L538.2,575.4 L539.2,575.3 L540.2,575.3 L541.2,575.3 L542.2,575.2 L543.2,575.2 L544.2,575.2 L545.2,575.2 L546.2,575.1 L547.2,575.1 L548.2,575.1 L549.2,575.1 L550.2,575.0 L551.2,575.0 L552.2,575.0 L553.2,575.0 L554.2,575.0 L555.2,575.0 L556.2,574.9 L557.2,574.9 L558.2,574.9 L559.2,574.9 L560.2,574.9 L561.2,574.9 L562.2,574.9 L563.2,574.9 L564.2,574.9 L565.2,574.9 L566.2,574.9 L567.2,574.9 L568.2,574.9 L569.2,574.8 L570.2,574.8 L571.2,574.8 L572.2,574.8 L573.2,574.8 L574.2,574.8 L575.2,574.8 L576.2,574.8 L577.2,574.8 L578.2,574.8 L579.2,574.8 L580.2,574.8 L581.2,574.8 L582.2,574.8 L583.2,574.8 L584.2,574.8 L585.2,574.8 L586.2,574.8 L587.2,574.8 L588.2,574.8 L589.2,574.8 L590.2,574.8 L591.2,574.8 L592.2,574.8 L593.2,574.8 L594.2,574.8 L595.2,574.8 L596.2,574.8 L597.2,574.8 L598.2,574.8 L599.2,574.8 L600.2,574.8 L601.2,574.8 L602.2,574.8 L603.2,574.8 L604.2,574.8 L605.2,574.8 L606.2,574.8 L607.2,574.8 L608.2,574.8 L609.2,574.8 L610.2,574.8 L611.2,574.8 L612.2,574.8 L613.2,574.8 L614.2,574.8 L615.2,574.8 L616.2,574.8 L617.2,574.8 L618.2,574.8 L619.2,574.8 L620.2,574.7 L621.2,574.7 L622.2,574.7 L623.2,574.7 L624.2,574.7 L625.2,574.7 L626.2,574.7 L627.2,574.7 L628.2,574.7 L629.2,574.7 L630.2,574.7 L631.2,574.7 L632.2,574.7 L633.2,574.7 L634.2,574.7 L635.2,574.7 L636.2,574.7 L637.2,574.7 L638.2,574.7 L639.2,574.7 L640.2,574.7 L641.2,574.7 L642.2,574.7 L643.2,574.7 L644.2,574.7 L645.2,574.7 L646.2,574.7 L647.2,574.7 L648.2,574.7 L649.2,574.7 L650.2,574.7 L651.2,574.7 L652.2,574.7 L653.2,574.7 L654.2,574.7 L655.2,574.7 L655.7,574.7 L655.7,574.7" class="th"/><path d="M379.2,740.3 L380.2,740.3 L381.2,740.2 L382.2,740.2 L383.2,740.1 L384.2,740.0 L385.2,739.9 L386.2,739.7 L387.2,739.5 L388.2,739.3 L389.2,739.0 L390.2,738.7 L391.2,738.3 L392.2,737.9 L393.2,737.4 L394.2,736.8 L395.2,736.2 L396.2,735.5 L397.2,734.7 L398.2,733.8 L399.2,732.9 L400.2,731.8 L401.2,730.7 L402.2,729.4 L403.2,728.1 L404.2,726.6 L405.2,725.0 L406.2,723.4 L407.2,721.6 L408.2,719.7 L409.2,717.7 L410.2,715.7 L411.2,713.5 L412.2,711.2 L413.2,708.9 L414.2,706.4 L415.2,703.9 L416.2,701.4 L417.2,698.7 L418.2,696.0 L419.2,693.2 L420.2,690.4 L421.2,687.6 L422.2,684.7 L423.2,681.8 L424.2,678.9 L425.2,676.0 L426.2,673.0 L427.2,670.1 L428.2,667.2 L429.2,664.3 L430.2,661.4 L431.2,658.5 L432.2,655.7 L433.2,652.9 L434.2,650.1 L435.2,647.3 L436.2,644.6 L437.2,641.9 L438.2,639.3 L439.2,636.7 L440.2,634.2 L441.2,631.7 L442.2,629.3 L443.2,626.9 L444.2,624.6 L445.2,622.3 L446.2,620.1 L447.2,618.0 L448.2,615.9 L449.2,613.9 L450.2,611.9 L451.2,610.0 L452.2,608.2 L453.2,606.4 L454.2,604.7 L455.2,603.1 L456.2,601.5 L457.2,599.9 L458.2,598.4 L459.2,597.0 L460.2,595.6 L461.2,594.3 L462.2,593.0 L463.2,591.8 L464.2,590.6 L465.2,589.5 L466.2,588.4 L467.2,587.4 L468.2,586.4 L469.2,585.5 L470.2,584.6 L471.2,583.7 L472.2,582.9 L473.2,582.1 L474.2,581.3 L475.2,580.6 L476.2,579.9 L477.2,579.3 L478.2,578.7 L479.2,578.1 L480.2,577.5 L481.2,577.0 L482.2,576.4 L483.2,575.9 L484.2,575.5 L485.2,575.0 L486.2,574.6 L487.2,574.2 L488.2,573.8 L489.2,573.4 L490.2,573.1 L491.2,572.8 L492.2,572.4 L493.2,572.1 L494.2,571.9 L495.2,571.6 L496.2,571.3 L497.2,571.1 L498.2,570.9 L499.2,570.6 L500.2,570.4 L501.2,570.2 L502.2,570.0 L503.2,569.9 L504.2,569.7 L505.2,569.5 L506.2,569.4 L507.2,569.2 L508.2,569.1 L509.2,569.0 L510.2,568.8 L511.2,568.7 L512.2,568.6 L513.2,568.5 L514.2,568.4 L515.2,568.3 L516.2,568.2 L517.2,568.2 L518.2,568.1 L519.2,568.0 L520.2,567.9 L521.2,567.9 L522.2,567.8 L523.2,567.7 L524.2,567.7 L525.2,567.6 L526.2,567.6 L527.2,567.5 L528.2,567.5 L529.2,567.4 L530.2,567.4 L531.2,567.4 L532.2,567.3 L533.2,567.3 L534.2,567.3 L535.2,567.2 L536.2,567.2 L537.2,567.2 L538.2,567.1 L539.2,567.1 L540.2,567.1 L541.2,567.1 L542.2,567.1 L543.2,567.0 L544.2,567.0 L545.2,567.0 L546.2,567.0 L547.2,567.0 L548.2,566.9 L549.2,566.9 L550.2,566.9 L551.2,566.9 L552.2,566.9 L553.2,566.9 L554.2,566.9 L555.2,566.9 L556.2,566.9 L557.2,566.9 L558.2,566.8 L559.2,566.8 L560.2,566.8 L561.2,566.8 L562.2,566.8 L563.2,566.8 L564.2,566.8 L565.2,566.8 L566.2,566.8 L567.2,566.8 L568.2,566.8 L569.2,566.8 L570.2,566.8 L571.2,566.8 L572.2,566.8 L573.2,566.8 L574.2,566.8 L575.2,566.8 L576.2,566.8 L577.2,566.8 L578.2,566.8 L579.2,566.8 L580.2,566.8 L581.2,566.8 L582.2,566.8 L583.2,566.8 L584.2,566.8 L585.2,566.8 L586.2,566.8 L587.2,566.8 L588.2,566.8 L589.2,566.8 L590.2,566.8 L591.2,566.8 L592.2,566.8 L593.2,566.8 L594.2,566.8 L595.2,566.8 L596.2,566.8 L597.2,566.8 L598.2,566.8 L599.2,566.8 L600.2,566.8 L601.2,566.8 L602.2,566.8 L603.2,566.8 L604.2,566.8 L605.2,566.8 L606.2,566.8 L607.2,566.8 L608.2,566.8 L609.2,566.8 L610.2,566.8 L611.2,566.8 L612.2,566.8 L613.2,566.8 L614.2,566.8 L615.2,566.8 L616.2,566.8 L617.2,566.8 L618.2,566.8 L619.2,566.8 L620.2,566.8 L621.2,566.8 L622.2,566.8 L623.2,566.8 L624.2,566.8 L625.2,566.8 L626.2,566.8 L627.2,566.8 L628.2,566.8 L629.2,566.8 L630.2,566.8 L631.2,566.8 L632.2,566.8 L633.2,566.8 L634.2,566.8 L635.2,566.8 L636.2,566.8 L637.2,566.8 L638.2,566.8 L639.2,566.8 L640.2,566.8 L641.2,566.8 L642.2,566.8 L643.2,566.8 L644.2,566.8 L645.2,566.8 L646.2,566.8 L647.2,566.8 L648.2,566.8 L649.2,566.8 L650.2,566.8 L651.2,566.8 L652.2,566.8 L653.2,566.8 L654.2,566.8 L655.2,566.8 L655.7,566.8 L655.7,566.8" class="tk"/></g></g>
<g><path d="M378.70,794.60H675.80" class="fh"/><path d="M378.70,1001.80H675.80" class="fb"/><path d="M379.20,794.60V796.30M379.20,819.30V1001.80M675.30,794.60V1001.80" class="fv"/><path d="M416.21,1001.80v-3.4M416.21,794.60v3.4M453.22,1001.80v-6.0M453.22,794.60v6.0M490.24,1001.80v-3.4M490.24,794.60v3.4M527.25,1001.80v-6.0M527.25,794.60v6.0M564.26,1001.80v-3.4M564.26,794.60v3.4M601.27,1001.80v-6.0M601.27,794.60v6.0M638.29,1001.80v-3.4M638.29,794.60v3.4M379.20,958.22h3.4M675.30,958.22h-3.4M379.20,914.65h6.0M675.30,914.65h-6.0M379.20,871.07h3.4M675.30,871.07h-3.4M379.20,827.50h6.0M675.30,827.50h-6.0" class="t"/><text x="379.40" y="1011.40" class="n" text-anchor="middle">0</text><text x="453.42" y="1011.40" class="n" text-anchor="middle">5</text><text x="527.45" y="1011.40" class="n" text-anchor="middle">10</text><text x="601.48" y="1011.40" class="n" text-anchor="middle">15</text><text x="675.50" y="1011.40" class="n" text-anchor="middle">20</text><text x="376.60" y="1005.60" class="n" text-anchor="end">0</text><text x="376.60" y="918.45" class="n" text-anchor="end">50</text><text x="376.60" y="831.30" class="n" text-anchor="end">100</text><text x="527.55" y="1023.50" class="a" text-anchor="middle">t (days)</text><text transform="translate(355.90,898.20) rotate(-90)" class="a" text-anchor="middle">R(t)</text><text x="395.80" y="825.70" class="ti">CM</text><text x="361.60" y="1028.50" class="pl">(H)</text><g clip-path="url(#cH)"><path d="M379.2,1001.9 L380.2,1001.7 L381.2,1001.5 L382.2,1001.3 L383.2,1001.1 L384.2,1000.8 L385.2,1000.5 L386.2,1000.2 L387.2,999.9 L388.2,999.5 L389.2,999.0 L390.2,998.6 L391.2,998.1 L392.2,997.5 L393.2,996.9 L394.2,996.2 L395.2,995.4 L396.2,994.6 L397.2,993.8 L398.2,992.9 L399.2,991.9 L400.2,990.8 L401.2,989.7 L402.2,988.4 L403.2,987.2 L404.2,985.8 L405.2,984.3 L406.2,982.8 L407.2,981.2 L408.2,979.4 L409.2,977.6 L410.2,975.7 L411.2,973.7 L412.2,971.6 L413.2,969.4 L414.2,967.0 L415.2,964.6 L416.2,962.1 L417.2,959.5 L418.2,956.8 L419.2,954.0 L420.2,951.1 L421.2,948.1 L422.2,945.1 L423.2,941.9 L424.2,938.8 L425.2,935.5 L426.2,932.3 L427.2,929.0 L428.2,925.6 L429.2,922.2 L430.2,918.9 L431.2,915.5 L432.2,912.1 L433.2,908.7 L434.2,905.3 L435.2,902.0 L436.2,898.7 L437.2,895.4 L438.2,892.1 L439.2,888.9 L440.2,885.7 L441.2,882.6 L442.2,879.5 L443.2,876.5 L444.2,873.5 L445.2,870.6 L446.2,867.8 L447.2,865.0 L448.2,862.3 L449.2,859.6 L450.2,857.0 L451.2,854.5 L452.2,852.0 L453.2,849.6 L454.2,847.3 L455.2,845.0 L456.2,842.8 L457.2,840.7 L458.2,838.6 L459.2,836.6 L460.2,834.7 L461.2,832.8 L462.2,831.0 L463.2,829.3 L464.2,827.7 L465.2,826.1 L466.2,824.6 L467.2,823.2 L468.2,821.8 L469.2,820.5 L470.2,819.3 L471.2,818.1 L472.2,817.0 L473.2,815.9 L474.2,814.9 L475.2,814.0 L476.2,813.1 L477.2,812.2 L478.2,811.4 L479.2,810.7 L480.2,809.9 L481.2,809.3 L482.2,808.6 L483.2,808.0 L484.2,807.4 L485.2,806.9 L486.2,806.4 L487.2,805.9 L488.2,805.4 L489.2,805.0 L490.2,804.6 L491.2,804.2 L492.2,803.9 L493.2,803.5 L494.2,803.2 L495.2,802.9 L496.2,802.6 L497.2,802.4 L498.2,802.1 L499.2,801.9 L500.2,801.7 L501.2,801.5 L502.2,801.3 L503.2,801.1 L504.2,801.0 L505.2,800.8 L506.2,800.7 L507.2,800.6 L508.2,800.5 L509.2,800.4 L510.2,800.3 L511.2,800.3 L512.2,800.2 L513.2,800.1 L514.2,800.1 L515.2,800.1 L516.2,800.0 L517.2,800.0 L518.2,800.0 L519.2,800.0 L520.2,800.0 L521.2,800.0 L522.2,800.0 L523.2,800.0 L524.2,800.0 L525.2,800.0 L526.2,800.0 L527.2,800.0 L528.2,800.1 L529.2,800.1 L530.2,800.1 L531.2,800.1 L532.2,800.1 L533.2,800.2 L534.2,800.2 L535.2,800.2 L536.2,800.2 L537.2,800.2 L538.2,800.2 L539.2,800.2 L540.2,800.2 L541.2,800.2 L542.2,800.2 L543.2,800.2 L544.2,800.2 L545.2,800.2 L546.2,800.2 L547.2,800.2 L548.2,800.2 L549.2,800.2 L550.2,800.2 L551.2,800.1 L552.2,800.1 L553.2,800.1 L554.2,800.1 L555.2,800.1 L556.2,800.1 L557.2,800.0 L558.2,800.0 L559.2,800.0 L560.2,800.0 L561.2,800.0 L562.2,800.0 L563.2,799.9 L564.2,799.9 L565.2,799.9 L566.2,799.9 L567.2,799.9 L568.2,799.9 L569.2,799.9 L570.2,799.8 L571.2,799.8 L572.2,799.8 L573.2,799.8 L574.2,799.8 L575.2,799.8 L576.2,799.8 L577.2,799.8 L578.2,799.8 L579.2,799.7 L580.2,799.7 L581.2,799.7 L582.2,799.7 L583.2,799.7 L584.2,799.7 L585.2,799.7 L586.2,799.7 L587.2,799.7 L588.2,799.7 L589.2,799.7 L590.2,799.7 L591.2,799.7 L592.2,799.7 L593.2,799.7 L594.2,799.7 L595.2,799.7 L596.2,799.7 L597.2,799.6 L598.2,799.6 L599.2,799.6 L600.2,799.6 L601.2,799.6 L602.2,799.6 L603.2,799.6 L604.2,799.6 L605.2,799.6 L606.2,799.6 L607.2,799.6 L608.2,799.6 L609.2,799.6 L610.2,799.6 L611.2,799.6 L612.2,799.6 L613.2,799.6 L614.2,799.6 L615.2,799.6 L616.2,799.6 L617.2,799.6 L618.2,799.6 L619.2,799.6 L620.2,799.6 L621.2,799.6 L622.2,799.6 L623.2,799.6 L624.2,799.5 L625.2,799.5 L626.2,799.5 L627.2,799.5 L628.2,799.5 L629.2,799.5 L630.2,799.5 L631.2,799.5 L632.2,799.5 L633.2,799.5 L634.2,799.5 L635.2,799.5 L636.2,799.5 L637.2,799.5 L638.2,799.5 L639.2,799.5 L640.2,799.5 L641.2,799.5 L642.2,799.5 L643.2,799.5 L644.2,799.5 L645.2,799.5 L646.2,799.5 L647.2,799.5 L648.2,799.5 L649.2,799.5 L650.2,799.5 L651.2,799.5 L652.2,799.5 L653.2,799.5 L654.2,799.5 L655.2,799.5 L656.2,799.5 L657.2,799.4 L658.2,799.4 L659.2,799.4 L660.2,799.4 L661.2,799.4 L662.2,799.4 L663.2,799.4 L664.2,799.4 L665.2,799.4 L666.2,799.4 L667.2,799.4 L668.2,799.4 L669.2,799.4 L670.2,799.4 L671.2,799.4 L672.2,799.4 L673.2,799.4 L674.2,799.4 L675.2,799.4 L675.3,799.4" class="th"/><path d="M379.2,1001.8 L380.2,1001.7 L381.2,1001.7 L382.2,1001.7 L383.2,1001.6 L384.2,1001.6 L385.2,1001.5 L386.2,1001.5 L387.2,1001.4 L388.2,1001.3 L389.2,1001.2 L390.2,1001.1 L391.2,1001.0 L392.2,1000.9 L393.2,1000.7 L394.2,1000.5 L395.2,1000.3 L396.2,1000.1 L397.2,999.9 L398.2,999.6 L399.2,999.3 L400.2,999.0 L401.2,998.6 L402.2,998.2 L403.2,997.8 L404.2,997.4 L405.2,997.0 L406.2,996.5 L407.2,996.0 L408.2,995.4 L409.2,994.8 L410.2,994.2 L411.2,993.6 L412.2,992.9 L413.2,992.2 L414.2,991.4 L415.2,990.6 L416.2,989.8 L417.2,988.9 L418.2,987.9 L419.2,987.0 L420.2,985.9 L421.2,984.8 L422.2,983.7 L423.2,982.5 L424.2,981.3 L425.2,980.0 L426.2,978.6 L427.2,977.2 L428.2,975.7 L429.2,974.1 L430.2,972.5 L431.2,970.8 L432.2,969.1 L433.2,967.3 L434.2,965.4 L435.2,963.5 L436.2,961.5 L437.2,959.5 L438.2,957.4 L439.2,955.2 L440.2,953.1 L441.2,950.8 L442.2,948.6 L443.2,946.3 L444.2,943.9 L445.2,941.6 L446.2,939.2 L447.2,936.8 L448.2,934.5 L449.2,932.1 L450.2,929.7 L451.2,927.3 L452.2,924.9 L453.2,922.5 L454.2,920.2 L455.2,917.8 L456.2,915.5 L457.2,913.1 L458.2,910.8 L459.2,908.5 L460.2,906.3 L461.2,904.0 L462.2,901.8 L463.2,899.5 L464.2,897.4 L465.2,895.2 L466.2,893.0 L467.2,890.9 L468.2,888.8 L469.2,886.8 L470.2,884.7 L471.2,882.7 L472.2,880.7 L473.2,878.8 L474.2,876.9 L475.2,875.0 L476.2,873.2 L477.2,871.3 L478.2,869.6 L479.2,867.9 L480.2,866.2 L481.2,864.5 L482.2,862.9 L483.2,861.3 L484.2,859.8 L485.2,858.3 L486.2,856.9 L487.2,855.5 L488.2,854.1 L489.2,852.8 L490.2,851.5 L491.2,850.2 L492.2,849.0 L493.2,847.9 L494.2,846.8 L495.2,845.7 L496.2,844.6 L497.2,843.6 L498.2,842.6 L499.2,841.6 L500.2,840.7 L501.2,839.8 L502.2,838.9 L503.2,838.0 L504.2,837.2 L505.2,836.3 L506.2,835.5 L507.2,834.7 L508.2,833.9 L509.2,833.2 L510.2,832.4 L511.2,831.7 L512.2,831.0 L513.2,830.4 L514.2,829.7 L515.2,829.1 L516.2,828.5 L517.2,827.9 L518.2,827.3 L519.2,826.8 L520.2,826.3 L521.2,825.8 L522.2,825.3 L523.2,824.8 L524.2,824.4 L525.2,824.0 L526.2,823.6 L527.2,823.2 L528.2,822.8 L529.2,822.5 L530.2,822.1 L531.2,821.8 L532.2,821.5 L533.2,821.2 L534.2,820.9 L535.2,820.7 L536.2,820.4 L537.2,820.2 L538.2,819.9 L539.2,819.7 L540.2,819.5 L541.2,819.3 L542.2,819.2 L543.2,819.0 L544.2,818.8 L545.2,818.7 L546.2,818.5 L547.2,818.4 L548.2,818.3 L549.2,818.2 L550.2,818.1 L551.2,818.0 L552.2,817.9 L553.2,817.8 L554.2,817.7 L555.2,817.6 L556.2,817.5 L557.2,817.4 L558.2,817.3 L559.2,817.3 L560.2,817.2 L561.2,817.1 L562.2,817.0 L563.2,817.0 L564.2,816.9 L565.2,816.9 L566.2,816.8 L567.2,816.7 L568.2,816.7 L569.2,816.6 L570.2,816.6 L571.2,816.5 L572.2,816.5 L573.2,816.5 L574.2,816.4 L575.2,816.4 L576.2,816.4 L577.2,816.3 L578.2,816.3 L579.2,816.3 L580.2,816.2 L581.2,816.2 L582.2,816.2 L583.2,816.2 L584.2,816.2 L585.2,816.1 L586.2,816.1 L587.2,816.1 L588.2,816.1 L589.2,816.1 L590.2,816.1 L591.2,816.1 L592.2,816.1 L593.2,816.1 L594.2,816.1 L595.2,816.0 L596.2,816.0 L597.2,816.0 L598.2,816.0 L599.2,816.0 L600.2,816.0 L601.2,816.0 L602.2,816.0 L603.2,816.0 L604.2,816.0 L605.2,816.0 L606.2,816.0 L607.2,816.0 L608.2,816.0 L609.2,816.0 L610.2,816.0 L611.2,816.0 L612.2,816.0 L613.2,816.0 L614.2,816.0 L615.2,816.0 L616.2,816.0 L617.2,816.0 L618.2,816.0 L619.2,816.0 L620.2,816.0 L621.2,816.0 L622.2,816.0 L623.2,816.0 L624.2,816.0 L625.2,816.0 L626.2,816.0 L627.2,816.0 L628.2,816.0 L629.2,816.0 L630.2,816.0 L631.2,816.0 L632.2,816.0 L633.2,816.0 L634.2,816.0 L635.2,816.0 L636.2,816.0 L637.2,816.0 L638.2,816.0 L639.2,816.0 L640.2,816.0 L641.2,816.0 L642.2,816.0 L643.2,816.0 L644.2,816.0 L645.2,816.0 L646.2,816.0 L647.2,816.0 L648.2,816.0 L649.2,816.0 L650.2,816.0 L651.2,816.0 L652.2,816.0 L653.2,816.0 L654.2,816.0 L655.2,816.0 L656.2,816.0 L657.2,816.0 L658.2,816.0 L659.2,816.0 L660.2,816.0 L661.2,816.0 L662.2,816.0 L663.2,816.0 L664.2,816.0 L665.2,816.0 L666.2,816.0 L667.2,816.0 L668.2,816.0 L669.2,816.0 L670.2,816.0 L671.2,816.0 L672.2,816.0 L673.2,816.0 L674.2,816.0 L675.2,816.0 L675.3,816.0" class="th"/><path d="M379.2,1001.9 L380.2,1001.9 L381.2,1001.8 L382.2,1001.6 L383.2,1001.5 L384.2,1001.4 L385.2,1001.2 L386.2,1001.0 L387.2,1000.8 L388.2,1000.5 L389.2,1000.2 L390.2,999.9 L391.2,999.6 L392.2,999.2 L393.2,998.8 L394.2,998.3 L395.2,997.8 L396.2,997.3 L397.2,996.7 L398.2,996.1 L399.2,995.4 L400.2,994.7 L401.2,994.0 L402.2,993.1 L403.2,992.3 L404.2,991.4 L405.2,990.4 L406.2,989.4 L407.2,988.3 L408.2,987.2 L409.2,986.0 L410.2,984.7 L411.2,983.4 L412.2,982.0 L413.2,980.6 L414.2,979.1 L415.2,977.5 L416.2,975.8 L417.2,974.1 L418.2,972.3 L419.2,970.5 L420.2,968.6 L421.2,966.6 L422.2,964.6 L423.2,962.5 L424.2,960.3 L425.2,958.1 L426.2,955.9 L427.2,953.6 L428.2,951.2 L429.2,948.8 L430.2,946.4 L431.2,943.9 L432.2,941.3 L433.2,938.8 L434.2,936.2 L435.2,933.6 L436.2,930.9 L437.2,928.2 L438.2,925.5 L439.2,922.8 L440.2,920.1 L441.2,917.4 L442.2,914.7 L443.2,912.0 L444.2,909.3 L445.2,906.6 L446.2,903.9 L447.2,901.3 L448.2,898.7 L449.2,896.1 L450.2,893.5 L451.2,891.0 L452.2,888.5 L453.2,886.1 L454.2,883.7 L455.2,881.3 L456.2,879.0 L457.2,876.8 L458.2,874.6 L459.2,872.4 L460.2,870.2 L461.2,868.2 L462.2,866.1 L463.2,864.1 L464.2,862.2 L465.2,860.3 L466.2,858.4 L467.2,856.6 L468.2,854.8 L469.2,853.1 L470.2,851.5 L471.2,849.8 L472.2,848.3 L473.2,846.8 L474.2,845.3 L475.2,843.9 L476.2,842.5 L477.2,841.2 L478.2,840.0 L479.2,838.7 L480.2,837.6 L481.2,836.4 L482.2,835.3 L483.2,834.3 L484.2,833.3 L485.2,832.3 L486.2,831.4 L487.2,830.5 L488.2,829.6 L489.2,828.8 L490.2,828.0 L491.2,827.2 L492.2,826.4 L493.2,825.7 L494.2,825.0 L495.2,824.4 L496.2,823.7 L497.2,823.1 L498.2,822.5 L499.2,822.0 L500.2,821.4 L501.2,820.9 L502.2,820.4 L503.2,819.9 L504.2,819.5 L505.2,819.0 L506.2,818.6 L507.2,818.2 L508.2,817.7 L509.2,817.3 L510.2,817.0 L511.2,816.6 L512.2,816.2 L513.2,815.9 L514.2,815.5 L515.2,815.2 L516.2,814.9 L517.2,814.6 L518.2,814.3 L519.2,814.0 L520.2,813.7 L521.2,813.4 L522.2,813.2 L523.2,813.0 L524.2,812.7 L525.2,812.5 L526.2,812.3 L527.2,812.1 L528.2,811.9 L529.2,811.7 L530.2,811.6 L531.2,811.4 L532.2,811.3 L533.2,811.1 L534.2,811.0 L535.2,810.8 L536.2,810.7 L537.2,810.6 L538.2,810.5 L539.2,810.4 L540.2,810.3 L541.2,810.2 L542.2,810.1 L543.2,810.0 L544.2,809.9 L545.2,809.8 L546.2,809.8 L547.2,809.7 L548.2,809.6 L549.2,809.5 L550.2,809.4 L551.2,809.4 L552.2,809.3 L553.2,809.2 L554.2,809.2 L555.2,809.1 L556.2,809.0 L557.2,809.0 L558.2,808.9 L559.2,808.9 L560.2,808.8 L561.2,808.7 L562.2,808.7 L563.2,808.6 L564.2,808.6 L565.2,808.5 L566.2,808.5 L567.2,808.5 L568.2,808.4 L569.2,808.4 L570.2,808.3 L571.2,808.3 L572.2,808.3 L573.2,808.2 L574.2,808.2 L575.2,808.2 L576.2,808.1 L577.2,808.1 L578.2,808.1 L579.2,808.1 L580.2,808.0 L581.2,808.0 L582.2,808.0 L583.2,808.0 L584.2,808.0 L585.2,807.9 L586.2,807.9 L587.2,807.9 L588.2,807.9 L589.2,807.9 L590.2,807.9 L591.2,807.9 L592.2,807.8 L593.2,807.8 L594.2,807.8 L595.2,807.8 L596.2,807.8 L597.2,807.8 L598.2,807.8 L599.2,807.8 L600.2,807.8 L601.2,807.8 L602.2,807.7 L603.2,807.7 L604.2,807.7 L605.2,807.7 L606.2,807.7 L607.2,807.7 L608.2,807.7 L609.2,807.7 L610.2,807.7 L611.2,807.7 L612.2,807.7 L613.2,807.7 L614.2,807.7 L615.2,807.7 L616.2,807.7 L617.2,807.7 L618.2,807.7 L619.2,807.7 L620.2,807.7 L621.2,807.7 L622.2,807.7 L623.2,807.7 L624.2,807.7 L625.2,807.7 L626.2,807.7 L627.2,807.7 L628.2,807.7 L629.2,807.7 L630.2,807.7 L631.2,807.7 L632.2,807.7 L633.2,807.7 L634.2,807.7 L635.2,807.7 L636.2,807.7 L637.2,807.7 L638.2,807.7 L639.2,807.7 L640.2,807.7 L641.2,807.7 L642.2,807.7 L643.2,807.7 L644.2,807.7 L645.2,807.7 L646.2,807.7 L647.2,807.7 L648.2,807.7 L649.2,807.7 L650.2,807.7 L651.2,807.7 L652.2,807.7 L653.2,807.8 L654.2,807.8 L655.2,807.8 L656.2,807.8 L657.2,807.8 L658.2,807.8 L659.2,807.8 L660.2,807.8 L661.2,807.8 L662.2,807.8 L663.2,807.8 L664.2,807.8 L665.2,807.8 L666.2,807.8 L667.2,807.8 L668.2,807.8 L669.2,807.8 L670.2,807.9 L671.2,807.9 L672.2,807.9 L673.2,807.9 L674.2,807.9 L675.2,807.9 L675.3,807.9" class="tk"/></g></g>
<g><path d="M378.70,1056.40H675.80" class="fh"/><path d="M378.70,1263.30H675.80" class="fb"/><path d="M379.20,1056.40V1263.30M675.30,1056.40V1263.30" class="fv"/><path d="M416.21,1263.30v-3.4M416.21,1056.40v3.4M453.22,1263.30v-6.0M453.22,1056.40v6.0M490.24,1263.30v-3.4M490.24,1056.40v3.4M527.25,1263.30v-6.0M527.25,1056.40v6.0M564.26,1263.30v-3.4M564.26,1056.40v3.4M601.27,1263.30v-6.0M601.27,1056.40v6.0M638.29,1263.30v-3.4M638.29,1056.40v3.4M379.20,1219.80h3.4M675.30,1219.80h-3.4M379.20,1176.30h6.0M675.30,1176.30h-6.0M379.20,1132.80h3.4M675.30,1132.80h-3.4M379.20,1089.30h6.0M675.30,1089.30h-6.0" class="t"/><text x="379.40" y="1272.90" class="n" text-anchor="middle">0</text><text x="453.42" y="1272.90" class="n" text-anchor="middle">5</text><text x="527.45" y="1272.90" class="n" text-anchor="middle">10</text><text x="601.48" y="1272.90" class="n" text-anchor="middle">15</text><text x="675.50" y="1272.90" class="n" text-anchor="middle">20</text><text x="376.60" y="1267.10" class="n" text-anchor="end">0</text><text x="376.60" y="1180.10" class="n" text-anchor="end">50</text><text x="376.60" y="1093.10" class="n" text-anchor="end">100</text><text x="527.55" y="1285.00" class="a" text-anchor="middle">t (days)</text><text transform="translate(355.90,1159.85) rotate(-90)" class="a" text-anchor="middle">R(t)</text><text x="396.70" y="1087.00" class="ti">CMD</text><text x="361.60" y="1289.20" class="pl">(J)</text><g clip-path="url(#cJ)"><path d="M379.2,1263.6 L380.2,1263.5 L381.2,1263.3 L382.2,1263.1 L383.2,1262.9 L384.2,1262.6 L385.2,1262.4 L386.2,1262.1 L387.2,1261.8 L388.2,1261.4 L389.2,1261.1 L390.2,1260.7 L391.2,1260.2 L392.2,1259.8 L393.2,1259.3 L394.2,1258.8 L395.2,1258.2 L396.2,1257.7 L397.2,1257.0 L398.2,1256.4 L399.2,1255.7 L400.2,1255.0 L401.2,1254.3 L402.2,1253.5 L403.2,1252.7 L404.2,1251.8 L405.2,1250.9 L406.2,1250.0 L407.2,1249.1 L408.2,1248.1 L409.2,1247.1 L410.2,1246.0 L411.2,1244.9 L412.2,1243.8 L413.2,1242.7 L414.2,1241.5 L415.2,1240.4 L416.2,1239.2 L417.2,1237.9 L418.2,1236.7 L419.2,1235.4 L420.2,1234.1 L421.2,1232.8 L422.2,1231.5 L423.2,1230.1 L424.2,1228.7 L425.2,1227.4 L426.2,1226.0 L427.2,1224.6 L428.2,1223.2 L429.2,1221.8 L430.2,1220.4 L431.2,1219.0 L432.2,1217.5 L433.2,1216.1 L434.2,1214.7 L435.2,1213.3 L436.2,1211.8 L437.2,1210.4 L438.2,1209.0 L439.2,1207.6 L440.2,1206.2 L441.2,1204.8 L442.2,1203.4 L443.2,1202.0 L444.2,1200.7 L445.2,1199.3 L446.2,1198.0 L447.2,1196.6 L448.2,1195.3 L449.2,1194.0 L450.2,1192.7 L451.2,1191.4 L452.2,1190.2 L453.2,1188.9 L454.2,1187.7 L455.2,1186.5 L456.2,1185.3 L457.2,1184.1 L458.2,1182.9 L459.2,1181.8 L460.2,1180.7 L461.2,1179.5 L462.2,1178.4 L463.2,1177.4 L464.2,1176.3 L465.2,1175.3 L466.2,1174.2 L467.2,1173.2 L468.2,1172.3 L469.2,1171.3 L470.2,1170.3 L471.2,1169.4 L472.2,1168.5 L473.2,1167.6 L474.2,1166.7 L475.2,1165.9 L476.2,1165.0 L477.2,1164.2 L478.2,1163.4 L479.2,1162.6 L480.2,1161.8 L481.2,1161.1 L482.2,1160.4 L483.2,1159.6 L484.2,1158.9 L485.2,1158.2 L486.2,1157.6 L487.2,1156.9 L488.2,1156.3 L489.2,1155.7 L490.2,1155.0 L491.2,1154.4 L492.2,1153.9 L493.2,1153.3 L494.2,1152.8 L495.2,1152.2 L496.2,1151.7 L497.2,1151.2 L498.2,1150.7 L499.2,1150.2 L500.2,1149.7 L501.2,1149.3 L502.2,1148.8 L503.2,1148.4 L504.2,1148.0 L505.2,1147.6 L506.2,1147.2 L507.2,1146.8 L508.2,1146.4 L509.2,1146.0 L510.2,1145.7 L511.2,1145.3 L512.2,1145.0 L513.2,1144.6 L514.2,1144.3 L515.2,1144.0 L516.2,1143.7 L517.2,1143.4 L518.2,1143.1 L519.2,1142.9 L520.2,1142.6 L521.2,1142.3 L522.2,1142.1 L523.2,1141.8 L524.2,1141.6 L525.2,1141.4 L526.2,1141.1 L527.2,1140.9 L528.2,1140.7 L529.2,1140.5 L530.2,1140.3 L531.2,1140.1 L532.2,1139.9 L533.2,1139.7 L534.2,1139.5 L535.2,1139.4 L536.2,1139.2 L537.2,1139.0 L538.2,1138.8 L539.2,1138.7 L540.2,1138.5 L541.2,1138.4 L542.2,1138.2 L543.2,1138.1 L544.2,1138.0 L545.2,1137.8 L546.2,1137.7 L547.2,1137.6 L548.2,1137.4 L549.2,1137.3 L550.2,1137.2 L551.2,1137.1 L552.2,1137.0 L553.2,1136.8 L554.2,1136.7 L555.2,1136.6 L556.2,1136.5 L557.2,1136.4 L558.2,1136.3 L559.2,1136.2 L560.2,1136.2 L561.2,1136.1 L562.2,1136.0 L563.2,1135.9 L564.2,1135.8 L565.2,1135.7 L566.2,1135.6 L567.2,1135.6 L568.2,1135.5 L569.2,1135.4 L570.2,1135.4 L571.2,1135.3 L572.2,1135.2 L573.2,1135.2 L574.2,1135.1 L575.2,1135.0 L576.2,1135.0 L577.2,1134.9 L578.2,1134.9 L579.2,1134.8 L580.2,1134.8 L581.2,1134.7 L582.2,1134.7 L583.2,1134.6 L584.2,1134.6 L585.2,1134.5 L586.2,1134.5 L587.2,1134.5 L588.2,1134.4 L589.2,1134.4 L590.2,1134.3 L591.2,1134.3 L592.2,1134.3 L593.2,1134.2 L594.2,1134.2 L595.2,1134.2 L596.2,1134.2 L597.2,1134.1 L598.2,1134.1 L599.2,1134.1 L600.2,1134.0 L601.2,1134.0 L602.2,1134.0 L603.2,1134.0 L604.2,1134.0 L605.2,1133.9 L606.2,1133.9 L607.2,1133.9 L608.2,1133.9 L609.2,1133.9 L610.2,1133.8 L611.2,1133.8 L612.2,1133.8 L613.2,1133.8 L614.2,1133.8 L615.2,1133.8 L616.2,1133.8 L617.2,1133.7 L618.2,1133.7 L619.2,1133.7 L620.2,1133.7 L621.2,1133.7 L622.2,1133.7 L623.2,1133.7 L624.2,1133.7 L625.2,1133.6 L626.2,1133.6 L627.2,1133.6 L628.2,1133.6 L629.2,1133.6 L630.2,1133.6 L631.2,1133.6 L632.2,1133.6 L633.2,1133.6 L634.2,1133.6 L635.2,1133.6 L636.2,1133.5 L637.2,1133.5 L638.2,1133.5 L639.2,1133.5 L640.2,1133.5 L641.2,1133.5 L642.2,1133.5 L643.2,1133.5 L644.2,1133.5 L645.2,1133.5 L646.2,1133.5 L647.2,1133.5 L648.2,1133.5 L649.2,1133.4 L650.2,1133.4 L651.2,1133.4 L652.2,1133.4 L653.2,1133.4 L654.2,1133.4 L655.2,1133.4 L656.2,1133.4 L657.2,1133.4 L658.2,1133.4 L659.2,1133.4 L660.2,1133.4 L661.2,1133.4 L662.2,1133.4 L663.2,1133.3 L664.2,1133.3 L665.2,1133.3 L666.2,1133.3 L667.2,1133.3 L668.2,1133.3 L669.2,1133.3 L670.2,1133.3 L671.2,1133.3 L672.2,1133.3 L673.2,1133.3 L674.2,1133.3 L675.2,1133.3 L675.3,1133.3" class="th"/><path d="M379.2,1263.7 L380.2,1263.6 L381.2,1263.6 L382.2,1263.5 L383.2,1263.5 L384.2,1263.4 L385.2,1263.4 L386.2,1263.3 L387.2,1263.3 L388.2,1263.2 L389.2,1263.1 L390.2,1263.0 L391.2,1263.0 L392.2,1262.9 L393.2,1262.8 L394.2,1262.7 L395.2,1262.6 L396.2,1262.5 L397.2,1262.3 L398.2,1262.2 L399.2,1262.1 L400.2,1261.9 L401.2,1261.8 L402.2,1261.6 L403.2,1261.5 L404.2,1261.3 L405.2,1261.1 L406.2,1260.9 L407.2,1260.7 L408.2,1260.5 L409.2,1260.3 L410.2,1260.1 L411.2,1259.8 L412.2,1259.6 L413.2,1259.3 L414.2,1259.1 L415.2,1258.8 L416.2,1258.5 L417.2,1258.2 L418.2,1257.9 L419.2,1257.5 L420.2,1257.2 L421.2,1256.8 L422.2,1256.5 L423.2,1256.1 L424.2,1255.7 L425.2,1255.3 L426.2,1254.8 L427.2,1254.4 L428.2,1253.9 L429.2,1253.5 L430.2,1253.0 L431.2,1252.5 L432.2,1252.0 L433.2,1251.5 L434.2,1250.9 L435.2,1250.4 L436.2,1249.8 L437.2,1249.2 L438.2,1248.6 L439.2,1248.0 L440.2,1247.4 L441.2,1246.7 L442.2,1246.1 L443.2,1245.4 L444.2,1244.7 L445.2,1244.0 L446.2,1243.3 L447.2,1242.6 L448.2,1241.9 L449.2,1241.1 L450.2,1240.4 L451.2,1239.6 L452.2,1238.8 L453.2,1238.1 L454.2,1237.3 L455.2,1236.5 L456.2,1235.6 L457.2,1234.8 L458.2,1234.0 L459.2,1233.2 L460.2,1232.3 L461.2,1231.5 L462.2,1230.6 L463.2,1229.8 L464.2,1228.9 L465.2,1228.0 L466.2,1227.2 L467.2,1226.3 L468.2,1225.4 L469.2,1224.6 L470.2,1223.7 L471.2,1222.8 L472.2,1222.0 L473.2,1221.1 L474.2,1220.2 L475.2,1219.4 L476.2,1218.5 L477.2,1217.6 L478.2,1216.8 L479.2,1216.0 L480.2,1215.1 L481.2,1214.3 L482.2,1213.5 L483.2,1212.6 L484.2,1211.8 L485.2,1211.0 L486.2,1210.2 L487.2,1209.4 L488.2,1208.7 L489.2,1207.9 L490.2,1207.1 L491.2,1206.4 L492.2,1205.7 L493.2,1204.9 L494.2,1204.2 L495.2,1203.5 L496.2,1202.8 L497.2,1202.1 L498.2,1201.5 L499.2,1200.8 L500.2,1200.2 L501.2,1199.5 L502.2,1198.9 L503.2,1198.3 L504.2,1197.7 L505.2,1197.1 L506.2,1196.5 L507.2,1196.0 L508.2,1195.4 L509.2,1194.9 L510.2,1194.3 L511.2,1193.8 L512.2,1193.3 L513.2,1192.8 L514.2,1192.3 L515.2,1191.9 L516.2,1191.4 L517.2,1191.0 L518.2,1190.5 L519.2,1190.1 L520.2,1189.7 L521.2,1189.3 L522.2,1188.9 L523.2,1188.5 L524.2,1188.1 L525.2,1187.8 L526.2,1187.4 L527.2,1187.0 L528.2,1186.7 L529.2,1186.4 L530.2,1186.1 L531.2,1185.8 L532.2,1185.4 L533.2,1185.2 L534.2,1184.9 L535.2,1184.6 L536.2,1184.3 L537.2,1184.1 L538.2,1183.8 L539.2,1183.6 L540.2,1183.3 L541.2,1183.1 L542.2,1182.9 L543.2,1182.6 L544.2,1182.4 L545.2,1182.2 L546.2,1182.0 L547.2,1181.8 L548.2,1181.6 L549.2,1181.4 L550.2,1181.3 L551.2,1181.1 L552.2,1180.9 L553.2,1180.8 L554.2,1180.6 L555.2,1180.5 L556.2,1180.3 L557.2,1180.2 L558.2,1180.0 L559.2,1179.9 L560.2,1179.8 L561.2,1179.6 L562.2,1179.5 L563.2,1179.4 L564.2,1179.3 L565.2,1179.2 L566.2,1179.1 L567.2,1179.0 L568.2,1178.9 L569.2,1178.8 L570.2,1178.7 L571.2,1178.6 L572.2,1178.5 L573.2,1178.4 L574.2,1178.4 L575.2,1178.3 L576.2,1178.2 L577.2,1178.1 L578.2,1178.1 L579.2,1178.0 L580.2,1177.9 L581.2,1177.9 L582.2,1177.8 L583.2,1177.8 L584.2,1177.7 L585.2,1177.7 L586.2,1177.6 L587.2,1177.6 L588.2,1177.5 L589.2,1177.5 L590.2,1177.4 L591.2,1177.4 L592.2,1177.4 L593.2,1177.3 L594.2,1177.3 L595.2,1177.3 L596.2,1177.2 L597.2,1177.2 L598.2,1177.2 L599.2,1177.1 L600.2,1177.1 L601.2,1177.1 L602.2,1177.1 L603.2,1177.0 L604.2,1177.0 L605.2,1177.0 L606.2,1177.0 L607.2,1177.0 L608.2,1176.9 L609.2,1176.9 L610.2,1176.9 L611.2,1176.9 L612.2,1176.9 L613.2,1176.9 L614.2,1176.8 L615.2,1176.8 L616.2,1176.8 L617.2,1176.8 L618.2,1176.8 L619.2,1176.8 L620.2,1176.8 L621.2,1176.8 L622.2,1176.7 L623.2,1176.7 L624.2,1176.7 L625.2,1176.7 L626.2,1176.7 L627.2,1176.7 L628.2,1176.7 L629.2,1176.7 L630.2,1176.7 L631.2,1176.7 L632.2,1176.6 L633.2,1176.6 L634.2,1176.6 L635.2,1176.6 L636.2,1176.6 L637.2,1176.6 L638.2,1176.6 L639.2,1176.6 L640.2,1176.6 L641.2,1176.6 L642.2,1176.6 L643.2,1176.6 L644.2,1176.5 L645.2,1176.5 L646.2,1176.5 L647.2,1176.5 L648.2,1176.5 L649.2,1176.5 L650.2,1176.5 L651.2,1176.5 L652.2,1176.5 L653.2,1176.5 L654.2,1176.5 L655.2,1176.5 L656.2,1176.4 L657.2,1176.4 L658.2,1176.4 L659.2,1176.4 L660.2,1176.4 L661.2,1176.4 L662.2,1176.4 L663.2,1176.4 L664.2,1176.4 L665.2,1176.4 L666.2,1176.4 L667.2,1176.4 L668.2,1176.3 L669.2,1176.3 L670.2,1176.3 L671.2,1176.3 L672.2,1176.3 L673.2,1176.3 L674.2,1176.3 L675.2,1176.3 L675.3,1176.3" class="th"/><path d="M379.2,1263.6 L380.2,1263.5 L381.2,1263.3 L382.2,1263.2 L383.2,1263.0 L384.2,1262.9 L385.2,1262.7 L386.2,1262.5 L387.2,1262.3 L388.2,1262.1 L389.2,1261.8 L390.2,1261.6 L391.2,1261.3 L392.2,1261.1 L393.2,1260.8 L394.2,1260.5 L395.2,1260.2 L396.2,1259.8 L397.2,1259.5 L398.2,1259.1 L399.2,1258.7 L400.2,1258.3 L401.2,1257.9 L402.2,1257.4 L403.2,1257.0 L404.2,1256.5 L405.2,1256.0 L406.2,1255.5 L407.2,1255.0 L408.2,1254.4 L409.2,1253.8 L410.2,1253.2 L411.2,1252.6 L412.2,1252.0 L413.2,1251.3 L414.2,1250.7 L415.2,1250.0 L416.2,1249.3 L417.2,1248.5 L418.2,1247.8 L419.2,1247.0 L420.2,1246.2 L421.2,1245.4 L422.2,1244.6 L423.2,1243.8 L424.2,1242.9 L425.2,1242.1 L426.2,1241.2 L427.2,1240.3 L428.2,1239.4 L429.2,1238.4 L430.2,1237.5 L431.2,1236.6 L432.2,1235.6 L433.2,1234.6 L434.2,1233.6 L435.2,1232.6 L436.2,1231.6 L437.2,1230.6 L438.2,1229.6 L439.2,1228.6 L440.2,1227.6 L441.2,1226.5 L442.2,1225.5 L443.2,1224.5 L444.2,1223.4 L445.2,1222.4 L446.2,1221.3 L447.2,1220.3 L448.2,1219.2 L449.2,1218.2 L450.2,1217.1 L451.2,1216.1 L452.2,1215.1 L453.2,1214.0 L454.2,1213.0 L455.2,1212.0 L456.2,1210.9 L457.2,1209.9 L458.2,1208.9 L459.2,1207.9 L460.2,1206.9 L461.2,1205.9 L462.2,1204.9 L463.2,1203.9 L464.2,1203.0 L465.2,1202.0 L466.2,1201.1 L467.2,1200.1 L468.2,1199.2 L469.2,1198.3 L470.2,1197.4 L471.2,1196.5 L472.2,1195.6 L473.2,1194.7 L474.2,1193.8 L475.2,1193.0 L476.2,1192.1 L477.2,1191.3 L478.2,1190.5 L479.2,1189.7 L480.2,1188.9 L481.2,1188.1 L482.2,1187.4 L483.2,1186.6 L484.2,1185.9 L485.2,1185.1 L486.2,1184.4 L487.2,1183.7 L488.2,1183.0 L489.2,1182.3 L490.2,1181.7 L491.2,1181.0 L492.2,1180.3 L493.2,1179.7 L494.2,1179.1 L495.2,1178.5 L496.2,1177.9 L497.2,1177.3 L498.2,1176.7 L499.2,1176.2 L500.2,1175.6 L501.2,1175.1 L502.2,1174.5 L503.2,1174.0 L504.2,1173.5 L505.2,1173.0 L506.2,1172.5 L507.2,1172.0 L508.2,1171.6 L509.2,1171.1 L510.2,1170.7 L511.2,1170.2 L512.2,1169.8 L513.2,1169.4 L514.2,1169.0 L515.2,1168.6 L516.2,1168.2 L517.2,1167.8 L518.2,1167.4 L519.2,1167.0 L520.2,1166.7 L521.2,1166.3 L522.2,1166.0 L523.2,1165.7 L524.2,1165.4 L525.2,1165.0 L526.2,1164.7 L527.2,1164.4 L528.2,1164.1 L529.2,1163.8 L530.2,1163.6 L531.2,1163.3 L532.2,1163.0 L533.2,1162.8 L534.2,1162.5 L535.2,1162.3 L536.2,1162.0 L537.2,1161.8 L538.2,1161.6 L539.2,1161.4 L540.2,1161.2 L541.2,1161.0 L542.2,1160.8 L543.2,1160.6 L544.2,1160.4 L545.2,1160.2 L546.2,1160.0 L547.2,1159.8 L548.2,1159.7 L549.2,1159.5 L550.2,1159.3 L551.2,1159.2 L552.2,1159.0 L553.2,1158.9 L554.2,1158.8 L555.2,1158.6 L556.2,1158.5 L557.2,1158.4 L558.2,1158.3 L559.2,1158.1 L560.2,1158.0 L561.2,1157.9 L562.2,1157.8 L563.2,1157.7 L564.2,1157.6 L565.2,1157.5 L566.2,1157.4 L567.2,1157.3 L568.2,1157.2 L569.2,1157.2 L570.2,1157.1 L571.2,1157.0 L572.2,1156.9 L573.2,1156.8 L574.2,1156.8 L575.2,1156.7 L576.2,1156.6 L577.2,1156.6 L578.2,1156.5 L579.2,1156.5 L580.2,1156.4 L581.2,1156.4 L582.2,1156.3 L583.2,1156.2 L584.2,1156.2 L585.2,1156.2 L586.2,1156.1 L587.2,1156.1 L588.2,1156.0 L589.2,1156.0 L590.2,1155.9 L591.2,1155.9 L592.2,1155.9 L593.2,1155.8 L594.2,1155.8 L595.2,1155.8 L596.2,1155.7 L597.2,1155.7 L598.2,1155.7 L599.2,1155.6 L600.2,1155.6 L601.2,1155.6 L602.2,1155.6 L603.2,1155.5 L604.2,1155.5 L605.2,1155.5 L606.2,1155.5 L607.2,1155.4 L608.2,1155.4 L609.2,1155.4 L610.2,1155.4 L611.2,1155.3 L612.2,1155.3 L613.2,1155.3 L614.2,1155.3 L615.2,1155.3 L616.2,1155.3 L617.2,1155.2 L618.2,1155.2 L619.2,1155.2 L620.2,1155.2 L621.2,1155.2 L622.2,1155.1 L623.2,1155.1 L624.2,1155.1 L625.2,1155.1 L626.2,1155.1 L627.2,1155.1 L628.2,1155.1 L629.2,1155.0 L630.2,1155.0 L631.2,1155.0 L632.2,1155.0 L633.2,1155.0 L634.2,1155.0 L635.2,1155.0 L636.2,1154.9 L637.2,1154.9 L638.2,1154.9 L639.2,1154.9 L640.2,1154.9 L641.2,1154.9 L642.2,1154.9 L643.2,1154.9 L644.2,1154.8 L645.2,1154.8 L646.2,1154.8 L647.2,1154.8 L648.2,1154.8 L649.2,1154.8 L650.2,1154.8 L651.2,1154.8 L652.2,1154.7 L653.2,1154.7 L654.2,1154.7 L655.2,1154.7 L656.2,1154.7 L657.2,1154.7 L658.2,1154.7 L659.2,1154.7 L660.2,1154.6 L661.2,1154.6 L662.2,1154.6 L663.2,1154.6 L664.2,1154.6 L665.2,1154.6 L666.2,1154.6 L667.2,1154.6 L668.2,1154.6 L669.2,1154.6 L670.2,1154.5 L671.2,1154.5 L672.2,1154.5 L673.2,1154.5 L674.2,1154.5 L675.2,1154.5 L675.3,1154.5" class="tk"/></g></g>
</svg>
</body></html>
